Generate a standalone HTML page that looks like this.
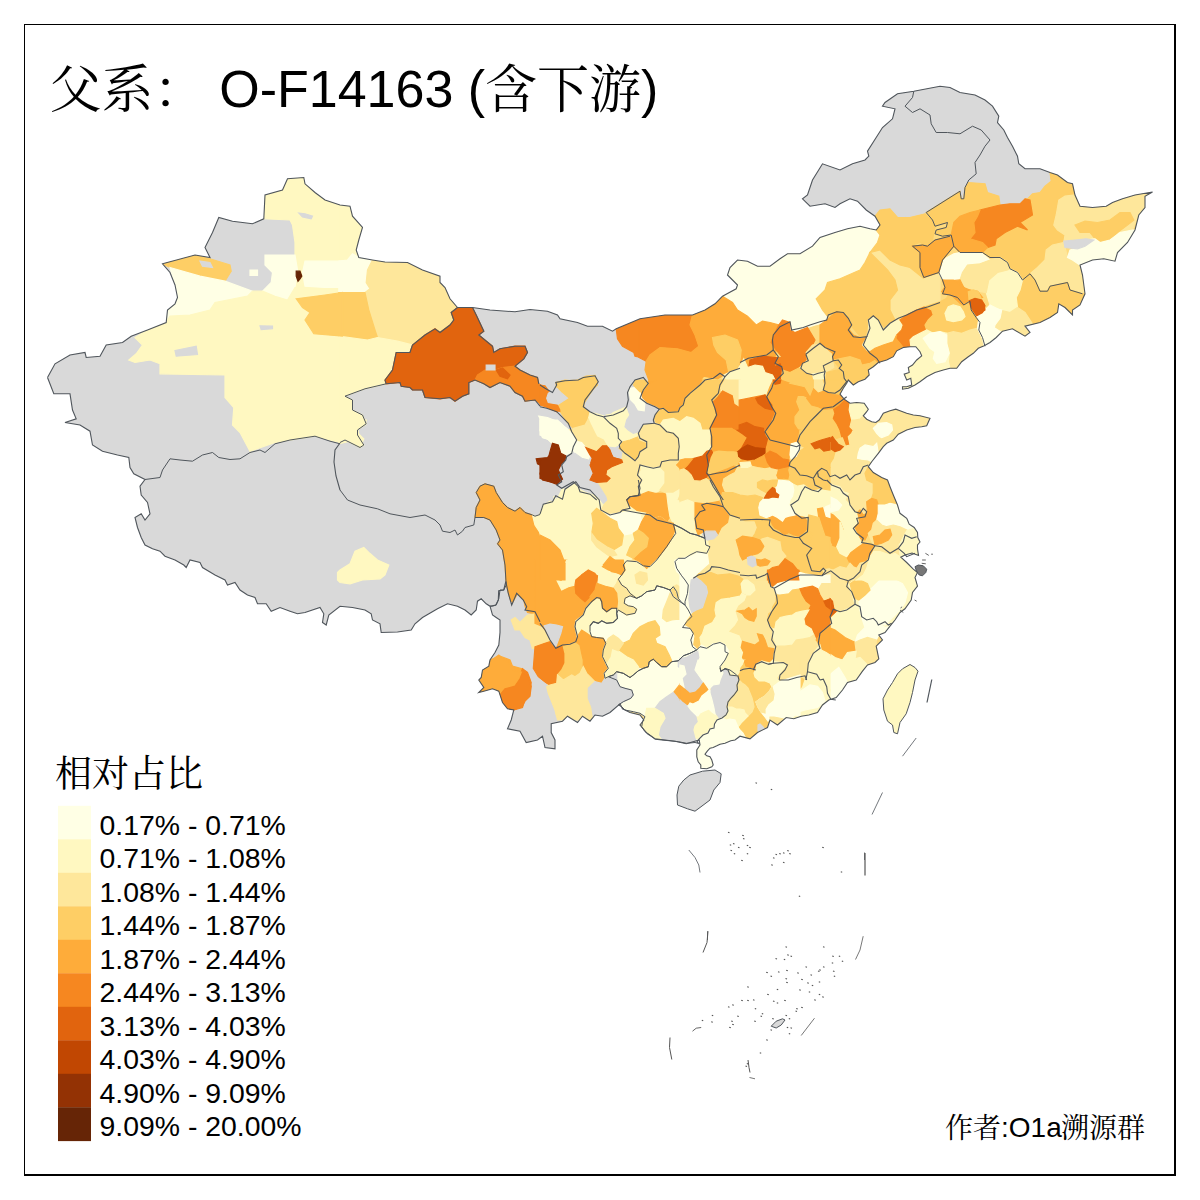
<!DOCTYPE html>
<html><head><meta charset="utf-8"><title>O-F14163</title>
<style>
html,body{margin:0;padding:0;background:#fff;}
body{width:1200px;height:1200px;position:relative;overflow:hidden;font-family:"Liberation Sans","Noto Serif CJK SC",sans-serif;color:#000;}
.ln{position:absolute;background:#000;}
#map{position:absolute;left:0;top:0;}
</style></head><body>
<svg id="map" width="1200" height="1200" viewBox="0 0 1200 1200">
<defs><clipPath id="cn"><polygon points="47.5,377.5 55.0,363.8 70.0,355.0 85.0,352.5 86.2,357.5 100.0,356.2 106.2,345.0 122.5,342.5 131.2,336.2 147.5,330.0 166.2,322.5 167.5,310.0 175.0,303.8 177.5,297.5 175.0,285.0 170.0,272.5 162.5,263.8 195.0,255.0 210.0,257.5 205.0,247.5 212.5,232.5 218.8,217.5 232.5,221.2 252.5,223.8 263.8,218.8 265.0,195.0 282.5,190.0 287.5,178.8 303.8,177.5 305.0,183.8 315.0,192.5 325.0,200.0 340.0,205.0 350.0,206.2 352.5,216.2 362.5,227.5 358.8,240.0 356.2,250.0 358.8,257.5 372.5,260.0 385.0,262.0 407.5,262.5 422.5,270.0 440.0,276.2 440.0,282.5 445.0,287.5 450.0,298.8 457.5,307.5 472.5,307.5 490.0,310.0 515.0,311.8 530.0,309.5 547.5,311.2 557.5,315.0 560.0,318.8 577.5,322.5 587.5,326.2 602.5,326.2 612.5,331.2 616.2,328.8 640.0,318.8 665.0,315.0 692.5,315.0 705.0,310.0 715.0,303.8 722.5,296.2 736.2,288.8 737.5,285.0 727.5,275.0 730.0,267.5 737.5,260.0 747.5,261.2 757.5,266.2 770.0,266.2 780.0,258.8 787.5,253.8 800.0,253.8 812.5,246.2 820.0,237.5 835.0,232.5 847.5,228.8 860.0,226.2 870.0,228.8 876.2,230.0 880.0,225.0 875.0,216.2 866.2,210.0 857.5,201.2 850.0,198.8 840.0,203.8 835.0,207.5 825.0,203.8 810.0,206.2 802.5,198.8 807.5,195.0 812.5,180.0 822.5,163.8 840.0,170.0 852.5,163.8 865.0,160.0 865.0,160.0 868.8,156.2 867.5,151.2 873.8,141.2 882.5,127.5 892.5,118.8 895.0,108.8 882.5,106.2 885.0,102.5 897.5,93.8 913.8,91.2 940.0,86.2 950.0,87.5 960.0,92.5 975.0,95.0 985.0,100.0 992.5,106.2 998.8,116.2 997.5,122.5 1003.8,130.0 1007.5,137.5 1012.5,146.2 1017.5,156.2 1018.8,163.8 1025.0,168.8 1040.0,168.8 1050.0,172.5 1057.5,175.0 1067.5,182.5 1072.5,183.8 1075.0,195.0 1080.0,206.2 1092.5,207.5 1106.2,206.2 1112.5,202.5 1122.5,198.8 1135.0,195.0 1152.5,192.0 1145.0,196.2 1145.0,207.5 1138.8,215.0 1135.0,230.0 1127.5,242.5 1117.5,252.5 1115.0,261.2 1103.8,258.8 1092.5,260.0 1080.0,265.0 1082.5,275.0 1085.0,293.8 1080.0,305.0 1072.5,310.0 1072.5,315.0 1065.0,307.5 1058.8,303.8 1057.5,312.5 1050.0,317.5 1040.0,322.5 1025.0,326.2 1030.0,332.5 1025.0,336.2 1012.5,328.8 1002.5,331.2 996.2,337.5 990.0,342.5 984.2,345.8 978.3,348.3 973.3,353.3 968.3,356.7 961.7,361.7 956.7,368.3 950.0,368.3 943.3,370.0 935.0,372.5 926.7,376.7 920.0,381.7 915.0,385.0 908.3,388.3 902.5,389.2 902.5,386.7 906.7,386.7 911.7,385.0 910.8,378.3 906.7,380.0 904.2,374.2 909.2,372.5 908.3,367.5 912.5,365.0 916.7,360.0 921.7,355.8 920.0,351.7 915.8,346.7 910.0,346.7 903.3,347.5 896.7,350.8 893.3,356.7 886.7,360.0 878.3,362.5 873.3,366.7 868.3,370.0 869.2,375.0 865.0,379.2 858.3,381.7 853.3,385.0 848.3,380.0 846.7,383.3 843.3,388.3 840.0,394.2 844.2,399.2 850.0,403.3 856.7,402.5 864.2,403.3 868.3,409.2 866.7,411.7 863.3,415.8 866.7,419.2 871.7,421.7 875.8,422.5 879.2,420.0 883.3,413.3 890.0,410.8 895.8,409.2 900.0,410.8 906.7,413.3 913.3,415.0 920.0,415.8 930.0,418.3 926.7,425.8 921.7,426.7 915.0,427.5 906.7,430.0 898.3,434.2 893.3,440.0 886.7,443.3 883.3,446.7 878.3,453.3 871.7,461.7 868.3,466.7 873.3,472.5 881.7,477.5 887.5,480.0 890.0,486.7 893.3,495.0 897.5,505.0 900.0,513.3 906.7,518.3 907.5,520.0 909.2,524.2 914.2,527.5 917.5,532.5 917.8,537.5 920.0,542.0 917.5,545.0 917.5,549.0 918.5,555.5 912.0,553.0 905.0,555.0 900.8,557.2 906.7,562.5 913.3,569.2 917.5,572.5 915.0,577.5 917.5,586.2 912.5,592.5 911.2,600.0 905.0,608.8 900.0,612.5 895.0,620.0 890.0,626.2 885.0,632.5 878.8,635.0 882.5,640.0 876.2,646.2 878.8,658.8 875.0,662.5 867.5,665.0 862.5,671.2 856.2,680.0 847.5,682.5 842.5,690.0 836.2,697.5 828.8,700.0 822.5,705.0 817.5,712.5 808.8,715.0 801.2,716.2 793.8,718.8 786.2,717.5 777.5,725.0 770.0,720.0 767.5,727.5 757.5,732.5 750.0,738.8 740.0,736.2 740.0,736.2 735.0,740.0 730.8,740.8 725.0,743.2 720.0,744.2 716.8,745.8 713.2,747.5 710.0,748.2 707.5,750.8 705.0,754.2 706.8,755.8 710.0,756.8 711.8,760.0 713.2,765.0 711.8,766.8 706.8,768.8 700.8,768.2 700.8,765.0 698.2,761.8 696.8,756.8 696.8,750.0 700.0,745.0 699.2,740.0 686.2,743.8 675.0,741.2 665.0,740.0 655.0,738.8 647.5,733.8 640.0,725.0 643.8,720.0 640.0,715.0 630.0,712.5 622.5,708.8 620.0,703.8 610.0,712.5 602.5,716.2 595.0,715.0 590.0,721.2 582.5,716.2 577.5,722.5 567.5,716.2 562.5,721.2 551.2,723.8 551.2,732.5 555.0,740.0 555.0,748.8 545.0,747.5 542.5,736.2 537.5,740.0 526.2,742.5 520.0,731.2 507.5,728.8 511.2,720.0 511.2,720.0 513.8,710.0 507.5,708.8 502.5,702.5 498.8,691.2 492.5,688.8 483.8,691.2 478.8,692.5 483.8,687.5 478.8,680.0 481.2,677.5 482.5,670.0 488.8,666.2 490.0,660.0 495.0,652.5 498.8,645.0 500.0,632.5 500.0,620.0 496.2,617.5 492.5,615.0 490.0,606.2 486.2,603.8 481.2,598.8 477.5,601.2 476.2,610.0 471.2,615.0 465.0,610.0 457.5,606.2 447.5,603.8 437.5,608.8 422.5,617.5 415.0,623.8 411.2,630.0 397.5,632.0 381.2,632.5 380.0,623.8 372.5,620.0 371.2,613.8 365.0,610.0 352.5,607.5 340.0,606.2 328.8,615.0 326.2,625.0 322.5,622.5 323.8,613.8 320.0,607.5 305.0,612.5 297.5,613.8 290.0,611.2 280.0,607.5 271.2,611.2 266.2,603.8 257.5,603.8 255.0,597.5 247.5,595.0 240.0,590.0 235.0,582.5 227.5,585.0 225.0,580.0 215.0,575.0 202.5,567.5 200.0,562.5 190.0,560.0 186.2,567.5 183.8,565.0 175.0,560.0 165.0,556.2 160.0,551.2 152.5,548.8 145.0,545.0 141.2,537.5 137.5,527.5 135.0,517.5 141.2,513.8 145.0,520.0 150.0,513.8 147.5,502.5 141.2,495.0 140.0,486.2 145.0,479.5 133.8,473.8 130.0,467.5 128.8,457.5 117.5,455.0 102.5,451.2 92.5,445.0 90.0,431.2 80.0,425.0 65.0,422.5 76.2,418.8 72.5,410.0 70.0,393.8 53.8,393.8"/></clipPath></defs>
<g clip-path="url(#cn)">
<polygon points="47.5,377.5 55.0,363.8 70.0,355.0 85.0,352.5 86.2,357.5 100.0,356.2 106.2,345.0 122.5,342.5 131.2,336.2 147.5,330.0 166.2,322.5 167.5,310.0 175.0,303.8 177.5,297.5 175.0,285.0 170.0,272.5 162.5,263.8 195.0,255.0 210.0,257.5 205.0,247.5 212.5,232.5 218.8,217.5 232.5,221.2 252.5,223.8 263.8,218.8 265.0,195.0 282.5,190.0 287.5,178.8 303.8,177.5 305.0,183.8 315.0,192.5 325.0,200.0 340.0,205.0 350.0,206.2 352.5,216.2 362.5,227.5 358.8,240.0 356.2,250.0 358.8,257.5 372.5,260.0 385.0,262.0 407.5,262.5 422.5,270.0 440.0,276.2 440.0,282.5 445.0,287.5 450.0,298.8 457.5,307.5 472.5,307.5 490.0,310.0 515.0,311.8 530.0,309.5 547.5,311.2 557.5,315.0 560.0,318.8 577.5,322.5 587.5,326.2 602.5,326.2 612.5,331.2 616.2,328.8 640.0,318.8 665.0,315.0 692.5,315.0 705.0,310.0 715.0,303.8 722.5,296.2 736.2,288.8 737.5,285.0 727.5,275.0 730.0,267.5 737.5,260.0 747.5,261.2 757.5,266.2 770.0,266.2 780.0,258.8 787.5,253.8 800.0,253.8 812.5,246.2 820.0,237.5 835.0,232.5 847.5,228.8 860.0,226.2 870.0,228.8 876.2,230.0 880.0,225.0 875.0,216.2 866.2,210.0 857.5,201.2 850.0,198.8 840.0,203.8 835.0,207.5 825.0,203.8 810.0,206.2 802.5,198.8 807.5,195.0 812.5,180.0 822.5,163.8 840.0,170.0 852.5,163.8 865.0,160.0 865.0,160.0 868.8,156.2 867.5,151.2 873.8,141.2 882.5,127.5 892.5,118.8 895.0,108.8 882.5,106.2 885.0,102.5 897.5,93.8 913.8,91.2 940.0,86.2 950.0,87.5 960.0,92.5 975.0,95.0 985.0,100.0 992.5,106.2 998.8,116.2 997.5,122.5 1003.8,130.0 1007.5,137.5 1012.5,146.2 1017.5,156.2 1018.8,163.8 1025.0,168.8 1040.0,168.8 1050.0,172.5 1057.5,175.0 1067.5,182.5 1072.5,183.8 1075.0,195.0 1080.0,206.2 1092.5,207.5 1106.2,206.2 1112.5,202.5 1122.5,198.8 1135.0,195.0 1152.5,192.0 1145.0,196.2 1145.0,207.5 1138.8,215.0 1135.0,230.0 1127.5,242.5 1117.5,252.5 1115.0,261.2 1103.8,258.8 1092.5,260.0 1080.0,265.0 1082.5,275.0 1085.0,293.8 1080.0,305.0 1072.5,310.0 1072.5,315.0 1065.0,307.5 1058.8,303.8 1057.5,312.5 1050.0,317.5 1040.0,322.5 1025.0,326.2 1030.0,332.5 1025.0,336.2 1012.5,328.8 1002.5,331.2 996.2,337.5 990.0,342.5 984.2,345.8 978.3,348.3 973.3,353.3 968.3,356.7 961.7,361.7 956.7,368.3 950.0,368.3 943.3,370.0 935.0,372.5 926.7,376.7 920.0,381.7 915.0,385.0 908.3,388.3 902.5,389.2 902.5,386.7 906.7,386.7 911.7,385.0 910.8,378.3 906.7,380.0 904.2,374.2 909.2,372.5 908.3,367.5 912.5,365.0 916.7,360.0 921.7,355.8 920.0,351.7 915.8,346.7 910.0,346.7 903.3,347.5 896.7,350.8 893.3,356.7 886.7,360.0 878.3,362.5 873.3,366.7 868.3,370.0 869.2,375.0 865.0,379.2 858.3,381.7 853.3,385.0 848.3,380.0 846.7,383.3 843.3,388.3 840.0,394.2 844.2,399.2 850.0,403.3 856.7,402.5 864.2,403.3 868.3,409.2 866.7,411.7 863.3,415.8 866.7,419.2 871.7,421.7 875.8,422.5 879.2,420.0 883.3,413.3 890.0,410.8 895.8,409.2 900.0,410.8 906.7,413.3 913.3,415.0 920.0,415.8 930.0,418.3 926.7,425.8 921.7,426.7 915.0,427.5 906.7,430.0 898.3,434.2 893.3,440.0 886.7,443.3 883.3,446.7 878.3,453.3 871.7,461.7 868.3,466.7 873.3,472.5 881.7,477.5 887.5,480.0 890.0,486.7 893.3,495.0 897.5,505.0 900.0,513.3 906.7,518.3 907.5,520.0 909.2,524.2 914.2,527.5 917.5,532.5 917.8,537.5 920.0,542.0 917.5,545.0 917.5,549.0 918.5,555.5 912.0,553.0 905.0,555.0 900.8,557.2 906.7,562.5 913.3,569.2 917.5,572.5 915.0,577.5 917.5,586.2 912.5,592.5 911.2,600.0 905.0,608.8 900.0,612.5 895.0,620.0 890.0,626.2 885.0,632.5 878.8,635.0 882.5,640.0 876.2,646.2 878.8,658.8 875.0,662.5 867.5,665.0 862.5,671.2 856.2,680.0 847.5,682.5 842.5,690.0 836.2,697.5 828.8,700.0 822.5,705.0 817.5,712.5 808.8,715.0 801.2,716.2 793.8,718.8 786.2,717.5 777.5,725.0 770.0,720.0 767.5,727.5 757.5,732.5 750.0,738.8 740.0,736.2 740.0,736.2 735.0,740.0 730.8,740.8 725.0,743.2 720.0,744.2 716.8,745.8 713.2,747.5 710.0,748.2 707.5,750.8 705.0,754.2 706.8,755.8 710.0,756.8 711.8,760.0 713.2,765.0 711.8,766.8 706.8,768.8 700.8,768.2 700.8,765.0 698.2,761.8 696.8,756.8 696.8,750.0 700.0,745.0 699.2,740.0 686.2,743.8 675.0,741.2 665.0,740.0 655.0,738.8 647.5,733.8 640.0,725.0 643.8,720.0 640.0,715.0 630.0,712.5 622.5,708.8 620.0,703.8 610.0,712.5 602.5,716.2 595.0,715.0 590.0,721.2 582.5,716.2 577.5,722.5 567.5,716.2 562.5,721.2 551.2,723.8 551.2,732.5 555.0,740.0 555.0,748.8 545.0,747.5 542.5,736.2 537.5,740.0 526.2,742.5 520.0,731.2 507.5,728.8 511.2,720.0 511.2,720.0 513.8,710.0 507.5,708.8 502.5,702.5 498.8,691.2 492.5,688.8 483.8,691.2 478.8,692.5 483.8,687.5 478.8,680.0 481.2,677.5 482.5,670.0 488.8,666.2 490.0,660.0 495.0,652.5 498.8,645.0 500.0,632.5 500.0,620.0 496.2,617.5 492.5,615.0 490.0,606.2 486.2,603.8 481.2,598.8 477.5,601.2 476.2,610.0 471.2,615.0 465.0,610.0 457.5,606.2 447.5,603.8 437.5,608.8 422.5,617.5 415.0,623.8 411.2,630.0 397.5,632.0 381.2,632.5 380.0,623.8 372.5,620.0 371.2,613.8 365.0,610.0 352.5,607.5 340.0,606.2 328.8,615.0 326.2,625.0 322.5,622.5 323.8,613.8 320.0,607.5 305.0,612.5 297.5,613.8 290.0,611.2 280.0,607.5 271.2,611.2 266.2,603.8 257.5,603.8 255.0,597.5 247.5,595.0 240.0,590.0 235.0,582.5 227.5,585.0 225.0,580.0 215.0,575.0 202.5,567.5 200.0,562.5 190.0,560.0 186.2,567.5 183.8,565.0 175.0,560.0 165.0,556.2 160.0,551.2 152.5,548.8 145.0,545.0 141.2,537.5 137.5,527.5 135.0,517.5 141.2,513.8 145.0,520.0 150.0,513.8 147.5,502.5 141.2,495.0 140.0,486.2 145.0,479.5 133.8,473.8 130.0,467.5 128.8,457.5 117.5,455.0 102.5,451.2 92.5,445.0 90.0,431.2 80.0,425.0 65.0,422.5 76.2,418.8 72.5,410.0 70.0,393.8 53.8,393.8" fill="#d9d9d9" stroke="#d9d9d9" stroke-width="1.2"/>
<polygon points="668.0,322.0 700.0,312.0 735.0,288.0 760.0,262.0 800.0,250.0 850.0,228.0 876.0,230.0 878.0,214.0 900.0,212.0 930.0,214.0 960.0,195.0 1000.0,185.0 1060.0,168.0 1100.0,150.0 1180.0,160.0 1180.0,340.0 1020.0,340.0 1000.0,440.0 960.0,600.0 900.0,720.0 780.0,770.0 700.0,770.0 690.0,740.0 640.0,740.0 620.0,700.0 600.0,640.0 610.0,590.0 600.0,560.0 640.0,540.0 660.0,500.0 640.0,470.0 650.0,440.0 670.0,420.0 660.0,380.0 668.0,350.0" fill="#fedb80" stroke="#fedb80" stroke-width="1.2"/>
<polygon points="875.0,216.2 877.5,211.2 885.0,208.8 892.5,211.2 895.0,217.5 905.0,217.5 917.5,215.0 926.2,212.5 960.0,191.2 961.2,198.8 963.8,198.8 965.0,187.5 968.8,182.5 985.0,183.8 987.5,192.5 998.8,196.2 1000.0,205.0 1010.0,203.8 1020.0,203.8 1027.5,198.8 1032.5,193.8 1040.0,192.5 1045.0,186.2 1051.2,181.2 1050.0,172.5 1060.0,135.0 1010.0,35.0 860.0,35.0 810.0,160.0 810.0,216.2" fill="#d9d9d9" stroke="#d9d9d9" stroke-width="1.2"/>
<polygon points="263.8,218.8 265.0,195.0 282.5,190.0 287.5,178.8 303.8,177.5 305.0,183.8 315.0,192.5 325.0,200.0 340.0,205.0 342.5,205.0 342.5,261.2 305.0,261.2 302.5,272.5 305.0,286.2 295.0,287.5 297.5,270.0 295.0,255.0 295.0,242.5 292.5,225.0 290.0,220.0" fill="#fff8c1" stroke="#fff8c1" stroke-width="1.2"/>
<polygon points="162.5,263.8 195.0,255.0 210.0,258.8 230.0,265.0 231.2,271.2 225.0,281.2 200.0,276.2 170.0,267.5" fill="#fece65" stroke="#fece65" stroke-width="1.2"/>
<polygon points="170.0,267.5 200.0,276.2 225.0,281.2 252.5,291.2 247.5,296.2 215.0,302.5 210.0,310.0 190.0,315.0 170.0,316.2 166.2,322.5 167.5,310.0 175.0,303.8 177.5,297.5 175.0,285.0" fill="#ffffe5" stroke="#ffffe5" stroke-width="1.2"/>
<polygon points="265.0,255.0 295.0,255.0 297.5,270.0 295.0,287.5 287.5,300.0 275.0,296.2 262.5,291.2 271.2,282.5 272.5,272.5 265.0,265.0" fill="#ffffe5" stroke="#ffffe5" stroke-width="1.2"/>
<polygon points="250.0,270.0 257.5,270.0 257.5,275.5 250.0,275.5" fill="#ffffe5" stroke="#ffffe5" stroke-width="1.2"/>
<polygon points="135.0,337.5 147.5,330.0 166.2,322.5 170.0,316.2 190.0,315.0 210.0,310.0 215.0,302.5 247.5,296.2 252.5,291.2 262.5,291.2 275.0,296.2 287.5,300.0 295.0,287.5 305.0,286.2 325.0,287.5 342.5,287.5 342.5,442.5 340.0,442.5 315.0,436.2 275.0,442.5 250.0,451.2 240.0,432.5 232.5,425.0 233.8,407.5 225.0,397.5 225.0,375.0 160.0,373.8 160.0,363.8 150.0,360.0 135.0,362.5 128.8,360.0 136.2,353.8 142.5,345.0" fill="#fff8c1" stroke="#fff8c1" stroke-width="1.2"/>
<polygon points="338.8,205.0 350.0,206.2 352.5,216.2 362.5,227.5 358.8,240.0 356.2,250.0 358.8,257.5 352.5,253.8 347.5,260.0 338.8,261.2" fill="#fff8c1" stroke="#fff8c1" stroke-width="1.2"/>
<polygon points="338.8,261.2 347.5,260.0 352.5,253.8 358.8,257.5 372.5,260.0 367.5,270.0 366.2,282.5 370.0,288.8 365.0,292.5 338.8,292.5" fill="#ffffe5" stroke="#ffffe5" stroke-width="1.2"/>
<polygon points="372.5,260.0 385.0,262.0 407.5,262.5 422.5,270.0 440.0,276.2 440.0,282.5 445.0,287.5 450.0,298.8 457.5,307.5 451.2,312.5 453.8,320.0 450.0,325.0 440.0,332.5 435.0,328.8 425.0,335.0 412.5,345.0 397.5,341.2 377.5,337.5 375.0,330.0 368.8,310.0 365.0,292.5 370.0,288.8 366.2,282.5 367.5,270.0" fill="#fee79b" stroke="#fee79b" stroke-width="1.2"/>
<polygon points="338.8,292.5 365.0,292.5 368.8,310.0 375.0,330.0 377.5,337.5 367.5,340.0 338.8,336.2" fill="#fece65" stroke="#fece65" stroke-width="1.2"/>
<polygon points="338.8,336.2 367.5,340.0 377.5,337.5 397.5,341.2 412.5,345.0 410.0,352.5 396.2,352.5 392.5,370.0 385.0,380.0 386.2,383.8 365.0,388.8 345.0,396.2 352.5,400.0 352.5,410.0 362.5,415.0 366.2,423.8 357.5,430.0 357.5,435.0 363.8,445.0 360.0,447.5 345.0,440.0 338.8,442.5" fill="#fff8c1" stroke="#fff8c1" stroke-width="1.2"/>
<polygon points="457.5,307.5 472.5,307.5 476.2,315.0 483.8,331.2 478.8,335.0 492.5,346.2 493.8,352.5 500.0,348.8 515.0,346.2 525.0,346.2 527.5,352.5 523.8,358.8 515.0,366.2 502.5,367.5 495.0,370.0 485.0,370.0 477.5,375.0 475.0,380.0 468.8,382.5 468.8,393.8 462.5,396.2 455.0,401.2 450.0,397.5 440.0,398.8 425.0,397.5 422.5,390.0 412.5,390.0 410.0,387.5 401.2,386.2 400.0,382.5 386.2,383.8 385.0,380.0 392.5,370.0 396.2,352.5 410.0,352.5 412.5,345.0 425.0,335.0 435.0,328.8 440.0,332.5 450.0,325.0 453.8,320.0 451.2,312.5" fill="#e1640e" stroke="#e1640e" stroke-width="1.2"/>
<polygon points="556.2,382.5 565.0,380.0 575.0,381.2 586.2,376.2 595.0,375.5 597.5,382.5 590.0,393.8 583.8,403.8 583.8,410.0 590.0,415.0 587.5,425.0 573.8,428.8 567.5,422.5 560.0,411.2 560.0,406.2 571.2,401.2 570.0,393.8 560.0,387.5" fill="#fece65" stroke="#fece65" stroke-width="1.2"/>
<polygon points="616.2,328.8 641.2,318.8 641.2,357.5 635.0,356.2 633.8,352.5 622.5,346.2 617.5,338.8" fill="#f68720" stroke="#f68720" stroke-width="1.2"/>
<polygon points="538.8,416.2 547.5,417.5 560.0,422.5 567.5,430.0 575.0,440.0 573.8,450.0 570.0,456.2 565.0,450.0 557.5,442.5 542.5,437.5 540.0,430.0 543.8,425.0" fill="#ffffe5" stroke="#ffffe5" stroke-width="1.2"/>
<polygon points="573.8,428.8 587.5,425.0 592.5,435.0 595.0,442.5 585.0,447.5 575.0,440.0 567.5,430.0" fill="#fee79b" stroke="#fee79b" stroke-width="1.2"/>
<polygon points="587.5,425.0 590.0,415.0 601.2,417.5 607.5,420.0 615.0,428.8 617.5,442.5 602.5,445.0 595.0,442.5 592.5,435.0" fill="#fff8c1" stroke="#fff8c1" stroke-width="1.2"/>
<polygon points="607.5,420.0 606.2,415.0 626.2,412.5 630.0,417.5 625.0,425.0 640.0,435.0 640.0,440.0 633.8,437.5 622.5,447.5 617.5,442.5 615.0,428.8" fill="#fff8c1" stroke="#fff8c1" stroke-width="1.2"/>
<polygon points="722.5,296.2 736.2,288.8 737.5,285.0 727.5,275.0 730.0,267.5 737.5,260.0 747.5,261.2 757.5,266.2 770.0,266.2 780.0,258.8 787.5,253.8 800.0,253.8 812.5,246.2 820.0,237.5 835.0,232.5 847.5,228.8 860.0,226.2 870.0,228.8 876.2,230.0 880.0,235.0 877.5,242.5 870.0,252.5 865.0,262.5 860.0,270.0 840.0,278.8 827.5,282.5 825.0,290.0 816.2,298.8 822.5,310.0 827.5,316.2 825.0,322.5 815.0,325.0 807.5,327.5 795.0,332.5 790.0,330.0 790.0,322.5 782.5,320.0 778.8,325.0 770.0,322.5 762.5,321.2 756.2,325.0 747.5,316.2 737.5,310.0 732.5,302.5" fill="#ffffe5" stroke="#ffffe5" stroke-width="1.2"/>
<polygon points="870.0,252.5 880.0,250.0 890.0,260.0 900.0,265.0 910.0,267.5 922.5,277.5 940.0,273.8 940.0,303.8 933.8,307.5 922.5,307.5 915.0,310.0 905.0,316.2 895.0,320.0 890.0,310.0 890.0,300.0 897.5,290.0 895.0,280.0 887.5,270.0 880.0,262.5" fill="#fee79b" stroke="#fee79b" stroke-width="1.2"/>
<polygon points="870.0,252.5 880.0,262.5 887.5,270.0 895.0,280.0 897.5,290.0 890.0,300.0 890.0,310.0 895.0,320.0 885.0,327.5 880.0,322.5 873.8,316.2 868.8,320.0 865.0,337.5 860.0,336.2 852.5,327.5 847.5,320.0 840.0,311.2 827.5,316.2 822.5,310.0 816.2,298.8 825.0,290.0 827.5,282.5 840.0,278.8 860.0,270.0 865.0,262.5" fill="#fece65" stroke="#fece65" stroke-width="1.2"/>
<polygon points="876.2,230.0 880.0,225.0 875.0,216.2 880.0,210.0 890.0,208.8 897.5,217.5 910.0,217.5 925.0,213.8 931.2,220.0 935.0,227.5 932.5,240.0 927.5,246.2 920.0,242.5 912.5,245.0 917.5,250.0 921.2,260.0 920.0,270.0 922.5,277.5 910.0,267.5 900.0,265.0 890.0,260.0 880.0,250.0 870.0,252.5 877.5,242.5 880.0,235.0" fill="#fece65" stroke="#fece65" stroke-width="1.2"/>
<polygon points="638.8,319.2 665.0,315.0 692.5,315.0 690.0,325.0 695.0,335.0 698.8,346.2 691.2,352.5 677.5,348.8 660.0,347.5 650.0,355.0 646.2,361.2 638.8,357.5" fill="#f68720" stroke="#f68720" stroke-width="1.2"/>
<polygon points="692.5,315.0 705.0,310.0 715.0,303.8 722.5,296.2 732.5,302.5 737.5,310.0 747.5,316.2 756.2,325.0 762.5,321.2 770.0,322.5 778.8,325.0 773.8,335.0 771.2,342.5 776.2,350.0 775.0,357.5 762.5,356.2 750.0,360.0 747.5,367.5 743.8,358.8 737.5,370.0 728.8,372.5 723.8,375.0 717.5,378.8 703.8,376.2 697.5,383.8 690.0,392.5 682.5,400.0 676.2,411.2 665.0,410.0 655.0,401.2 647.5,392.5 648.8,380.0 645.0,370.0 646.2,361.2 650.0,355.0 660.0,347.5 677.5,348.8 691.2,352.5 698.8,346.2 695.0,335.0 690.0,325.0" fill="#feac3a" stroke="#feac3a" stroke-width="1.2"/>
<polygon points="926.2,212.5 960.0,191.2 961.2,198.8 963.8,198.8 965.0,187.5 968.8,182.5 985.0,183.8 987.5,192.5 998.8,196.2 1000.0,205.0 980.0,210.0 970.0,212.5 960.0,216.2 953.8,222.5 951.2,235.0 942.5,236.2 935.0,233.8 936.2,230.0 946.2,227.5 947.5,222.5 935.0,226.2 932.5,220.0" fill="#fece65" stroke="#fece65" stroke-width="1.2"/>
<polygon points="1050.0,172.5 1057.5,175.0 1067.5,182.5 1072.5,183.8 1075.0,195.0 1065.0,196.2 1058.8,200.0 1056.2,215.0 1053.8,225.0 1057.5,230.0 1065.0,235.0 1063.8,242.5 1052.5,245.0 1046.2,250.0 1045.0,260.0 1037.5,267.5 1030.0,273.8 1022.5,280.0 1017.5,272.5 1010.0,268.8 1007.5,262.5 1000.0,257.5 990.0,257.5 982.5,252.5 987.5,247.5 995.0,245.0 996.2,238.8 1005.0,232.5 1017.5,226.2 1027.5,230.0 1020.0,222.5 1032.5,215.0 1030.0,200.0 1025.0,198.8 1027.5,198.8 1032.5,193.8 1040.0,192.5 1045.0,186.2 1051.2,181.2" fill="#fece65" stroke="#fece65" stroke-width="1.2"/>
<polygon points="1000.0,205.0 1010.0,203.8 1020.0,203.8 1025.0,198.8 1030.0,200.0 1032.5,215.0 1020.0,222.5 1027.5,230.0 1017.5,226.2 1005.0,232.5 996.2,238.8 995.0,245.0 987.5,247.5 982.5,242.5 970.0,238.8 975.0,232.5 973.8,222.5 977.5,216.2 980.0,210.0" fill="#f68720" stroke="#f68720" stroke-width="1.2"/>
<polygon points="953.8,222.5 960.0,216.2 970.0,212.5 980.0,210.0 977.5,216.2 973.8,222.5 975.0,232.5 970.0,238.8 982.5,242.5 987.5,247.5 982.5,252.5 970.0,252.5 960.0,252.5 953.8,246.2 951.2,235.0" fill="#feac3a" stroke="#feac3a" stroke-width="1.2"/>
<polygon points="1075.0,195.0 1080.0,206.2 1092.5,207.5 1106.2,206.2 1112.5,202.5 1122.5,198.8 1135.0,195.0 1152.5,192.0 1145.0,196.2 1145.0,207.5 1138.8,215.0 1135.0,222.5 1132.5,230.0 1120.0,232.5 1110.0,240.0 1100.0,242.5 1095.0,238.8 1085.0,240.0 1072.5,240.0 1063.8,242.5 1065.0,235.0 1057.5,230.0 1053.8,225.0 1056.2,215.0 1058.8,200.0 1065.0,196.2" fill="#fee79b" stroke="#fee79b" stroke-width="1.2"/>
<polygon points="1046.2,250.0 1052.5,245.0 1063.8,242.5 1067.5,257.5 1072.5,260.0 1080.0,265.0 1082.5,275.0 1085.0,293.8 1082.5,293.8 1070.0,290.0 1067.5,282.5 1050.0,286.2 1047.5,291.2 1040.0,291.2 1035.0,280.0 1030.0,273.8 1037.5,267.5 1045.0,260.0" fill="#fee79b" stroke="#fee79b" stroke-width="1.2"/>
<polygon points="1022.5,280.0 1030.0,273.8 1035.0,280.0 1040.0,291.2 1047.5,291.2 1050.0,286.2 1067.5,282.5 1070.0,290.0 1082.5,293.8 1085.0,293.8 1080.0,305.0 1072.5,310.0 1072.5,315.0 1065.0,307.5 1058.8,303.8 1057.5,312.5 1050.0,317.5 1040.0,322.5 1032.5,323.8 1025.0,312.5 1017.5,307.5 1016.2,297.5 1020.0,290.0" fill="#fece65" stroke="#fece65" stroke-width="1.2"/>
<polygon points="988.8,280.0 997.5,272.5 1007.5,270.0 1010.0,268.8 1017.5,272.5 1022.5,280.0 1020.0,290.0 1016.2,297.5 1017.5,307.5 1010.0,312.5 1000.0,310.0 990.0,305.0 986.2,292.5" fill="#fff8c1" stroke="#fff8c1" stroke-width="1.2"/>
<polygon points="942.5,260.0 953.8,253.8 960.0,252.5 970.0,252.5 982.5,253.8 990.0,260.0 980.0,263.8 967.5,265.0 962.5,272.5 960.0,280.0 947.5,281.2 942.5,280.0 938.8,272.5" fill="#ffffe5" stroke="#ffffe5" stroke-width="1.2"/>
<polygon points="967.5,265.0 980.0,263.8 990.0,260.0 1000.0,257.5 1007.5,262.5 1010.0,268.8 1007.5,270.0 997.5,272.5 988.8,280.0 986.2,292.5 977.5,291.2 970.0,290.0 963.8,287.5 960.0,280.0 962.5,272.5" fill="#fee79b" stroke="#fee79b" stroke-width="1.2"/>
<polygon points="942.5,280.0 947.5,281.2 960.0,280.0 963.8,287.5 970.0,290.0 967.5,300.0 963.8,305.0 957.5,297.5 950.0,295.0 942.5,293.8 945.0,287.5" fill="#feac3a" stroke="#feac3a" stroke-width="1.2"/>
<polygon points="970.0,290.0 977.5,291.2 982.5,297.5 977.5,298.8 970.0,297.5" fill="#feac3a" stroke="#feac3a" stroke-width="1.2"/>
<polygon points="980.0,322.5 976.2,317.5 977.5,315.0 985.0,310.0 990.0,305.0 1000.0,310.0 996.2,317.5 992.5,325.0 1000.0,330.0 1002.5,331.2 996.2,337.5 990.0,342.5 985.0,346.2 982.5,337.5 978.8,330.0" fill="#ffffe5" stroke="#ffffe5" stroke-width="1.2"/>
<polygon points="1000.0,310.0 1010.0,312.5 1017.5,307.5 1025.0,312.5 1032.5,323.8 1025.0,326.2 1030.0,332.5 1025.0,336.2 1012.5,328.8 1002.5,331.2 1000.0,330.0 992.5,325.0 996.2,317.5" fill="#fee79b" stroke="#fee79b" stroke-width="1.2"/>
<polygon points="338.8,420.0 366.2,420.0 365.0,425.0 357.5,428.8 358.8,433.8 363.8,438.8 361.2,445.0 350.0,441.2 338.8,443.8" fill="#fff8c1" stroke="#fff8c1" stroke-width="1.2"/>
<polygon points="337.5,572.5 340.0,570.0 350.0,563.8 355.0,551.2 363.8,547.5 368.8,552.5 377.5,560.0 388.8,565.0 385.0,575.0 380.0,578.8 362.5,580.0 350.0,583.8 340.0,582.5 337.5,580.0" fill="#fff8c1" stroke="#fff8c1" stroke-width="1.2"/>
<polygon points="476.2,492.5 480.0,486.2 485.0,483.8 493.8,486.2 496.2,492.5 502.5,502.5 507.5,507.5 515.0,511.2 520.0,507.5 525.0,512.5 532.5,515.0 535.0,525.0 540.0,532.5 547.5,540.0 557.5,545.0 561.2,555.0 566.2,557.5 563.8,570.0 563.8,580.0 570.0,585.0 575.0,582.5 580.0,575.0 585.0,571.2 595.0,572.5 597.5,582.5 610.0,587.5 615.0,592.5 617.5,605.0 612.5,608.8 605.0,612.5 600.0,606.2 602.5,600.0 597.5,595.0 590.0,600.0 586.2,607.5 582.5,615.0 577.5,620.0 575.0,627.5 573.8,635.0 577.5,640.0 571.2,645.0 563.8,646.2 557.5,648.8 552.5,642.5 547.5,635.0 542.5,625.0 535.0,613.8 527.5,612.5 525.0,606.2 523.8,600.0 517.5,593.8 512.5,602.5 510.0,598.8 506.2,585.0 505.0,565.0 502.5,550.0 497.5,543.8 500.0,540.0 496.2,530.0 490.0,520.0 483.8,517.5 475.0,517.5 476.2,507.5 480.0,500.0" fill="#feac3a" stroke="#feac3a" stroke-width="1.2"/>
<polygon points="535.0,516.2 542.5,513.8 543.8,505.0 550.0,501.2 555.0,502.5 553.8,496.2 558.8,502.5 563.8,495.0 562.5,487.5 568.8,486.2 575.0,481.2 580.0,487.5 586.2,492.5 592.5,493.8 600.0,500.0 601.2,508.8 597.5,512.5 592.5,517.5 595.0,525.0 590.0,530.0 592.5,540.0 597.5,547.5 605.0,556.2 602.5,565.0 595.0,572.5 585.0,571.2 580.0,575.0 575.0,582.5 570.0,585.0 563.8,580.0 563.8,570.0 566.2,557.5 561.2,555.0 557.5,545.0 547.5,540.0 540.0,532.5 535.0,525.0 532.5,515.0" fill="#fff8c1" stroke="#fff8c1" stroke-width="1.2"/>
<polygon points="540.0,420.0 557.5,420.0 565.0,427.5 577.5,440.0 575.0,446.2 571.2,452.5 566.2,455.0 560.0,452.5 557.5,443.8 552.5,443.8 547.5,438.8 542.5,437.5 540.0,430.0" fill="#ffffe5" stroke="#ffffe5" stroke-width="1.2"/>
<polygon points="490.0,660.0 500.0,656.2 510.0,660.0 512.5,666.2 522.5,668.8 520.0,675.0 515.0,682.5 505.0,685.0 500.0,691.2 492.5,688.8 483.8,691.2 478.8,692.5 483.8,687.5 478.8,680.0 481.2,677.5 482.5,670.0 488.8,666.2" fill="#feac3a" stroke="#feac3a" stroke-width="1.2"/>
<polygon points="522.5,668.8 527.5,672.5 531.2,682.5 530.0,692.5 525.0,697.5 522.5,707.5 513.8,710.0 507.5,708.8 502.5,702.5 498.8,691.2 500.0,691.2 505.0,685.0 515.0,682.5 520.0,675.0" fill="#f68720" stroke="#f68720" stroke-width="1.2"/>
<polygon points="511.2,620.0 515.0,617.5 520.0,622.5 527.5,615.0 535.0,613.8 542.5,625.0 547.5,635.0 552.5,642.5 545.0,643.8 538.8,646.2 532.5,648.8 530.0,640.0 525.0,637.5 520.0,630.0 515.0,630.0" fill="#fee79b" stroke="#fee79b" stroke-width="1.2"/>
<polygon points="538.8,646.2 545.0,643.8 552.5,642.5 557.5,648.8 563.8,646.2 566.2,655.0 565.0,665.0 560.0,670.0 557.5,680.0 552.5,686.2 547.5,683.8 540.0,677.5 536.2,670.0 538.8,660.0" fill="#f68720" stroke="#f68720" stroke-width="1.2"/>
<polygon points="563.8,646.2 571.2,645.0 577.5,640.0 581.2,645.0 583.8,655.0 587.5,660.0 582.5,670.0 578.8,680.0 572.5,680.0 565.0,682.5 557.5,680.0 560.0,670.0 565.0,665.0 566.2,655.0" fill="#fece65" stroke="#fece65" stroke-width="1.2"/>
<polygon points="577.5,640.0 573.8,635.0 580.0,635.0 586.2,632.5 590.0,637.5 600.0,640.0 605.0,645.0 602.5,655.0 607.5,666.2 605.0,675.0 602.5,682.5 592.5,680.0 586.2,675.0 582.5,670.0 587.5,660.0 583.8,655.0 581.2,645.0" fill="#feac3a" stroke="#feac3a" stroke-width="1.2"/>
<polygon points="547.5,683.8 552.5,686.2 557.5,680.0 565.0,682.5 572.5,680.0 578.8,680.0 582.5,670.0 586.2,675.0 592.5,680.0 587.5,690.0 587.5,700.0 590.0,710.0 592.5,720.0 557.5,720.0 555.0,707.5 552.5,695.0" fill="#fee79b" stroke="#fee79b" stroke-width="1.2"/>
<polygon points="862.5,560.0 912.5,560.0 915.0,567.5 917.5,572.5 915.0,577.5 917.5,586.2 912.5,592.5 911.2,600.0 905.0,608.8 900.0,612.5 895.0,620.0 890.0,626.2 885.0,627.5 877.5,622.5 875.0,617.5 867.5,621.2 862.5,620.0 858.8,607.5 853.8,605.0 851.2,595.0 847.5,585.0 857.5,577.5 862.5,567.5" fill="#fff8c1" stroke="#fff8c1" stroke-width="1.2"/>
<polygon points="830.0,617.5 838.8,611.2 853.8,605.0 858.8,607.5 862.5,620.0 867.5,621.2 865.0,627.5 857.5,635.0 855.0,642.5 845.0,637.5 835.0,630.0 828.8,627.5" fill="#fff8c1" stroke="#fff8c1" stroke-width="1.2"/>
<polygon points="862.5,620.0 867.5,621.2 875.0,617.5 877.5,622.5 885.0,627.5 890.0,626.2 885.0,632.5 878.8,635.0 876.2,640.0 867.5,637.5 860.0,640.0 855.0,642.5 857.5,635.0 865.0,627.5" fill="#ffffe5" stroke="#ffffe5" stroke-width="1.2"/>
<polygon points="820.0,635.0 828.8,627.5 835.0,630.0 845.0,637.5 855.0,642.5 856.2,651.2 847.5,652.5 842.5,660.0 835.0,657.5 827.5,652.5 822.5,647.5 817.5,647.5" fill="#feac3a" stroke="#feac3a" stroke-width="1.2"/>
<polygon points="855.0,642.5 860.0,640.0 867.5,637.5 876.2,640.0 876.2,646.2 878.8,658.8 875.0,662.5 867.5,665.0 860.0,657.5 855.0,658.8 856.2,651.2" fill="#fee79b" stroke="#fee79b" stroke-width="1.2"/>
<polygon points="812.5,652.5 817.5,647.5 822.5,647.5 827.5,652.5 835.0,657.5 842.5,660.0 838.8,667.5 832.5,672.5 827.5,677.5 822.5,678.8 817.5,675.0 806.2,672.5 808.8,662.5" fill="#fff8c1" stroke="#fff8c1" stroke-width="1.2"/>
<polygon points="842.5,660.0 847.5,652.5 856.2,651.2 855.0,658.8 860.0,657.5 867.5,665.0 862.5,671.2 856.2,680.0 847.5,682.5 845.0,677.5 838.8,667.5" fill="#fff8c1" stroke="#fff8c1" stroke-width="1.2"/>
<polygon points="822.5,678.8 827.5,677.5 832.5,672.5 838.8,667.5 845.0,677.5 847.5,682.5 842.5,690.0 836.2,697.5 828.8,700.0 826.2,690.0" fill="#ffffe5" stroke="#ffffe5" stroke-width="1.2"/>
<polygon points="801.2,590.0 810.0,586.2 815.0,592.5 822.5,601.2 830.0,598.8 833.8,605.0 836.2,611.2 830.0,617.5 828.8,627.5 820.0,635.0 815.0,637.5 812.5,630.0 805.0,625.0 803.8,617.5 810.0,610.0 806.2,601.2" fill="#f68720" stroke="#f68720" stroke-width="1.2"/>
<polygon points="773.8,586.2 780.0,582.5 790.0,580.0 800.0,575.0 812.5,573.8 822.5,568.8 825.0,572.5 820.0,577.5 810.0,586.2 801.2,590.0 792.5,588.8 782.5,593.8 777.5,593.8" fill="#ffffe5" stroke="#ffffe5" stroke-width="1.2"/>
<polygon points="822.5,568.8 832.5,571.2 840.0,575.0 847.5,585.0 851.2,595.0 853.8,605.0 838.8,611.2 836.2,611.2 833.8,605.0 832.5,601.2 828.8,597.5 822.5,601.2 815.0,592.5 810.0,586.2 820.0,577.5 825.0,572.5" fill="#fee79b" stroke="#fee79b" stroke-width="1.2"/>
<polygon points="777.5,593.8 782.5,593.8 792.5,588.8 801.2,590.0 806.2,601.2 810.0,610.0 803.8,617.5 795.0,612.5 785.0,615.0 777.5,622.5 771.2,625.0 767.5,617.5 770.0,610.0 777.5,602.5" fill="#fece65" stroke="#fece65" stroke-width="1.2"/>
<polygon points="771.2,625.0 777.5,622.5 785.0,615.0 795.0,612.5 803.8,617.5 805.0,625.0 812.5,630.0 815.0,637.5 805.0,640.0 797.5,642.5 790.0,647.5 780.0,647.5 773.8,642.5 775.0,632.5" fill="#fff8c1" stroke="#fff8c1" stroke-width="1.2"/>
<polygon points="773.8,655.0 780.0,647.5 790.0,647.5 797.5,642.5 805.0,640.0 815.0,637.5 820.0,635.0 817.5,647.5 812.5,652.5 808.8,662.5 806.2,672.5 805.0,677.5 797.5,675.0 790.0,677.5 782.5,678.8 778.8,675.0 785.0,667.5 783.8,662.5 777.5,662.5" fill="#fee79b" stroke="#fee79b" stroke-width="1.2"/>
<polygon points="766.2,571.2 772.5,567.5 782.5,565.0 790.0,560.0 795.0,567.5 798.8,572.5 790.0,577.5 780.0,582.5 773.8,586.2 770.0,585.0" fill="#f68720" stroke="#f68720" stroke-width="1.2"/>
<polygon points="755.0,670.0 765.0,665.0 772.5,662.5 777.5,662.5 783.8,662.5 785.0,667.5 778.8,675.0 782.5,678.8 790.0,677.5 797.5,675.0 805.0,677.5 806.2,672.5 817.5,675.0 822.5,678.8 826.2,690.0 828.8,700.0 822.5,705.0 817.5,712.5 808.8,715.0 801.2,716.2 793.8,718.8 786.2,717.5 777.5,712.5 770.0,710.0 765.0,710.0 772.5,700.0 773.8,690.0 767.5,682.5 760.0,680.0" fill="#ffffe5" stroke="#ffffe5" stroke-width="1.2"/>
<polygon points="740.0,667.5 755.0,670.0 760.0,680.0 767.5,682.5 773.8,690.0 772.5,700.0 765.0,710.0 770.0,720.0 767.5,727.5 757.5,732.5 750.0,738.8 740.0,736.2" fill="#fece65" stroke="#fece65" stroke-width="1.2"/>
<polygon points="305.0,261.2 342.5,261.2 342.5,287.5 325.0,287.5 305.0,286.2 302.5,272.5" fill="#ffffe5" stroke="#ffffe5" stroke-width="1.2"/>
<polygon points="296.2,298.8 325.0,295.0 342.5,292.5 342.5,336.2 313.8,333.8 305.0,320.0 310.0,312.5 302.5,307.5" fill="#fece65" stroke="#fece65" stroke-width="1.2"/>
<polygon points="477.5,375.0 485.0,370.0 495.0,370.0 502.5,367.5 515.0,366.2 520.0,370.0 530.0,375.0 537.5,377.5 538.8,383.8 547.5,390.0 550.0,396.2 545.0,402.5 552.5,403.8 560.0,406.2 560.0,411.2 552.5,410.0 542.5,405.0 535.0,400.0 525.0,401.2 522.5,396.2 515.0,392.5 510.0,386.2 500.0,382.5 490.0,387.5 483.8,383.8 475.0,380.0" fill="#f68720" stroke="#f68720" stroke-width="1.2"/>
<polygon points="712.5,337.5 725.0,335.0 737.5,340.0 741.2,350.0 740.0,360.0 737.5,370.0 728.8,372.5 726.2,360.0 717.5,352.5 713.8,345.0" fill="#fece65" stroke="#fece65" stroke-width="1.2"/>
<polygon points="782.5,320.0 790.0,322.5 790.0,330.0 795.0,332.5 807.5,327.5 815.0,340.0 812.5,345.0 806.2,352.5 807.5,360.0 800.0,367.5 790.0,372.5 782.5,370.0 780.0,363.8 773.8,367.5 776.2,357.5 782.5,357.5 776.2,350.0 771.2,342.5 773.8,335.0 778.8,325.0" fill="#f68720" stroke="#f68720" stroke-width="1.2"/>
<polygon points="750.0,360.0 762.5,356.2 775.0,357.5 776.2,357.5 773.8,367.5 780.0,363.8 782.5,370.0 781.2,382.5 776.2,382.5 772.5,375.0 765.0,372.5 762.5,366.2 755.0,365.0 748.8,367.5" fill="#e1640e" stroke="#e1640e" stroke-width="1.2"/>
<polygon points="723.8,375.0 728.8,372.5 737.5,370.0 743.8,358.8 747.5,367.5 755.0,365.0 762.5,366.2 765.0,372.5 772.5,375.0 776.2,382.5 772.5,386.2 767.5,392.5 757.5,396.2 747.5,400.0 736.2,401.2 730.0,392.5 721.2,390.0" fill="#fff8c1" stroke="#fff8c1" stroke-width="1.2"/>
<polygon points="776.2,382.5 781.2,382.5 782.5,370.0 790.0,372.5 800.0,367.5 806.2,372.5 815.0,373.8 812.5,373.8 815.0,385.0 820.0,393.8 823.8,387.5 830.0,392.5 840.0,390.0 842.5,400.0 837.5,407.5 820.0,412.5 812.5,415.0 805.0,425.0 797.5,435.0 800.0,440.0 790.0,442.5 770.0,440.0 766.2,431.2 772.5,420.0 776.2,411.2 771.2,400.0 766.2,395.0 767.5,392.5 772.5,386.2" fill="#fece65" stroke="#fece65" stroke-width="1.2"/>
<polygon points="1075.0,225.0 1085.0,221.2 1097.5,222.5 1110.0,220.0 1120.0,212.5 1130.0,212.5 1133.8,220.0 1127.5,225.0 1117.5,232.5 1110.0,240.0 1100.0,242.5 1095.0,238.8 1090.0,232.5 1080.0,232.5" fill="#fece65" stroke="#fece65" stroke-width="1.2"/>
<polygon points="1070.0,250.0 1077.5,247.5 1085.0,240.0 1095.0,238.8 1100.0,242.5 1110.0,240.0 1120.0,232.5 1132.5,230.0 1135.0,230.0 1127.5,242.5 1117.5,252.5 1115.0,261.2 1103.8,258.8 1092.5,260.0 1080.0,265.0 1072.5,260.0 1067.5,257.5" fill="#ffffe5" stroke="#ffffe5" stroke-width="1.2"/>
<polygon points="970.0,297.5 977.5,298.8 983.8,303.8 985.0,310.0 977.5,315.0 971.2,310.0 970.0,301.2" fill="#e1640e" stroke="#e1640e" stroke-width="1.2"/>
<polygon points="912.5,246.2 922.5,245.0 927.5,246.2 935.0,240.0 950.0,236.2 953.8,246.2 942.5,260.0 938.8,272.5 923.8,277.5 920.0,267.5 920.0,252.5" fill="#feac3a" stroke="#feac3a" stroke-width="1.2"/>
<polygon points="575.0,582.5 580.0,575.0 585.0,571.2 595.0,572.5 597.5,582.5 595.0,590.0 590.0,595.0 582.5,600.0 576.2,593.8" fill="#f68720" stroke="#f68720" stroke-width="1.2"/>
<polygon points="545.0,625.0 552.5,622.5 561.2,627.5 560.0,637.5 555.0,645.0 552.5,642.5 547.5,635.0" fill="#d9d9d9" stroke="#d9d9d9" stroke-width="1.2"/>
<polygon points="552.5,443.8 557.5,443.8 560.0,452.5 566.2,455.0 563.8,461.2 560.0,465.0 563.8,478.8 552.5,482.5 542.5,480.0 540.0,473.8 542.5,466.2 537.5,463.8 536.2,458.8 547.5,457.5 552.5,452.5" fill="#933204" stroke="#933204" stroke-width="1.2"/>
<polygon points="586.2,447.5 592.5,451.2 602.5,452.5 606.2,445.0 610.0,450.0 612.5,457.5 622.5,460.0 620.0,465.0 610.0,468.8 608.8,480.0 600.0,481.2 592.5,482.5 590.0,476.2 595.0,470.0 590.0,465.0 592.5,457.5" fill="#e1640e" stroke="#e1640e" stroke-width="1.2"/>
<polygon points="478.8,692.5 483.8,683.8 480.0,677.5 483.8,671.2 481.2,667.5 490.0,661.2 498.8,655.0 502.5,658.8 510.0,663.8 512.5,670.0 522.5,672.5 520.0,678.8 515.0,686.2 505.0,688.8 500.0,695.0 492.5,692.5 483.8,695.0" fill="#feac3a" stroke="#feac3a" stroke-width="1.2"/>
<polygon points="522.5,672.5 527.5,676.2 531.2,686.2 530.0,696.2 525.0,701.2 522.5,706.2 513.8,710.0 507.5,708.8 502.5,706.2 498.8,695.0 500.0,695.0 505.0,688.8 515.0,686.2 520.0,678.8" fill="#f68720" stroke="#f68720" stroke-width="1.2"/>
<polygon points="870.0,590.0 880.0,580.0 890.0,577.5 902.5,583.8 907.5,592.5 905.0,602.5 900.0,610.0 890.0,620.0 885.0,625.0 877.5,622.5 875.0,617.5 867.5,621.2 862.5,620.0 860.0,610.0 858.8,600.0 865.0,595.0" fill="#ffffe5" stroke="#ffffe5" stroke-width="1.2"/>
<polygon points="850.0,583.8 857.5,578.8 867.5,583.8 870.0,590.0 865.0,595.0 858.8,600.0 853.8,597.5" fill="#fece65" stroke="#fece65" stroke-width="1.2"/>
<polygon points="822.5,601.2 828.8,597.5 832.5,601.2 833.8,608.8 836.2,611.2 830.0,616.2 826.2,608.8" fill="#e1640e" stroke="#e1640e" stroke-width="1.2"/>
<polygon points="802.5,685.0 812.5,680.0 822.5,678.8 826.2,690.0 828.8,700.0 822.5,705.0 817.5,712.5 808.8,715.0 805.0,707.5 802.5,697.5" fill="#fff8c1" stroke="#fff8c1" stroke-width="1.2"/>
<polygon points="296.2,271.2 300.0,271.2 301.8,276.2 300.0,278.8 298.0,281.2 296.2,276.2" fill="#662506" stroke="#662506" stroke-width="1.2"/>
<polygon points="298.8,213.0 305.0,213.8 312.5,216.2 311.2,218.8 302.5,217.0" fill="#d9d9d9" stroke="#d9d9d9" stroke-width="1.2"/>
<polygon points="175.0,350.5 196.2,346.2 197.5,354.5 176.2,356.2" fill="#d9d9d9" stroke="#d9d9d9" stroke-width="1.2"/>
<polygon points="260.0,325.8 272.5,326.2 272.5,328.8 261.2,329.5" fill="#d9d9d9" stroke="#d9d9d9" stroke-width="1.2"/>
<polygon points="200.0,261.2 210.0,262.5 212.5,267.5 202.5,266.2" fill="#d9d9d9" stroke="#d9d9d9" stroke-width="1.2"/>
<polygon points="496.2,370.0 502.5,368.0 510.0,375.0 507.5,378.8 500.0,376.2" fill="#e1640e" stroke="#e1640e" stroke-width="1.2"/>
<polygon points="486.2,365.0 495.0,365.0 495.0,370.0 486.2,370.0" fill="#d9d9d9" stroke="#d9d9d9" stroke-width="1.2"/>
<polygon points="806.2,352.5 812.5,345.0 821.2,343.8 827.5,346.2 830.0,351.2 837.5,352.5 832.5,360.0 833.8,367.5 825.0,372.5 815.0,373.8 806.2,372.5 800.0,367.5 807.5,360.0" fill="#fee79b" stroke="#fee79b" stroke-width="1.2"/>
<polygon points="826.2,372.5 837.5,370.0 842.5,372.5 845.0,380.0 840.0,390.0 830.0,392.5 823.8,387.5 825.0,377.5" fill="#fece65" stroke="#fece65" stroke-width="1.2"/>
<polygon points="812.5,373.8 825.0,372.5 823.8,387.5 820.0,393.8 815.0,385.0" fill="#fff8c1" stroke="#fff8c1" stroke-width="1.2"/>
<polygon points="1063.8,241.2 1075.0,240.0 1086.2,238.8 1093.8,240.0 1085.0,246.2 1077.5,248.8 1065.0,247.5" fill="#d9d9d9" stroke="#d9d9d9" stroke-width="1.2"/>
<polygon points="608.3,676.7 613.3,675.0 616.7,671.7 623.3,673.3 630.0,677.5 633.3,675.0 638.3,670.8 643.3,668.3 648.3,666.7 649.2,661.7 653.3,659.2 656.7,662.5 661.7,666.7 666.7,666.7 671.7,661.7 678.3,660.8 683.3,655.8 690.0,653.3 696.7,650.0 700.0,646.7 706.7,648.3 713.3,644.2 720.0,642.5 725.0,645.0 725.0,651.7 728.3,653.3 725.0,660.0 720.0,666.7 720.8,671.7 725.0,668.3 730.0,670.0 736.7,675.0 739.2,680.0 736.7,688.3 731.7,695.0 728.3,701.7 725.0,710.0 720.0,716.7 715.0,721.7 713.3,726.7 706.7,733.3 701.7,739.2 698.3,743.3 695.0,742.5 686.7,743.3 678.3,741.7 670.0,740.8 661.7,740.0 655.0,739.2 650.0,735.0 645.0,731.7 641.7,726.7 642.5,721.7 645.0,716.7 640.0,713.3 633.3,711.7 625.0,710.0 621.7,706.7 618.3,705.0 623.3,701.7 630.8,698.3 633.3,695.0 631.7,690.0 625.0,688.3 620.0,686.7 616.7,680.0" fill="#ffffe5" stroke="#ffffe5" stroke-width="1.2"/>
<polygon points="739.2,576.7 750.0,576.7 755.0,573.3 765.0,575.0 767.5,581.7 770.0,588.3 775.8,595.0 777.5,601.7 773.3,608.3 768.3,615.0 768.3,623.3 771.7,628.3 773.3,638.3 775.0,646.7 773.3,656.7 773.3,663.3 761.7,660.0 755.0,665.0 753.3,670.0 746.7,668.3 739.2,666.7" fill="#fee79b" stroke="#fee79b" stroke-width="1.2"/>
<polygon points="540.0,385.0 545.0,385.8 549.2,391.7 546.7,398.3 548.3,402.5 558.3,404.2 560.8,409.2 556.7,411.7 548.3,407.5 540.0,405.0" fill="#f68720" stroke="#f68720" stroke-width="1.2"/>
<polygon points="555.8,382.5 563.3,380.8 580.0,380.0 596.7,380.0 597.5,385.0 588.3,393.3 584.2,396.7 583.3,403.3 584.2,408.3 590.0,412.5 588.3,419.2 585.0,425.0 573.3,428.3 569.2,423.3 566.7,418.3 561.7,413.3 560.8,409.2 558.3,404.2 567.5,398.3 561.7,393.3 556.7,388.3" fill="#fece65" stroke="#fece65" stroke-width="1.2"/>
<polygon points="590.0,412.5 595.0,413.3 603.3,415.8 605.8,419.2 610.0,423.3 616.7,428.3 618.3,433.3 618.3,438.3 621.7,443.3 615.0,446.7 606.7,445.8 603.3,440.0 596.7,436.7 593.3,430.0 590.0,423.3 588.3,419.2" fill="#fff8c1" stroke="#fff8c1" stroke-width="1.2"/>
<polygon points="573.3,428.3 585.0,425.0 588.3,419.2 590.0,423.3 593.3,430.0 596.7,436.7 603.3,440.0 606.7,445.8 602.5,445.8 596.7,451.7 585.8,447.5 581.7,442.5 577.5,441.7 573.3,435.0" fill="#fee79b" stroke="#fee79b" stroke-width="1.2"/>
<polygon points="540.0,417.5 546.7,418.3 556.7,421.7 566.7,428.3 573.3,435.0 577.5,441.7 573.3,446.7 571.7,454.2 565.8,455.8 560.8,453.3 558.3,445.0 552.5,443.3 545.0,436.7 540.0,435.0" fill="#ffffe5" stroke="#ffffe5" stroke-width="1.2"/>
<polygon points="577.5,441.7 581.7,442.5 585.8,447.5 590.0,455.0 588.3,460.0 581.7,458.3 575.0,453.3 573.3,446.7" fill="#ffffe5" stroke="#ffffe5" stroke-width="1.2"/>
<polygon points="605.8,419.2 613.3,412.5 626.7,406.7 630.0,415.0 626.7,420.0 625.0,426.7 628.3,430.0 633.3,433.3 638.3,431.7 638.3,436.7 630.0,440.0 623.3,441.7 621.7,443.3 618.3,438.3 618.3,433.3 616.7,428.3 610.0,423.3" fill="#fff8c1" stroke="#fff8c1" stroke-width="1.2"/>
<polygon points="621.7,443.3 623.3,441.7 630.0,440.0 638.3,436.7 640.0,440.0 646.7,442.5 646.7,448.3 640.0,451.7 638.3,456.7 635.0,461.7 630.0,456.7 625.0,453.3 619.2,448.3" fill="#fece65" stroke="#fece65" stroke-width="1.2"/>
<polygon points="648.3,383.3 656.7,380.0 703.3,380.0 700.0,385.0 690.0,393.3 685.0,398.3 683.3,405.0 680.0,407.5 678.3,411.7 668.3,412.5 663.3,408.3 659.2,410.0 656.7,407.5 646.7,403.3 641.7,398.3 640.0,391.7 643.3,390.0" fill="#feac3a" stroke="#feac3a" stroke-width="1.2"/>
<polygon points="659.2,410.0 663.3,408.3 668.3,412.5 678.3,411.7 680.0,407.5 683.3,405.0 685.0,398.3 690.0,393.3 700.0,385.0 703.3,380.0 725.0,380.0 720.0,388.3 718.3,396.7 711.7,401.7 715.0,408.3 716.7,415.0 713.3,421.7 710.0,428.3 711.7,436.7 711.7,446.7 706.7,453.3 700.0,446.7 703.3,435.0 700.0,423.3 693.3,418.3 686.7,416.7 680.0,421.7 673.3,418.3 663.3,420.0 660.0,425.0 654.2,422.5 653.3,418.3 655.0,413.3" fill="#fece65" stroke="#fece65" stroke-width="1.2"/>
<polygon points="660.0,425.0 663.3,420.0 673.3,418.3 680.0,421.7 686.7,416.7 693.3,418.3 700.0,423.3 703.3,435.0 700.0,446.7 706.7,453.3 700.0,456.7 690.0,455.0 685.0,458.3 678.3,460.0 678.3,453.3 679.2,446.7 678.3,438.3 673.3,433.3 666.7,431.7" fill="#fff8c1" stroke="#fff8c1" stroke-width="1.2"/>
<polygon points="640.0,428.3 643.3,424.2 654.2,422.5 660.0,425.0 666.7,431.7 673.3,433.3 678.3,438.3 679.2,446.7 678.3,453.3 678.3,460.0 670.0,460.0 661.7,461.7 660.0,466.7 653.3,468.3 646.7,466.7 640.0,465.0 638.3,456.7 640.0,451.7 646.7,448.3 646.7,442.5 640.0,440.0 638.3,436.7 638.3,431.7" fill="#fee79b" stroke="#fee79b" stroke-width="1.2"/>
<polygon points="640.0,465.0 646.7,466.7 653.3,468.3 660.0,466.7 665.0,471.7 665.0,483.3 660.0,490.0 655.0,493.3 648.3,491.7 640.0,495.0 638.3,486.7 641.7,480.0 637.5,475.0 640.0,470.0" fill="#fff8c1" stroke="#fff8c1" stroke-width="1.2"/>
<polygon points="606.7,481.7 610.0,478.3 605.8,475.0 606.7,470.0 611.7,466.7 622.5,462.5 621.7,460.0 623.3,451.7 625.0,453.3 630.0,456.7 635.0,461.7 638.3,456.7 640.0,465.0 640.0,470.0 637.5,475.0 641.7,480.0 638.3,486.7 640.0,495.0 630.0,496.7 626.7,500.0 630.0,506.7 623.3,511.7 618.3,513.3 608.3,515.0 600.0,510.0 603.3,503.3 606.7,500.0 605.8,496.7 601.7,490.0 596.7,482.5" fill="#fee79b" stroke="#fee79b" stroke-width="1.2"/>
<polygon points="626.7,500.0 630.0,496.7 640.0,495.0 648.3,491.7 655.0,493.3 666.7,493.3 668.3,506.7 670.0,516.7 666.7,521.7 660.0,516.7 655.0,518.3 646.7,513.3 636.7,511.7 630.0,506.7" fill="#feac3a" stroke="#feac3a" stroke-width="1.2"/>
<polygon points="660.0,466.7 661.7,461.7 670.0,460.0 678.3,460.0 676.7,465.0 680.0,468.3 685.0,466.7 686.7,470.0 690.8,473.3 693.3,480.0 690.0,483.3 681.7,488.3 673.3,493.3 666.7,493.3 660.0,490.0 665.0,483.3 665.0,471.7" fill="#fee79b" stroke="#fee79b" stroke-width="1.2"/>
<polygon points="676.7,500.0 681.7,488.3 690.0,483.3 693.3,480.0 700.0,480.0 708.3,478.3 715.0,488.3 720.0,496.7 720.0,503.3 710.0,503.3 700.0,505.0 693.3,503.3 686.7,504.2" fill="#fee79b" stroke="#fee79b" stroke-width="1.2"/>
<polygon points="666.7,493.3 673.3,493.3 681.7,488.3 676.7,500.0 686.7,504.2 693.3,503.3 700.0,505.0 703.3,513.3 701.7,518.3 696.7,530.0 693.3,533.3 686.7,528.3 678.3,525.0 673.3,523.3 670.0,516.7 668.3,506.7" fill="#fff8c1" stroke="#fff8c1" stroke-width="1.2"/>
<polygon points="693.3,503.3 700.0,505.0 710.0,503.3 720.0,503.3 725.0,510.0 728.3,518.3 723.3,525.0 718.3,530.0 715.0,531.7 706.7,530.0 698.3,533.3 696.7,530.0 701.7,518.3 703.3,513.3" fill="#feac3a" stroke="#feac3a" stroke-width="1.2"/>
<polygon points="540.0,513.3 543.3,505.0 550.0,503.3 556.7,500.0 562.5,488.3 568.3,486.7 575.8,481.7 580.0,488.3 586.7,491.7 595.0,494.2 598.3,496.7 603.3,503.3 600.0,510.0 608.3,515.0 618.3,513.3 623.3,511.7 630.0,506.7 636.7,511.7 646.7,513.3 655.0,518.3 660.0,516.7 666.7,521.7 673.3,523.3 675.0,530.0 671.7,538.3 666.7,546.7 660.0,555.0 655.0,560.0 646.7,568.3 640.0,561.7 633.3,558.3 626.7,561.7 623.3,568.3 620.0,580.0 565.0,580.0 565.0,563.3 560.0,550.0 550.0,540.0 540.0,535.0" fill="#fff8c1" stroke="#fff8c1" stroke-width="1.2"/>
<polygon points="673.3,523.3 678.3,525.0 686.7,528.3 693.3,533.3 698.3,533.3 706.7,530.0 706.7,540.0 705.0,548.3 700.0,553.3 690.0,555.0 681.7,556.7 675.0,560.0 673.3,566.7 675.0,575.0 670.0,580.0 646.7,580.0 646.7,568.3 655.0,560.0 660.0,555.0 666.7,546.7 671.7,538.3 675.0,530.0" fill="#fff8c1" stroke="#fff8c1" stroke-width="1.2"/>
<polygon points="675.0,560.0 681.7,556.7 690.0,555.0 700.0,553.3 705.0,548.3 708.3,555.0 710.0,563.3 706.7,571.7 700.0,575.0 696.7,580.0 678.3,580.0 675.0,575.0 673.3,566.7" fill="#ffffe5" stroke="#ffffe5" stroke-width="1.2"/>
<polygon points="706.7,530.0 715.0,531.7 718.3,535.0 723.3,525.0 728.3,518.3 740.0,518.3 740.0,580.0 696.7,580.0 700.0,575.0 706.7,571.7 710.0,563.3 708.3,555.0 705.0,548.3 706.7,540.0" fill="#fee79b" stroke="#fee79b" stroke-width="1.2"/>
<polygon points="713.3,401.7 718.3,396.7 723.3,390.0 733.3,395.0 735.0,403.3 740.0,406.7 740.0,435.0 731.7,428.3 723.3,428.3 710.0,428.3 713.3,421.7 716.7,415.0 715.0,408.3" fill="#f68720" stroke="#f68720" stroke-width="1.2"/>
<polygon points="710.0,428.3 723.3,428.3 731.7,428.3 740.0,435.0 740.0,450.0 733.3,451.7 723.3,450.0 711.7,446.7 711.7,436.7" fill="#feac3a" stroke="#feac3a" stroke-width="1.2"/>
<polygon points="706.7,453.3 711.7,446.7 723.3,450.0 733.3,451.7 740.0,450.0 740.0,463.3 731.7,468.3 720.0,473.3 708.3,475.0 706.7,470.0 708.3,463.3 710.8,456.7" fill="#fece65" stroke="#fece65" stroke-width="1.2"/>
<polygon points="708.3,478.3 708.3,475.0 720.0,473.3 731.7,468.3 740.0,463.3 740.0,476.7 725.0,480.0 723.3,486.7 725.0,493.3 720.0,496.7 715.0,488.3" fill="#feac3a" stroke="#feac3a" stroke-width="1.2"/>
<polygon points="725.0,480.0 740.0,476.7 740.0,518.3 728.3,518.3 725.0,510.0 720.0,503.3 720.0,496.7 725.0,493.3 723.3,486.7" fill="#fece65" stroke="#fece65" stroke-width="1.2"/>
<polygon points="725.0,380.0 740.0,380.0 740.0,406.7 735.0,403.3 733.3,395.0 723.3,390.0 720.0,388.3" fill="#fee79b" stroke="#fee79b" stroke-width="1.2"/>
<polygon points="739.2,380.0 773.3,380.0 770.0,386.7 767.5,393.3 765.0,395.0 756.7,396.7 739.2,400.0" fill="#fff8c1" stroke="#fff8c1" stroke-width="1.2"/>
<polygon points="739.2,400.0 756.7,396.7 765.0,395.0 766.7,398.3 771.7,405.0 775.8,411.7 771.7,421.7 767.5,430.0 765.0,431.7 766.7,436.7 763.3,428.3 755.0,426.7 746.7,422.5 739.2,425.0" fill="#f68720" stroke="#f68720" stroke-width="1.2"/>
<polygon points="739.2,425.0 746.7,422.5 755.0,426.7 763.3,428.3 766.7,436.7 769.2,441.7 767.5,450.0 763.3,455.0 756.7,459.2 748.3,461.7 739.2,461.7" fill="#e1640e" stroke="#e1640e" stroke-width="1.2"/>
<polygon points="767.5,441.7 769.2,439.2 776.7,440.8 790.0,443.3 790.0,450.0 791.7,458.3 788.3,466.7 776.7,468.3 773.3,473.3 765.0,463.3 763.3,455.0 767.5,450.0" fill="#feac3a" stroke="#feac3a" stroke-width="1.2"/>
<polygon points="770.0,386.7 773.3,380.0 780.8,380.0 790.0,383.3 805.0,386.7 810.0,395.0 806.7,398.3 811.7,405.0 818.3,406.7 815.0,415.0 810.0,420.0 805.0,425.0 800.0,431.7 798.3,437.5 800.8,442.5 796.7,443.3 790.0,443.3 776.7,440.8 769.2,439.2 765.0,431.7 767.5,430.0 771.7,421.7 775.8,411.7 771.7,405.0 766.7,398.3 767.5,393.3" fill="#feac3a" stroke="#feac3a" stroke-width="1.2"/>
<polygon points="798.3,437.5 800.0,431.7 805.0,425.0 810.0,420.0 815.0,415.0 818.3,406.7 823.3,409.2 833.3,408.3 835.0,413.3 833.3,418.3 836.7,423.3 840.0,430.0 841.7,436.7 836.7,438.3 832.5,436.7 828.3,440.0 820.0,440.8 815.0,443.3 811.7,445.0 800.0,446.7 800.8,442.5" fill="#fece65" stroke="#fece65" stroke-width="1.2"/>
<polygon points="833.3,408.3 838.3,405.0 844.2,399.2 850.0,403.3 849.2,410.0 851.7,420.0 850.0,426.7 853.3,430.0 851.7,433.3 848.3,436.7 850.0,445.0 846.7,445.8 843.3,436.7 841.7,436.7 840.0,430.0 836.7,423.3 833.3,418.3 835.0,413.3" fill="#f68720" stroke="#f68720" stroke-width="1.2"/>
<polygon points="850.0,403.3 856.7,402.5 864.2,403.3 868.3,409.2 866.7,411.7 863.3,415.8 860.0,419.2 855.0,420.0 851.7,420.0 849.2,410.0" fill="#fff8c1" stroke="#fff8c1" stroke-width="1.2"/>
<polygon points="851.7,420.0 855.0,420.0 860.0,419.2 863.3,415.8 866.7,419.2 871.7,421.7 875.8,422.5 873.3,428.3 876.7,433.3 880.0,436.7 876.7,443.3 873.3,446.7 865.0,445.0 860.0,448.3 858.3,453.3 855.0,450.0 853.3,445.0 850.0,445.0 848.3,436.7 851.7,433.3 853.3,430.0 850.0,426.7" fill="#fee79b" stroke="#fee79b" stroke-width="1.2"/>
<polygon points="875.8,422.5 879.2,420.0 883.3,413.3 890.0,410.8 895.8,409.2 900.0,410.8 906.7,413.3 913.3,415.0 920.0,415.8 930.0,418.3 926.7,425.8 921.7,426.7 915.0,427.5 906.7,430.0 898.3,434.2 893.3,440.0 886.7,443.3 883.3,446.7 878.3,453.3 876.7,443.3 880.0,436.7 881.7,437.5 888.3,435.0 892.5,430.0 891.7,425.0 886.7,422.5 878.3,423.3" fill="#fee79b" stroke="#fee79b" stroke-width="1.2"/>
<polygon points="835.0,451.7 840.0,450.0 843.3,446.7 846.7,445.8 850.0,445.0 853.3,445.0 855.0,450.0 858.3,453.3 857.5,458.3 861.7,459.2 868.3,460.0 871.7,461.7 868.3,466.7 863.3,465.0 860.0,471.7 855.0,473.3 850.0,478.3 846.7,475.0 841.7,473.3 838.3,475.8 833.3,476.7 830.0,473.3 826.7,468.3 830.0,463.3 833.3,458.3" fill="#fee79b" stroke="#fee79b" stroke-width="1.2"/>
<polygon points="788.3,466.7 791.7,458.3 790.0,450.0 790.0,443.3 796.7,443.3 800.8,442.5 800.0,446.7 811.7,445.0 813.3,449.2 818.3,448.3 823.3,451.7 830.0,448.3 835.0,451.7 833.3,458.3 830.0,463.3 826.7,468.3 823.3,468.3 818.3,470.0 816.7,475.0 813.3,475.8 806.7,473.3 800.0,475.0 795.0,470.0" fill="#fece65" stroke="#fece65" stroke-width="1.2"/>
<polygon points="840.0,486.7 843.3,480.0 850.0,478.3 855.0,473.3 860.0,471.7 863.3,465.0 868.3,466.7 865.0,473.3 866.7,480.0 873.3,483.3 873.3,493.3 871.7,498.3 866.7,501.7 867.5,513.3 863.3,515.0 860.0,510.0 856.7,513.3 851.7,510.0 848.3,503.3 845.0,500.0 848.3,493.3 843.3,491.7" fill="#fee79b" stroke="#fee79b" stroke-width="1.2"/>
<polygon points="868.3,466.7 873.3,472.5 881.7,477.5 887.5,480.0 890.0,486.7 893.3,495.0 897.5,505.0 890.0,503.3 885.0,505.0 878.3,505.0 876.7,500.0 871.7,498.3 873.3,493.3 873.3,483.3 866.7,480.0 865.0,473.3" fill="#fece65" stroke="#fece65" stroke-width="1.2"/>
<polygon points="816.7,475.0 818.3,470.0 823.3,468.3 826.7,468.3 830.0,473.3 833.3,476.7 838.3,475.8 841.7,473.3 846.7,475.0 850.0,478.3 843.3,480.0 840.0,486.7 833.3,485.0 828.3,483.3 826.7,478.3 821.7,480.0" fill="#fee79b" stroke="#fee79b" stroke-width="1.2"/>
<polygon points="866.7,501.7 871.7,498.3 876.7,500.0 878.3,505.0 878.3,513.3 876.7,520.0 873.3,523.3 871.7,530.0 868.3,533.3 865.0,540.0 860.0,540.0 855.0,530.0 853.3,526.7 858.3,521.7 856.7,513.3 860.0,510.0 863.3,515.0 867.5,513.3" fill="#feac3a" stroke="#feac3a" stroke-width="1.2"/>
<polygon points="878.3,505.0 885.0,505.0 890.0,503.3 897.5,505.0 900.0,513.3 906.7,518.3 908.3,523.3 915.0,528.3 906.7,530.8 900.0,526.7 893.3,525.0 886.7,526.7 881.7,525.0 878.3,521.7 876.7,520.0 878.3,513.3" fill="#ffffe5" stroke="#ffffe5" stroke-width="1.2"/>
<polygon points="871.7,530.0 873.3,523.3 876.7,520.0 878.3,521.7 881.7,525.0 886.7,526.7 893.3,525.0 900.0,526.7 906.7,530.0 901.7,536.7 898.3,543.3 893.3,550.0 886.7,546.7 881.7,543.3 875.0,545.0 871.7,541.7 868.3,533.3" fill="#fee79b" stroke="#fee79b" stroke-width="1.2"/>
<polygon points="790.0,505.0 798.3,496.7 803.3,486.7 808.3,486.7 813.3,491.7 820.0,486.7 821.7,480.0 826.7,478.3 828.3,483.3 833.3,485.0 840.0,486.7 843.3,491.7 848.3,493.3 845.0,500.0 848.3,503.3 851.7,510.0 856.7,513.3 858.3,521.7 853.3,526.7 855.0,530.0 860.0,540.0 856.7,543.3 848.3,540.0 843.3,530.0 840.0,521.7 833.3,515.0 826.7,511.7 816.7,508.3 811.7,516.7 806.7,518.3 803.3,515.0 796.7,513.3 793.3,510.0" fill="#fff8c1" stroke="#fff8c1" stroke-width="1.2"/>
<polygon points="811.7,548.3 820.0,546.7 826.7,548.3 831.7,545.0 836.7,546.7 840.0,553.3 846.7,556.7 850.0,563.3 846.7,568.3 840.0,566.7 833.3,570.0 826.7,568.3 823.3,575.0 820.0,580.0 813.3,580.0 811.7,568.3 808.3,556.7 806.7,550.0" fill="#fece65" stroke="#fece65" stroke-width="1.2"/>
<polygon points="846.7,556.7 850.0,551.7 856.7,546.7 861.7,543.3 866.7,544.2 875.0,545.0 873.3,551.7 870.0,556.7 866.7,561.7 860.0,563.3 856.7,568.3 853.3,566.7 850.0,563.3" fill="#feac3a" stroke="#feac3a" stroke-width="1.2"/>
<polygon points="826.7,568.3 833.3,570.0 840.0,566.7 846.7,568.3 850.0,563.3 853.3,566.7 856.7,568.3 860.0,563.3 866.7,561.7 870.0,556.7 866.7,568.3 863.3,575.0 856.7,580.0 820.0,580.0 823.3,575.0" fill="#fee79b" stroke="#fee79b" stroke-width="1.2"/>
<polygon points="875.0,545.0 881.7,543.3 886.7,546.7 893.3,550.0 898.3,543.3 900.0,545.0 901.7,550.0 905.0,553.3 910.0,556.7 912.5,560.0 906.7,563.3 900.0,556.7 895.0,553.3 890.0,555.0 885.0,553.3 880.0,551.7 873.3,551.7" fill="#fee79b" stroke="#fee79b" stroke-width="1.2"/>
<polygon points="873.3,551.7 880.0,551.7 885.0,553.3 890.0,555.0 895.0,553.3 900.0,556.7 906.7,563.3 912.5,560.0 916.7,566.7 915.0,573.3 911.7,580.0 856.7,580.0 863.3,575.0 866.7,568.3 870.0,556.7" fill="#fff8c1" stroke="#fff8c1" stroke-width="1.2"/>
<polygon points="750.0,465.0 756.7,459.2 763.3,455.0 765.0,463.3 773.3,473.3 776.7,468.3 788.3,466.7 795.0,470.0 800.0,475.0 806.7,473.3 813.3,475.8 816.7,475.0 821.7,480.0 820.0,486.7 813.3,491.7 808.3,486.7 803.3,486.7 796.7,483.3 790.0,478.3 783.3,480.0 778.3,483.3 773.3,480.0 766.7,483.3 758.3,480.0 760.0,473.3 753.3,470.0" fill="#feac3a" stroke="#feac3a" stroke-width="1.2"/>
<polygon points="739.2,461.7 748.3,461.7 756.7,459.2 750.0,465.0 753.3,470.0 760.0,473.3 758.3,480.0 766.7,483.3 773.3,480.0 778.3,483.3 776.7,490.0 770.0,488.3 765.0,496.7 758.3,506.7 760.0,513.3 756.7,519.2 739.2,520.0" fill="#fee79b" stroke="#fee79b" stroke-width="1.2"/>
<polygon points="778.3,483.3 783.3,480.0 790.0,478.3 796.7,483.3 803.3,486.7 798.3,496.7 790.0,505.0 785.0,503.3 778.3,496.7 775.8,493.3 775.0,487.5 776.7,490.0" fill="#fff8c1" stroke="#fff8c1" stroke-width="1.2"/>
<polygon points="758.3,506.7 765.0,496.7 768.3,498.3 773.3,497.5 778.3,496.7 785.0,503.3 790.0,505.0 793.3,510.0 790.0,515.0 785.0,518.3 781.7,521.7 776.7,516.7 769.2,520.0 760.0,513.3" fill="#ffffe5" stroke="#ffffe5" stroke-width="1.2"/>
<polygon points="769.2,520.0 776.7,516.7 781.7,521.7 785.0,518.3 790.0,515.0 793.3,510.0 796.7,513.3 803.3,515.0 806.7,518.3 808.3,523.3 806.7,530.0 800.0,535.0 796.7,540.0 790.0,538.3 783.3,533.3 775.0,530.0 770.0,523.3" fill="#feac3a" stroke="#feac3a" stroke-width="1.2"/>
<polygon points="739.2,520.0 756.7,519.2 769.2,520.0 770.0,523.3 775.0,530.0 783.3,533.3 790.0,538.3 796.7,540.0 800.0,535.0 803.3,538.3 806.7,543.3 811.7,548.3 806.7,550.0 808.3,556.7 811.7,568.3 813.3,580.0 800.0,580.0 796.7,568.3 790.0,560.0 783.3,563.3 773.3,563.3 768.3,568.3 766.7,580.0 739.2,580.0" fill="#fece65" stroke="#fece65" stroke-width="1.2"/>
<polygon points="901.7,386.7 906.7,383.3 913.3,380.0 920.0,380.0 916.7,383.3 911.7,386.7 905.0,390.0" fill="#fee79b" stroke="#fee79b" stroke-width="1.2"/>
<polygon points="590.0,625.8 593.3,621.7 598.3,623.3 601.7,620.8 606.7,623.3 613.3,622.5 617.5,618.3 616.7,613.3 618.3,610.0 626.7,615.0 635.0,613.3 636.7,609.2 633.3,606.7 628.3,605.8 624.2,603.3 625.0,598.3 630.0,595.8 636.7,598.3 641.7,595.8 646.7,591.7 655.0,590.0 656.7,585.8 663.3,587.5 670.0,590.0 673.3,596.7 680.0,601.7 685.0,605.0 688.3,610.0 691.7,616.7 686.7,621.7 682.5,627.5 690.0,628.3 693.3,633.3 690.8,640.0 692.5,646.7 696.7,650.0 690.0,653.3 683.3,655.8 678.3,660.8 671.7,661.7 666.7,666.7 661.7,666.7 656.7,662.5 653.3,659.2 649.2,661.7 648.3,666.7 643.3,668.3 638.3,670.8 633.3,675.0 630.0,677.5 623.3,673.3 616.7,671.7 613.3,675.0 608.3,676.7 605.0,678.3 604.2,673.3 608.3,668.3 605.8,663.3 602.5,656.7 603.3,650.0 605.8,643.3 603.3,638.3 596.7,637.5 591.7,636.7 590.0,631.7" fill="#ffffe5" stroke="#ffffe5" stroke-width="1.2"/>
<polygon points="618.3,579.2 621.7,575.0 625.0,570.0 623.3,565.0 626.7,560.8 636.7,561.7 643.3,565.8 650.0,566.7 656.7,560.0 661.7,553.3 666.7,546.7 671.7,539.2 675.8,533.3 673.3,524.2 681.7,528.3 690.0,533.3 696.7,535.0 705.0,538.3 705.8,545.0 710.0,546.7 706.7,553.3 696.7,551.7 690.0,555.0 685.0,558.3 678.3,558.3 675.0,561.7 676.7,568.3 681.7,575.8 685.0,580.0 688.3,585.0 687.5,593.3 685.0,601.7 685.0,605.0 681.7,602.5 678.3,598.3 676.7,591.7 673.3,586.7 670.0,590.0 663.3,587.5 656.7,585.8 655.0,590.0 646.7,591.7 641.7,595.8 636.7,598.3 633.3,595.8 630.0,593.3 626.7,588.3 621.7,585.0" fill="#fff8c1" stroke="#fff8c1" stroke-width="1.2"/>
<polygon points="675.0,560.0 711.7,560.0 710.0,566.7 711.7,571.7 705.0,573.3 698.3,575.0 693.3,578.3 688.3,585.0 685.0,580.0 681.7,575.8 676.7,571.7 675.0,566.7" fill="#ffffe5" stroke="#ffffe5" stroke-width="1.2"/>
<polygon points="535.0,560.0 566.7,560.0 563.3,568.3 565.0,576.7 561.7,581.7 556.7,580.0 561.7,590.0 568.3,586.7 575.0,585.0 575.8,593.3 580.8,598.3 585.0,601.7 590.0,596.7 591.7,601.7 585.8,608.3 583.3,615.0 575.8,620.8 575.0,626.7 577.5,638.3 575.8,641.7 570.0,644.2 563.3,646.7 556.7,648.3 550.0,638.3 543.3,626.7 535.0,623.3" fill="#feac3a" stroke="#feac3a" stroke-width="1.2"/>
<polygon points="563.3,568.3 566.7,560.0 610.0,560.0 602.5,566.7 608.3,570.0 615.0,571.7 621.7,575.0 618.3,579.2 616.7,583.3 613.3,588.3 606.7,586.7 596.7,583.3 597.5,575.8 593.3,573.3 588.3,570.8 581.7,575.0 575.8,580.0 575.0,585.0 568.3,586.7 561.7,590.0 556.7,580.0 561.7,581.7 565.0,576.7" fill="#fff8c1" stroke="#fff8c1" stroke-width="1.2"/>
<polygon points="613.3,588.3 616.7,583.3 618.3,579.2 621.7,585.0 626.7,588.3 630.0,593.3 633.3,595.8 636.7,598.3 630.0,595.8 625.0,598.3 624.2,603.3 628.3,605.8 633.3,606.7 636.7,609.2 635.0,613.3 626.7,615.0 618.3,610.0 616.7,608.3 617.5,601.7 616.7,593.3" fill="#fee79b" stroke="#fee79b" stroke-width="1.2"/>
<polygon points="575.0,626.7 575.8,620.8 583.3,615.0 585.8,608.3 591.7,601.7 596.7,597.5 600.0,598.3 601.7,601.7 602.5,608.3 606.7,611.7 611.7,608.3 616.7,608.3 616.7,613.3 617.5,618.3 613.3,622.5 606.7,623.3 601.7,620.8 598.3,623.3 593.3,621.7 590.0,625.8 590.0,631.7 591.7,636.7 586.7,633.3 581.7,630.0 578.3,635.0 577.5,638.3" fill="#fff8c1" stroke="#fff8c1" stroke-width="1.2"/>
<polygon points="535.0,646.7 545.0,643.3 550.0,641.7 555.8,646.7 563.3,646.7 565.0,653.3 565.0,663.3 561.7,670.0 557.5,675.0 556.7,683.3 550.0,685.0 545.0,681.7 538.3,676.7 533.3,668.3" fill="#f68720" stroke="#f68720" stroke-width="1.2"/>
<polygon points="563.3,646.7 570.0,644.2 575.8,641.7 580.0,645.0 581.7,653.3 583.3,660.0 583.3,666.7 580.0,673.3 575.0,676.7 571.7,675.0 563.3,680.0 557.5,675.0 561.7,670.0 565.0,663.3 565.0,653.3" fill="#fece65" stroke="#fece65" stroke-width="1.2"/>
<polygon points="575.8,641.7 577.5,638.3 578.3,635.0 581.7,630.0 586.7,633.3 591.7,636.7 596.7,637.5 603.3,638.3 605.8,643.3 603.3,650.0 602.5,656.7 605.8,663.3 608.3,668.3 604.2,673.3 605.0,678.3 601.7,683.3 595.0,681.7 590.0,676.7 586.7,673.3 583.3,666.7 583.3,660.0 581.7,653.3 580.0,645.0" fill="#feac3a" stroke="#feac3a" stroke-width="1.2"/>
<polygon points="546.7,686.7 550.0,685.0 556.7,683.3 557.5,675.0 563.3,680.0 571.7,675.0 575.0,676.7 580.0,673.3 583.3,666.7 586.7,673.3 590.0,676.7 595.0,681.7 588.3,688.3 588.3,698.3 591.7,706.7 593.3,716.7 590.0,718.3 586.7,715.0 581.7,718.3 578.3,720.0 573.3,716.7 566.7,715.8 565.0,720.0 556.7,716.7 555.0,710.0 551.7,701.7 548.3,693.3" fill="#fee79b" stroke="#fee79b" stroke-width="1.2"/>
<polygon points="608.3,676.7 613.3,675.0 616.7,671.7 616.7,680.0 620.0,686.7 625.0,688.3 631.7,690.0 633.3,695.0 630.8,698.3 623.3,701.7 618.3,705.0 613.3,708.3 608.3,713.3 603.3,715.0 598.3,717.5 593.3,716.7 591.7,706.7 588.3,698.3 588.3,688.3 595.0,681.7 601.7,683.3 605.0,678.3" fill="#d9d9d9" stroke="#d9d9d9" stroke-width="1.2"/>
<polygon points="678.3,660.8 683.3,655.8 690.0,653.3 696.7,650.0 698.3,656.7 696.7,663.3 700.0,673.3 705.0,678.3 708.3,683.3 703.3,686.7 693.3,691.7 686.7,688.3 681.7,683.3 685.0,676.7 683.3,670.0 678.3,666.7" fill="#d9d9d9" stroke="#d9d9d9" stroke-width="1.2"/>
<polygon points="655.0,708.3 660.0,701.7 666.7,696.7 674.2,691.7 678.3,696.7 681.7,701.7 686.7,705.0 691.7,710.0 696.7,720.0 695.0,726.7 697.5,736.7 698.3,743.3 695.0,742.5 686.7,743.3 678.3,741.7 670.0,740.8 661.7,740.0 658.3,735.0 660.0,726.7 665.0,718.3 663.3,713.3" fill="#d9d9d9" stroke="#d9d9d9" stroke-width="1.2"/>
<polygon points="645.0,716.7 646.7,708.3 655.0,708.3 663.3,713.3 665.0,718.3 660.0,726.7 658.3,735.0 661.7,740.0 655.0,739.2 650.0,735.0 645.0,731.7 641.7,726.7 642.5,721.7" fill="#fff8c1" stroke="#fff8c1" stroke-width="1.2"/>
<polygon points="720.0,676.7 725.0,668.3 730.0,670.0 736.7,675.0 739.2,680.0 736.7,688.3 731.7,695.0 728.3,701.7 725.0,710.0 720.0,716.7 716.7,713.3 713.3,706.7 711.7,698.3 710.0,688.3 715.0,685.0 720.0,683.3" fill="#d9d9d9" stroke="#d9d9d9" stroke-width="1.2"/>
<polygon points="696.7,720.0 701.7,710.0 708.3,706.7 713.3,706.7 716.7,713.3 720.0,716.7 715.0,721.7 713.3,726.7 706.7,733.3 701.7,739.2 698.3,743.3 697.5,736.7 695.0,726.7" fill="#fff8c1" stroke="#fff8c1" stroke-width="1.2"/>
<polygon points="690.0,628.3 682.5,627.5 686.7,621.7 691.7,616.7 690.8,610.0 690.0,603.3 687.5,593.3 690.0,583.3 693.3,578.3 698.3,575.0 705.0,573.3 711.7,571.7 716.7,568.3 723.3,566.7 740.0,570.0 740.0,596.7 725.0,598.3 716.7,603.3 715.0,613.3 713.3,618.3 706.7,623.3 703.3,630.0 701.7,638.3 700.0,646.7 696.7,650.0 692.5,646.7 690.8,640.0 693.3,633.3" fill="#fece65" stroke="#fece65" stroke-width="1.2"/>
<polygon points="715.0,613.3 716.7,603.3 725.0,598.3 740.0,596.7 740.0,676.7 736.7,675.0 730.0,670.0 725.0,668.3 720.8,671.7 720.0,666.7 725.0,660.0 728.3,653.3 725.0,651.7 725.0,645.0 720.0,642.5 713.3,644.2 706.7,648.3 700.0,646.7 701.7,638.3 703.3,630.0 706.7,623.3 713.3,618.3" fill="#fff8c1" stroke="#fff8c1" stroke-width="1.2"/>
<polygon points="698.3,743.3 701.7,739.2 706.7,733.3 713.3,726.7 715.0,721.7 720.0,716.7 725.0,710.0 728.3,701.7 731.7,695.0 740.0,693.3 740.0,776.7 696.7,776.7 697.5,751.7" fill="#fff8c1" stroke="#fff8c1" stroke-width="1.2"/>
<polygon points="739.2,611.7 746.7,610.0 753.3,608.3 756.7,615.0 753.3,620.0 746.7,620.0 739.2,616.7" fill="#feac3a" stroke="#feac3a" stroke-width="1.2"/>
<polygon points="745.0,653.3 750.0,650.0 758.3,643.3 758.3,633.3 763.3,635.0 765.0,641.7 773.3,648.3 773.3,656.7 773.3,663.3 761.7,660.0 755.0,665.0 753.3,670.0 746.7,668.3 743.3,660.0" fill="#feac3a" stroke="#feac3a" stroke-width="1.2"/>
<polygon points="741.7,583.3 750.0,581.7 753.3,588.3 750.0,596.7 743.3,600.0 739.2,598.3" fill="#fff8c1" stroke="#fff8c1" stroke-width="1.2"/>
<polygon points="739.2,668.3 746.7,668.3 753.3,670.0 755.0,676.7 758.3,681.7 766.7,683.3 771.7,686.7 770.0,693.3 766.7,701.7 760.0,705.0 765.0,710.0 768.3,718.3 766.7,725.0 758.3,733.3 750.0,740.0 739.2,736.7" fill="#fece65" stroke="#fece65" stroke-width="1.2"/>
<polygon points="820.0,325.0 826.7,320.0 836.7,311.7 843.3,313.3 847.5,319.2 850.8,325.0 849.2,330.0 853.3,335.0 861.7,338.3 866.7,337.5 862.5,345.0 867.5,350.8 875.0,354.2 875.8,360.0 870.0,363.3 861.7,365.0 860.0,360.0 850.0,356.7 841.7,358.3 833.3,360.0 832.5,353.3 825.0,346.7 820.0,343.3" fill="#feac3a" stroke="#feac3a" stroke-width="1.2"/>
<polygon points="833.3,360.0 841.7,358.3 850.0,356.7 860.0,360.0 861.7,365.0 870.0,363.3 875.8,360.0 878.3,363.3 873.3,366.7 868.3,370.0 869.2,375.0 865.0,379.2 858.3,381.7 853.3,385.0 848.3,380.0 845.0,376.7 840.0,373.3 838.3,366.7" fill="#fece65" stroke="#fece65" stroke-width="1.2"/>
<polygon points="862.5,345.0 866.7,337.5 869.2,330.0 868.3,320.0 873.3,316.7 878.3,321.7 883.3,330.0 890.0,323.3 898.3,320.0 903.3,325.0 901.7,330.0 896.7,335.0 893.3,341.7 883.3,345.0 875.0,348.3 870.0,351.7 867.5,350.8" fill="#fff8c1" stroke="#fff8c1" stroke-width="1.2"/>
<polygon points="900.0,320.0 906.7,315.0 916.7,310.0 925.0,306.7 931.7,310.0 933.3,315.0 928.3,320.0 925.0,325.0 926.7,330.0 920.0,333.3 913.3,336.7 910.0,340.0 910.8,345.8 903.3,347.5 900.0,343.3 895.8,338.3 896.7,335.0 901.7,330.0 903.3,325.0" fill="#f68720" stroke="#f68720" stroke-width="1.2"/>
<polygon points="867.5,350.8 870.0,351.7 875.0,348.3 883.3,345.0 893.3,341.7 896.7,335.0 895.8,338.3 900.0,343.3 903.3,347.5 896.7,350.8 893.3,356.7 886.7,360.0 878.3,362.5 875.8,360.0 875.0,354.2" fill="#feac3a" stroke="#feac3a" stroke-width="1.2"/>
<polygon points="925.0,306.7 930.0,305.0 940.0,301.7 946.7,298.3 948.3,294.2 953.3,296.7 960.0,303.3 963.3,305.0 968.3,300.8 970.8,306.7 975.0,315.0 978.3,321.7 977.5,328.3 970.0,330.0 961.7,333.3 953.3,331.7 946.7,333.3 940.0,331.7 933.3,333.3 926.7,330.0 925.0,325.0 928.3,320.0 933.3,315.0 931.7,310.0" fill="#fece65" stroke="#fece65" stroke-width="1.2"/>
<polygon points="946.7,333.3 953.3,331.7 961.7,333.3 970.0,330.0 977.5,328.3 982.5,338.3 984.2,345.8 978.3,348.3 973.3,353.3 968.3,356.7 961.7,361.7 956.7,368.3 950.0,368.3 948.3,361.7 949.2,353.3 946.7,343.3" fill="#fee79b" stroke="#fee79b" stroke-width="1.2"/>
<polygon points="910.0,340.0 913.3,336.7 920.0,333.3 926.7,330.0 933.3,333.3 940.0,331.7 946.7,333.3 946.7,343.3 949.2,353.3 948.3,361.7 950.0,368.3 943.3,370.0 935.0,372.5 926.7,376.7 920.0,381.7 915.0,385.0 908.3,388.3 902.5,389.2 902.5,386.7 906.7,386.7 911.7,385.0 910.8,378.3 906.7,380.0 904.2,374.2 909.2,372.5 908.3,367.5 912.5,365.0 916.7,360.0 921.7,355.8 920.0,351.7 915.8,346.7 910.8,345.8" fill="#fff8c1" stroke="#fff8c1" stroke-width="1.2"/>
<polygon points="977.5,328.3 978.3,321.7 985.0,313.3 993.3,308.3 1001.7,310.0 1000.0,318.3 995.0,325.0 993.3,331.7 996.7,336.7 990.0,343.3 984.2,345.8 982.5,338.3" fill="#ffffe5" stroke="#ffffe5" stroke-width="1.2"/>
<polygon points="943.3,280.0 953.3,280.0 963.3,286.7 967.5,291.7 968.3,300.8 963.3,305.0 960.0,303.3 953.3,296.7 948.3,294.2 941.7,291.7 945.0,286.7" fill="#feac3a" stroke="#feac3a" stroke-width="1.2"/>
<polygon points="968.3,291.7 973.3,290.0 978.3,291.7 981.7,300.0 975.0,298.3 969.2,300.8" fill="#fece65" stroke="#fece65" stroke-width="1.2"/>
<polygon points="695.0,738.8 702.5,736.2 712.5,727.5 725.0,725.0 740.0,722.5 740.0,740.0 715.0,772.5 695.0,772.5" fill="#ffffe5" stroke="#ffffe5" stroke-width="1.2"/>
<polygon points="548.3,393.3 556.7,388.3 561.7,393.3 567.5,398.3 558.3,404.2 548.3,402.5 546.7,398.3" fill="#d9d9d9" stroke="#d9d9d9" stroke-width="1.2"/>
<polygon points="565.8,455.8 571.7,454.2 575.0,453.3 581.7,458.3 588.3,460.0 590.0,465.0 593.3,473.3 590.0,480.0 596.7,482.5 601.7,490.0 605.8,496.7 606.7,500.0 603.3,503.3 598.3,496.7 595.0,494.2 586.7,491.7 580.0,488.3 575.8,481.7 568.3,486.7 562.5,488.3 562.5,479.2 558.3,470.0 561.7,463.3 565.0,460.0" fill="#d9d9d9" stroke="#d9d9d9" stroke-width="1.2"/>
<polygon points="626.7,406.7 627.5,401.7 633.3,401.7 640.0,398.3 646.7,403.3 656.7,407.5 659.2,410.0 655.0,413.3 653.3,418.3 654.2,422.5 643.3,424.2 640.0,428.3 638.3,431.7 633.3,433.3 628.3,430.0 625.0,426.7 626.7,420.0 630.0,415.0" fill="#d9d9d9" stroke="#d9d9d9" stroke-width="1.2"/>
<polygon points="676.7,465.0 683.3,458.3 690.0,455.0 700.0,456.7 690.0,460.0 685.0,466.7 680.0,468.3" fill="#feac3a" stroke="#feac3a" stroke-width="1.2"/>
<polygon points="606.7,515.0 618.3,513.3 630.0,511.7 640.0,515.0 641.7,521.7 638.3,530.0 633.3,533.3 623.3,535.0 618.3,528.3 616.7,521.7" fill="#ffffe5" stroke="#ffffe5" stroke-width="1.2"/>
<polygon points="591.7,513.3 596.7,508.3 603.3,513.3 610.0,518.3 616.7,521.7 618.3,528.3 623.3,535.0 621.7,545.0 613.3,550.0 606.7,546.7 596.7,540.0 591.7,533.3 593.3,523.3" fill="#fece65" stroke="#fece65" stroke-width="1.2"/>
<polygon points="591.7,533.3 596.7,540.0 606.7,546.7 613.3,550.0 616.7,555.0 610.0,556.7 603.3,551.7 596.7,546.7 591.7,540.0" fill="#fee79b" stroke="#fee79b" stroke-width="1.2"/>
<polygon points="641.7,521.7 646.7,513.3 655.0,518.3 660.0,516.7 666.7,521.7 673.3,523.3 675.0,530.0 671.7,538.3 666.7,546.7 660.0,555.0 655.0,560.0 646.7,568.3 640.0,561.7 633.3,558.3 640.0,551.7 646.7,546.7 648.3,538.3 643.3,533.3 638.3,530.0" fill="#feac3a" stroke="#feac3a" stroke-width="1.2"/>
<polygon points="638.3,530.0 643.3,533.3 648.3,538.3 646.7,546.7 640.0,551.7 633.3,558.3 626.7,555.0 630.0,546.7 635.0,540.0 633.3,533.3" fill="#fece65" stroke="#fece65" stroke-width="1.2"/>
<polygon points="540.0,535.0 550.0,540.0 560.0,550.0 565.0,563.3 565.0,580.0 540.0,580.0" fill="#feac3a" stroke="#feac3a" stroke-width="1.2"/>
<polygon points="603.3,565.0 610.0,556.7 616.7,561.7 623.3,568.3 620.0,573.3 611.7,571.7" fill="#feac3a" stroke="#feac3a" stroke-width="1.2"/>
<polygon points="581.7,575.0 588.3,570.0 595.0,573.3 596.7,580.0 580.0,580.0" fill="#f68720" stroke="#f68720" stroke-width="1.2"/>
<polygon points="755.8,398.3 765.0,395.0 769.2,401.7 771.7,405.0 772.5,410.0 765.0,408.3 758.3,403.3" fill="#e1640e" stroke="#e1640e" stroke-width="1.2"/>
<polygon points="739.2,446.7 750.0,445.8 760.0,448.3 767.5,450.0 763.3,455.0 756.7,459.2 748.3,461.7 739.2,460.0" fill="#c14702" stroke="#c14702" stroke-width="1.2"/>
<polygon points="773.3,380.0 780.8,380.0 780.0,383.3 775.0,384.2" fill="#e1640e" stroke="#e1640e" stroke-width="1.2"/>
<polygon points="765.0,453.3 770.0,448.3 776.7,450.0 783.3,453.3 786.7,460.0 788.3,466.7 776.7,468.3 770.0,463.3" fill="#f68720" stroke="#f68720" stroke-width="1.2"/>
<polygon points="796.7,401.7 798.3,396.7 803.3,396.7 806.7,398.3 811.7,405.0 818.3,406.7 815.0,415.0 810.0,420.0 805.0,425.0 800.0,431.7 799.2,430.0 795.0,423.3 795.0,416.7 800.0,410.0" fill="#fece65" stroke="#fece65" stroke-width="1.2"/>
<polygon points="810.0,395.0 813.3,386.7 818.3,391.7 823.3,390.0 833.3,393.3 840.0,394.2 844.2,399.2 838.3,405.0 833.3,408.3 823.3,409.2 818.3,406.7 811.7,405.0 806.7,398.3" fill="#feac3a" stroke="#feac3a" stroke-width="1.2"/>
<polygon points="813.3,380.0 823.3,380.0 825.0,385.0 823.3,390.0 818.3,391.7 813.3,386.7" fill="#fee79b" stroke="#fee79b" stroke-width="1.2"/>
<polygon points="823.3,380.0 848.3,380.0 846.7,383.3 843.3,388.3 840.0,394.2 833.3,393.3 823.3,390.0 825.0,385.0" fill="#fece65" stroke="#fece65" stroke-width="1.2"/>
<polygon points="790.0,383.3 796.7,379.2 813.3,380.0 813.3,386.7 810.0,395.0 805.0,386.7" fill="#fece65" stroke="#fece65" stroke-width="1.2"/>
<polygon points="811.7,445.0 815.0,443.3 820.0,440.8 828.3,440.0 832.5,436.7 835.0,440.0 838.3,444.2 843.3,446.7 840.0,450.0 835.0,451.7 830.0,448.3 823.3,451.7 818.3,448.3 813.3,449.2" fill="#e1640e" stroke="#e1640e" stroke-width="1.2"/>
<polygon points="873.3,428.3 878.3,423.3 886.7,422.5 891.7,425.0 892.5,430.0 888.3,435.0 881.7,437.5 880.0,436.7 876.7,433.3" fill="#ffffe5" stroke="#ffffe5" stroke-width="1.2"/>
<polygon points="860.0,448.3 865.0,445.0 873.3,446.7 876.7,443.3 878.3,453.3 871.7,461.7 868.3,460.0 861.7,459.2 857.5,458.3 858.3,453.3" fill="#ffffe5" stroke="#ffffe5" stroke-width="1.2"/>
<polygon points="790.0,450.0 790.8,445.0 795.0,442.5 799.2,444.2 798.3,448.3 795.0,453.3 790.8,458.3" fill="#ffffe5" stroke="#ffffe5" stroke-width="1.2"/>
<polygon points="873.3,536.7 880.0,535.0 885.0,530.0 890.0,529.2 891.7,535.0 888.3,540.0 881.7,543.3 875.0,545.0" fill="#feac3a" stroke="#feac3a" stroke-width="1.2"/>
<polygon points="899.2,545.0 902.5,538.3 906.7,530.8 914.2,528.3 918.3,532.5 920.8,542.0 919.2,555.8 911.7,553.3 905.0,555.3 900.3,557.5" fill="#fff8c1" stroke="#fff8c1" stroke-width="1.2"/>
<polygon points="823.3,501.7 830.0,496.7 836.7,500.0 841.7,505.0 838.3,510.0 831.7,511.7 826.7,508.3" fill="#ffffe5" stroke="#ffffe5" stroke-width="1.2"/>
<polygon points="816.7,508.3 826.7,511.7 833.3,515.0 840.0,521.7 843.3,530.0 840.0,538.3 836.7,546.7 831.7,545.0 828.3,538.3 823.3,533.3 821.7,523.3 818.3,516.7" fill="#feac3a" stroke="#feac3a" stroke-width="1.2"/>
<polygon points="806.7,518.3 811.7,516.7 816.7,508.3 818.3,516.7 821.7,523.3 823.3,533.3 828.3,538.3 831.7,545.0 826.7,548.3 820.0,546.7 811.7,548.3 806.7,543.3 803.3,538.3 800.0,535.0 806.7,530.0 808.3,523.3" fill="#fece65" stroke="#fece65" stroke-width="1.2"/>
<polygon points="840.0,521.7 843.3,530.0 848.3,540.0 856.7,543.3 860.0,540.0 861.7,543.3 856.7,546.7 850.0,551.7 846.7,556.7 840.0,553.3 836.7,546.7 840.0,538.3" fill="#fff8c1" stroke="#fff8c1" stroke-width="1.2"/>
<polygon points="739.2,538.3 750.0,536.7 760.0,540.0 764.2,546.7 761.7,553.3 755.0,556.7 746.7,556.7 739.2,558.3" fill="#feac3a" stroke="#feac3a" stroke-width="1.2"/>
<polygon points="763.3,530.0 781.7,536.7 783.3,546.7 780.0,556.7 773.3,563.3 765.0,560.0 761.7,553.3 764.2,546.7 760.0,540.0" fill="#fee79b" stroke="#fee79b" stroke-width="1.2"/>
<polygon points="766.7,580.0 768.3,571.7 773.3,568.3 783.3,563.3 790.0,560.0 796.7,568.3 800.0,573.3 796.7,580.0" fill="#f68720" stroke="#f68720" stroke-width="1.2"/>
<polygon points="618.3,650.8 623.3,643.3 630.0,640.0 633.3,633.3 640.0,626.7 648.3,622.5 655.0,620.8 659.2,626.7 660.0,635.0 655.0,638.3 656.7,643.3 665.0,646.7 669.2,655.0 671.7,660.8 666.7,666.7 661.7,666.7 656.7,662.5 653.3,659.2 649.2,661.7 648.3,666.7 643.3,668.3 638.3,666.7 633.3,660.0 626.7,656.7" fill="#fece65" stroke="#fece65" stroke-width="1.2"/>
<polygon points="605.8,663.3 610.0,656.7 611.7,648.3 618.3,650.8 626.7,656.7 633.3,660.0 638.3,666.7 638.3,670.8 633.3,675.0 630.0,677.5 623.3,673.3 616.7,671.7 613.3,675.0 608.3,676.7 605.0,678.3 604.2,673.3 608.3,668.3" fill="#fff8c1" stroke="#fff8c1" stroke-width="1.2"/>
<polygon points="603.3,650.0 605.8,643.3 608.3,638.3 613.3,635.0 618.3,638.3 623.3,643.3 618.3,650.8 611.7,648.3 610.0,656.7 605.8,663.3 602.5,656.7" fill="#fee79b" stroke="#fee79b" stroke-width="1.2"/>
<polygon points="663.3,610.0 666.7,601.7 670.0,593.3 673.3,596.7 680.0,601.7 685.0,605.0 688.3,610.0 691.7,616.7 686.7,621.7 682.5,620.0 678.3,619.2 671.7,620.0 666.7,621.7 662.5,618.3" fill="#fee79b" stroke="#fee79b" stroke-width="1.2"/>
<polygon points="635.0,575.0 640.0,571.7 646.7,573.3 647.5,580.0 643.3,585.0 636.7,583.3" fill="#fee79b" stroke="#fee79b" stroke-width="1.2"/>
<polygon points="673.3,586.7 676.7,591.7 678.3,598.3 681.7,602.5 685.0,605.0 688.3,610.0 691.7,616.7 690.8,610.0 690.0,603.3 687.5,593.3 685.0,590.0 681.7,588.3 676.7,585.0" fill="#fee79b" stroke="#fee79b" stroke-width="1.2"/>
<polygon points="575.8,580.0 581.7,575.0 588.3,570.8 593.3,573.3 597.5,575.8 596.7,583.3 595.0,590.0 590.0,596.7 585.0,601.7 580.8,598.3 575.8,593.3 575.0,585.0" fill="#f68720" stroke="#f68720" stroke-width="1.2"/>
<polygon points="595.0,590.0 596.7,583.3 606.7,586.7 613.3,588.3 616.7,593.3 617.5,601.7 616.7,608.3 611.7,608.3 606.7,611.7 602.5,608.3 601.7,601.7 600.0,598.3 596.7,597.5 591.7,601.7 590.0,596.7" fill="#feac3a" stroke="#feac3a" stroke-width="1.2"/>
<polygon points="602.5,566.7 610.0,560.0 623.3,560.0 625.0,570.0 621.7,575.0 615.0,571.7 608.3,570.0" fill="#feac3a" stroke="#feac3a" stroke-width="1.2"/>
<polygon points="674.2,691.7 680.0,684.2 681.7,683.3 686.7,688.3 693.3,691.7 703.3,686.7 708.3,683.3 710.0,688.3 705.0,693.3 701.7,700.0 696.7,703.3 691.7,702.5 686.7,705.0 681.7,701.7 678.3,696.7" fill="#feac3a" stroke="#feac3a" stroke-width="1.2"/>
<polygon points="690.0,583.3 693.3,578.3 698.3,576.7 705.0,581.7 708.3,588.3 706.7,598.3 703.3,608.3 698.3,611.7 693.3,611.7 690.8,610.0 690.0,603.3 687.5,593.3" fill="#d9d9d9" stroke="#d9d9d9" stroke-width="1.2"/>
<polygon points="757.5,726.7 761.7,724.2 765.0,726.7 763.3,731.7 759.2,733.3" fill="#d9d9d9" stroke="#d9d9d9" stroke-width="1.2"/>
<polygon points="945.0,313.3 948.3,306.7 953.3,305.0 960.0,306.7 963.3,311.7 965.0,316.7 961.7,320.0 953.3,321.7 946.7,320.0" fill="#fff8c1" stroke="#fff8c1" stroke-width="1.2"/>
<polygon points="923.3,338.3 930.0,333.3 940.0,331.7 946.7,335.0 946.7,343.3 949.2,353.3 945.0,361.7 936.7,363.3 933.3,358.3 935.0,351.7 930.0,348.3 926.7,343.3" fill="#ffffe5" stroke="#ffffe5" stroke-width="1.2"/>
<polygon points="969.2,300.8 975.0,298.3 981.7,300.0 985.0,305.8 982.5,312.5 976.7,315.8 973.3,310.8 970.8,306.7" fill="#e1640e" stroke="#e1640e" stroke-width="1.2"/>
<polygon points="552.5,443.3 558.3,445.0 560.8,453.3 565.8,455.8 565.0,460.0 561.7,463.3 558.3,470.0 562.5,479.2 556.7,484.2 550.0,481.7 540.0,478.3 540.0,460.0 548.3,458.3 550.0,451.7" fill="#933204" stroke="#933204" stroke-width="1.2"/>
<polygon points="585.8,447.5 596.7,451.7 602.5,445.8 606.7,445.8 610.0,451.7 613.3,457.5 621.7,460.0 622.5,462.5 611.7,466.7 606.7,470.0 605.8,475.0 610.0,478.3 606.7,481.7 596.7,482.5 590.0,480.0 593.3,473.3 590.0,465.0 595.0,461.7 590.0,455.0" fill="#e1640e" stroke="#e1640e" stroke-width="1.2"/>
<polygon points="629.2,388.3 635.8,387.5 640.0,391.7 641.7,398.3 645.0,401.7 644.2,410.8 638.3,410.0 635.0,404.2 630.8,400.0 629.2,393.3" fill="#ffffe5" stroke="#ffffe5" stroke-width="1.2"/>
<polygon points="635.8,380.0 645.8,380.0 648.3,383.3 643.3,390.0 640.0,391.7 635.8,387.5 633.3,385.0" fill="#fece65" stroke="#fece65" stroke-width="1.2"/>
<polygon points="685.0,466.7 690.0,460.0 700.0,456.7 706.7,453.3 711.7,450.0 710.8,456.7 708.3,463.3 706.7,470.0 708.3,478.3 700.0,480.0 693.3,480.0 690.8,473.3 686.7,470.0" fill="#e1640e" stroke="#e1640e" stroke-width="1.2"/>
<polygon points="703.3,533.3 708.3,530.8 716.7,531.7 718.3,535.0 713.3,538.3 706.7,540.0" fill="#d9d9d9" stroke="#d9d9d9" stroke-width="1.2"/>
<polygon points="765.0,496.7 770.0,488.3 775.0,487.5 775.8,493.3 778.3,496.7 773.3,497.5 768.3,498.3" fill="#e1640e" stroke="#e1640e" stroke-width="1.2"/>
<polygon points="747.5,558.3 753.3,556.7 755.8,563.3 751.7,566.7 747.5,563.3" fill="#d9d9d9" stroke="#d9d9d9" stroke-width="1.2"/>
<polygon points="786.7,561.7 793.3,563.3 798.3,570.0 795.0,575.0 790.0,573.3" fill="#e1640e" stroke="#e1640e" stroke-width="1.2"/>
<polygon points="544.2,625.8 550.0,624.2 556.7,625.0 562.5,626.7 560.8,633.3 558.3,640.0 555.8,646.7 552.5,643.3 548.3,635.0" fill="#d9d9d9" stroke="#d9d9d9" stroke-width="1.2"/>
<polygon points="675.0,561.7 678.3,558.3 685.0,558.3 690.0,555.0 696.7,551.7 706.7,553.3 710.0,546.7 711.7,560.0 710.0,570.0 705.0,573.3 698.3,575.0 693.3,578.3 688.3,585.0 685.8,580.0 681.7,575.0 676.7,568.3" fill="#ffffe5" stroke="#ffffe5" stroke-width="1.2"/>
<polygon points="680.8,430.8 829.2,430.8 829.2,579.2 680.8,579.2" fill="#fee79b" stroke="#fee79b" stroke-width="1.2"/>
<polygon points="680.8,580.8 829.2,580.8 829.2,719.2 680.8,719.2" fill="#fee79b" stroke="#fee79b" stroke-width="1.2"/>
<polygon points="680.0,430.0 710.0,430.0 711.2,443.8 711.2,450.0 706.9,451.2 702.5,456.2 692.5,458.8 685.0,458.8 680.0,460.0" fill="#fff8c1" stroke="#fff8c1" stroke-width="1.2"/>
<polygon points="711.2,430.0 736.9,430.0 742.5,433.8 747.5,437.5 741.2,448.8 736.9,452.5 733.8,451.9 727.5,451.9 718.8,451.2 712.5,452.5 711.2,443.8" fill="#feac3a" stroke="#feac3a" stroke-width="1.2"/>
<polygon points="736.9,430.0 765.0,430.0 766.2,435.0 768.8,438.8 767.5,443.8 766.2,448.8 755.0,447.5 747.5,445.0 741.2,448.8 747.5,437.5 742.5,433.8" fill="#e1640e" stroke="#e1640e" stroke-width="1.2"/>
<polygon points="741.2,448.8 747.5,445.0 755.0,447.5 766.2,448.8 766.2,453.8 761.2,456.9 755.0,460.0 747.5,461.2 741.2,460.0 737.5,456.9 736.9,452.5" fill="#c14702" stroke="#c14702" stroke-width="1.2"/>
<polygon points="712.5,452.5 718.8,451.2 727.5,451.9 733.8,451.9 736.9,452.5 737.5,456.9 741.2,460.0 738.8,463.8 733.8,466.2 727.5,468.8 717.5,472.5 708.8,475.0 706.2,472.5 708.1,465.0 710.0,457.5" fill="#fece65" stroke="#fece65" stroke-width="1.2"/>
<polygon points="683.8,468.8 687.5,465.0 692.5,458.8 702.5,456.2 706.9,451.2 711.2,450.0 712.5,452.5 710.0,457.5 708.1,465.0 706.2,472.5 708.8,475.0 707.5,478.1 702.5,480.0 700.0,481.2 693.8,480.6 691.2,475.0 687.5,471.2" fill="#e1640e" stroke="#e1640e" stroke-width="1.2"/>
<polygon points="680.0,460.0 685.0,458.8 692.5,458.8 687.5,465.0 683.8,468.8 680.0,470.0" fill="#feac3a" stroke="#feac3a" stroke-width="1.2"/>
<polygon points="680.0,470.0 683.8,468.8 687.5,471.2 691.2,475.0 693.8,480.6 700.0,481.2 702.5,480.0 707.5,478.1 711.2,480.0 715.0,486.2 718.8,492.5 720.0,501.2 712.5,502.5 705.0,503.8 693.8,502.5 687.5,500.0 680.0,502.5" fill="#fee79b" stroke="#fee79b" stroke-width="1.2"/>
<polygon points="708.8,475.0 717.5,472.5 727.5,468.8 733.8,466.2 737.5,467.5 735.0,472.5 730.0,475.0 723.8,478.8 722.5,485.0 725.0,491.2 721.2,495.0 718.8,492.5 715.0,486.2 711.2,480.0 707.5,478.1" fill="#feac3a" stroke="#feac3a" stroke-width="1.2"/>
<polygon points="738.8,463.8 741.2,460.0 747.5,461.2 755.0,460.0 761.2,456.9 766.2,453.8 770.0,451.2 776.2,453.8 782.5,458.8 788.8,460.0 790.0,466.2 788.8,470.0 790.0,475.0 788.8,480.0 783.8,479.4 778.8,480.0 776.2,473.8 777.5,468.8 771.2,467.5 765.0,468.8 757.5,467.5 751.2,466.2 747.5,467.5 741.2,467.5 738.8,466.2" fill="#feac3a" stroke="#feac3a" stroke-width="1.2"/>
<polygon points="768.8,438.8 775.0,440.0 782.5,442.5 790.0,443.8 790.0,451.2 788.8,460.0 782.5,458.8 776.2,453.8 770.0,451.2 766.2,453.8 766.2,448.8 767.5,443.8" fill="#feac3a" stroke="#feac3a" stroke-width="1.2"/>
<polygon points="722.5,485.0 723.8,478.8 730.0,475.0 735.0,472.5 737.5,467.5 741.2,467.5 747.5,467.5 751.2,466.2 757.5,467.5 765.0,468.8 771.2,467.5 777.5,468.8 776.2,473.8 772.5,480.0 767.5,481.2 762.5,480.0 757.5,482.5 757.5,487.5 761.2,490.0 766.2,492.5 765.0,497.5 760.0,502.5 758.8,507.5 755.0,510.0 747.5,506.2 740.0,495.0 732.5,492.5 725.0,491.2" fill="#fee79b" stroke="#fee79b" stroke-width="1.2"/>
<polygon points="778.8,480.0 783.8,479.4 788.8,480.0 790.0,475.0 788.8,470.0 790.0,466.2 792.5,466.2 798.8,471.2 805.0,475.0 812.5,477.5 815.0,482.5 818.8,485.0 821.2,488.8 817.5,490.0 812.5,491.2 808.8,488.8 803.8,485.0 797.5,486.2 792.5,483.8 788.8,481.2" fill="#fece65" stroke="#fece65" stroke-width="1.2"/>
<polygon points="797.5,486.2 803.8,485.0 808.8,488.8 812.5,491.2 817.5,490.0 821.2,488.8 830.0,490.0 830.0,507.5 817.5,507.5 818.8,517.5 808.8,515.0 805.0,517.5 797.5,516.2 795.0,515.0 792.5,510.0 788.8,505.0 790.0,500.0 792.5,496.2 793.8,490.0 792.5,483.8" fill="#fff8c1" stroke="#fff8c1" stroke-width="1.2"/>
<polygon points="769.4,520.0 767.5,517.5 766.2,517.5 770.0,516.2 772.5,515.0 777.5,517.5 782.5,521.2 785.0,517.5 788.8,516.2 795.0,515.0 797.5,516.2 805.0,517.5 807.5,522.5 807.5,530.0 803.8,533.8 798.8,537.5 793.8,536.2 788.8,533.8 783.8,536.2 778.8,531.2 773.8,528.8 771.2,525.0" fill="#feac3a" stroke="#feac3a" stroke-width="1.2"/>
<polygon points="721.2,527.5 727.5,522.5 728.8,516.2 725.0,508.8 730.0,515.0 737.5,517.5 745.0,520.6 755.0,520.6 757.5,527.5 755.0,533.8 752.5,537.5 742.5,536.2 736.2,540.0 738.8,548.8 740.0,555.0 742.5,560.0 747.5,561.2 747.5,567.5 717.5,566.2 708.8,565.0 707.5,555.0 710.0,542.5 717.5,535.0" fill="#fee79b" stroke="#fee79b" stroke-width="1.2"/>
<polygon points="755.0,520.6 761.2,519.4 769.4,520.0 771.2,525.0 773.8,528.8 778.8,531.2 783.8,536.2 781.2,542.5 775.0,540.0 767.5,537.5 762.5,538.8 760.0,540.0 752.5,537.5 755.0,533.8 757.5,527.5" fill="#fece65" stroke="#fece65" stroke-width="1.2"/>
<polygon points="760.0,540.0 762.5,538.8 767.5,537.5 775.0,540.0 781.2,542.5 782.5,550.0 787.5,556.2 783.8,561.2 778.8,560.0 772.5,562.5 767.5,565.0 770.0,561.2 765.0,558.8 761.2,560.0 756.2,565.0 755.0,557.5 757.5,553.8 761.2,551.2 763.8,546.2" fill="#fee79b" stroke="#fee79b" stroke-width="1.2"/>
<polygon points="693.8,502.5 705.0,503.8 712.5,502.5 720.0,501.2 725.0,508.8 728.8,516.2 727.5,522.5 721.2,527.5 717.5,535.0 710.0,532.5 705.0,536.2 702.5,533.8 697.5,536.2 695.0,530.0 693.8,517.5 693.8,510.0" fill="#feac3a" stroke="#feac3a" stroke-width="1.2"/>
<polygon points="680.0,502.5 687.5,500.0 693.8,502.5 693.8,510.0 693.8,517.5 695.0,530.0 697.5,536.2 702.5,533.8 703.8,537.5 707.5,540.0 708.8,547.5 707.5,555.0 698.8,552.5 691.2,556.2 680.0,558.8" fill="#fff8c1" stroke="#fff8c1" stroke-width="1.2"/>
<polygon points="680.0,558.8 691.2,556.2 698.8,552.5 707.5,555.0 708.8,565.0 697.5,575.0 692.5,580.0 680.0,580.0" fill="#ffffe5" stroke="#ffffe5" stroke-width="1.2"/>
<polygon points="697.5,575.0 708.8,565.0 717.5,566.2 732.5,567.5 750.0,567.5 756.2,565.0 760.0,566.2 767.5,565.0 767.5,580.0 692.5,580.0" fill="#fee79b" stroke="#fee79b" stroke-width="1.2"/>
<polygon points="783.8,536.2 788.8,533.8 793.8,536.2 798.8,537.5 803.8,533.8 807.5,530.0 812.5,533.8 810.0,541.2 811.2,548.8 806.2,555.0 810.0,561.2 811.2,567.5 821.2,568.8 825.0,580.0 798.8,580.0 797.5,570.0 792.5,563.8 785.0,558.8 787.5,556.2 782.5,550.0 781.2,542.5" fill="#fece65" stroke="#fece65" stroke-width="1.2"/>
<polygon points="817.5,508.8 825.0,507.5 830.0,517.5 830.0,537.5 825.0,536.2 821.2,525.0 818.8,517.5" fill="#feac3a" stroke="#feac3a" stroke-width="1.2"/>
<polygon points="807.5,522.5 808.8,515.0 818.8,517.5 821.2,525.0 825.0,536.2 830.0,537.5 830.0,567.5 821.2,568.8 811.2,567.5 810.0,561.2 806.2,555.0 811.2,548.8 810.0,541.2 812.5,533.8 807.5,530.0" fill="#fece65" stroke="#fece65" stroke-width="1.2"/>
<polygon points="790.0,466.2 791.2,458.8 796.2,456.2 800.0,451.2 805.0,447.5 811.2,443.8 815.0,446.2 821.2,441.2 830.0,442.5 830.0,467.5 823.8,467.5 817.5,470.0 813.8,477.5 812.5,477.5 805.0,475.0 798.8,471.2 792.5,466.2" fill="#fece65" stroke="#fece65" stroke-width="1.2"/>
<polygon points="765.0,430.0 800.0,430.0 798.8,437.5 800.0,442.5 796.2,442.5 791.2,443.8 782.5,442.5 775.0,440.0 768.8,438.8 766.2,435.0" fill="#feac3a" stroke="#feac3a" stroke-width="1.2"/>
<polygon points="800.0,430.0 830.0,430.0 830.0,437.5 821.2,440.0 817.5,441.2 811.2,443.8 805.0,447.5 800.0,445.0 796.2,442.5 800.0,442.5 798.8,437.5" fill="#fece65" stroke="#fece65" stroke-width="1.2"/>
<polygon points="813.8,477.5 817.5,470.0 823.8,467.5 830.0,467.5 830.0,490.0 821.2,488.8 818.8,485.0 815.0,482.5" fill="#fece65" stroke="#fece65" stroke-width="1.2"/>
<polygon points="696.2,577.5 698.8,573.8 711.2,572.5 717.5,575.0 730.0,573.8 738.8,576.2 743.8,580.0 741.2,583.8 742.5,592.5 740.0,596.2 730.0,598.1 721.2,599.4 716.2,602.5 715.0,610.0 716.2,616.2 712.5,622.5 705.0,626.2 702.5,633.8 700.0,637.5 701.2,645.0 697.5,650.0 692.5,645.0 693.8,636.2 690.0,628.8 683.8,625.0 686.2,620.0 691.9,612.5 696.2,610.0 702.5,607.5 705.0,600.0 707.5,592.5 706.2,586.2 701.2,581.2" fill="#fece65" stroke="#fece65" stroke-width="1.2"/>
<polygon points="715.0,610.0 716.2,602.5 721.2,599.4 730.0,598.1 740.0,596.2 742.5,592.5 747.5,595.0 745.0,601.2 738.8,606.2 736.2,611.2 738.8,620.0 735.0,626.2 730.0,631.2 740.0,635.0 742.5,641.2 741.2,647.5 743.8,652.5 742.5,657.5 746.2,665.0 743.8,668.8 738.8,673.8 735.0,676.2 728.8,673.8 726.2,668.8 721.2,670.0 720.0,665.0 725.0,660.0 726.2,653.8 728.8,651.2 725.0,645.0 720.0,642.5 716.2,643.8 712.5,643.8 708.8,650.0 703.8,646.2 701.2,645.0 700.0,637.5 702.5,633.8 705.0,626.2 712.5,622.5 716.2,616.2" fill="#fff8c1" stroke="#fff8c1" stroke-width="1.2"/>
<polygon points="741.2,583.8 743.8,580.0 747.5,580.0 755.0,585.0 757.5,587.5 765.0,583.8 768.8,586.2 772.5,591.2 776.2,595.0 776.2,601.2 772.5,607.5 768.8,613.8 767.5,620.0 771.2,626.2 772.5,635.0 775.0,641.2 776.2,646.2 773.8,648.8 767.5,647.5 765.0,640.0 762.5,635.0 757.5,633.8 760.0,641.2 755.0,645.0 742.5,641.2 740.0,635.0 730.0,631.2 735.0,626.2 738.8,620.0 736.2,611.2 738.8,606.2 745.0,601.2 747.5,595.0 742.5,592.5" fill="#fee79b" stroke="#fee79b" stroke-width="1.2"/>
<polygon points="767.5,570.0 798.8,570.0 800.0,572.5 792.5,577.5 786.2,581.2 777.5,582.5 772.5,586.2 768.8,582.5 767.5,576.2" fill="#f68720" stroke="#f68720" stroke-width="1.2"/>
<polygon points="773.8,587.5 777.5,583.8 786.2,581.2 792.5,577.5 800.0,572.5 805.0,573.8 817.5,576.2 830.0,575.0 830.0,582.5 821.2,582.5 817.5,588.8 812.5,586.2 805.0,587.5 800.0,588.8 792.5,590.0 788.8,593.8 780.0,595.0 776.2,592.5" fill="#ffffe5" stroke="#ffffe5" stroke-width="1.2"/>
<polygon points="776.2,595.0 780.0,595.0 788.8,593.8 792.5,590.0 800.0,588.8 802.5,595.0 806.2,601.2 811.2,605.0 808.8,610.0 802.5,611.2 796.2,612.5 792.5,615.0 786.2,616.2 780.0,617.5 777.5,612.5 772.5,611.2 772.5,607.5 776.2,601.2" fill="#fece65" stroke="#fece65" stroke-width="1.2"/>
<polygon points="800.0,588.8 805.0,587.5 812.5,586.2 817.5,588.8 820.0,595.0 823.8,601.2 830.0,600.0 830.0,626.2 823.8,630.0 820.0,635.0 816.2,640.0 813.8,635.0 811.2,628.8 805.0,625.0 803.8,618.8 808.8,610.0 811.2,605.0 806.2,601.2 802.5,595.0" fill="#f68720" stroke="#f68720" stroke-width="1.2"/>
<polygon points="773.8,627.5 775.0,621.2 778.8,617.5 780.0,617.5 786.2,616.2 792.5,615.0 796.2,612.5 802.5,611.2 808.8,610.0 803.8,618.8 805.0,625.0 811.2,628.8 813.8,635.0 810.0,637.5 803.8,638.8 796.2,640.0 792.5,645.0 785.0,646.2 778.8,646.2 776.2,646.2 775.0,641.2 772.5,635.0" fill="#fff8c1" stroke="#fff8c1" stroke-width="1.2"/>
<polygon points="773.8,648.8 776.2,646.2 785.0,646.2 792.5,645.0 796.2,640.0 803.8,638.8 810.0,637.5 813.8,635.0 816.2,640.0 820.0,645.0 815.0,651.2 811.2,657.5 808.8,665.0 807.5,672.5 805.0,680.0 800.0,677.5 792.5,680.0 786.2,678.8 780.0,680.0 778.8,677.5 783.8,672.5 787.5,667.5 785.0,663.8 780.0,665.0 775.0,663.8 772.5,662.5 772.5,656.2" fill="#fee79b" stroke="#fee79b" stroke-width="1.2"/>
<polygon points="820.0,635.0 823.8,630.0 830.0,626.2 830.0,655.0 826.2,652.5 821.2,650.0 820.0,645.0 816.2,640.0" fill="#feac3a" stroke="#feac3a" stroke-width="1.2"/>
<polygon points="808.8,665.0 811.2,657.5 815.0,651.2 820.0,645.0 821.2,650.0 826.2,652.5 830.0,655.0 830.0,690.0 823.8,682.5 817.5,675.0 808.8,673.8 807.5,672.5" fill="#fff8c1" stroke="#fff8c1" stroke-width="1.2"/>
<polygon points="755.0,671.2 753.8,666.2 757.5,663.8 762.5,661.2 767.5,663.8 772.5,662.5 775.0,663.8 780.0,665.0 785.0,663.8 787.5,667.5 783.8,672.5 778.8,677.5 777.5,681.2 772.5,682.5 770.0,687.5 767.5,691.2 761.2,693.8 757.5,690.0 755.0,682.5 756.2,676.2" fill="#fff8c1" stroke="#fff8c1" stroke-width="1.2"/>
<polygon points="738.8,673.8 743.8,668.8 746.2,665.0 747.5,666.2 751.2,670.0 755.0,671.2 756.2,676.2 755.0,682.5 757.5,690.0 761.2,693.8 767.5,691.2 770.0,695.0 772.5,700.0 767.5,705.0 760.0,707.5 755.0,713.8 751.2,707.5 750.0,701.2 752.5,695.0 747.5,688.8 745.0,682.5 741.2,680.0" fill="#fece65" stroke="#fece65" stroke-width="1.2"/>
<polygon points="730.0,707.5 733.8,695.0 737.5,686.2 741.2,680.0 745.0,682.5 747.5,688.8 752.5,695.0 750.0,701.2 751.2,707.5 755.0,713.8 757.5,720.0 727.5,720.0" fill="#fee79b" stroke="#fee79b" stroke-width="1.2"/>
<polygon points="767.5,691.2 770.0,687.5 772.5,682.5 777.5,681.2 778.8,677.5 780.0,680.0 786.2,678.8 792.5,680.0 800.0,677.5 805.0,680.0 802.5,687.5 797.5,692.5 792.5,695.0 787.5,700.0 780.0,702.5 775.0,707.5 771.2,713.8 767.5,720.0 757.5,720.0 755.0,713.8 760.0,707.5 767.5,705.0 772.5,700.0 770.0,695.0" fill="#fece65" stroke="#fece65" stroke-width="1.2"/>
<polygon points="805.0,680.0 807.5,672.5 808.8,673.8 817.5,675.0 823.8,682.5 830.0,690.0 830.0,720.0 767.5,720.0 771.2,713.8 775.0,707.5 780.0,702.5 787.5,700.0 792.5,695.0 797.5,692.5 802.5,687.5" fill="#fff8c1" stroke="#fff8c1" stroke-width="1.2"/>
<polygon points="697.5,650.0 701.2,645.0 703.8,646.2 708.8,650.0 712.5,643.8 716.2,643.8 720.0,642.5 725.0,645.0 728.8,651.2 726.2,653.8 725.0,660.0 720.0,665.0 721.2,670.0 718.8,673.8 712.5,680.0 710.0,685.0 705.0,682.5 698.8,680.0 695.0,673.8 696.2,665.0 698.8,657.5" fill="#ffffe5" stroke="#ffffe5" stroke-width="1.2"/>
<polygon points="680.0,657.5 686.2,656.2 692.5,652.5 697.5,650.0 698.8,657.5 696.2,665.0 695.0,673.8 698.8,680.0 705.0,682.5 702.5,687.5 693.8,691.2 688.8,690.0 683.8,685.0 682.5,677.5 686.2,673.8 687.5,667.5 683.8,662.5 680.0,662.5" fill="#d9d9d9" stroke="#d9d9d9" stroke-width="1.2"/>
<polygon points="721.2,670.0 726.2,668.8 728.8,673.8 735.0,676.2 738.8,673.8 738.8,678.8 737.5,686.2 733.8,695.0 730.0,707.5 727.5,720.0 715.0,720.0 712.5,707.5 713.8,697.5 710.0,690.0 710.0,685.0 712.5,680.0 718.8,673.8" fill="#d9d9d9" stroke="#d9d9d9" stroke-width="1.2"/>
<polygon points="680.0,685.0 683.8,685.0 688.8,690.0 693.8,691.2 702.5,687.5 705.0,682.5 710.0,685.0 710.0,690.0 705.0,695.0 700.0,701.2 693.8,703.8 686.2,705.0 680.0,700.0" fill="#feac3a" stroke="#feac3a" stroke-width="1.2"/>
<polygon points="688.8,706.2 693.8,703.8 700.0,701.2 705.0,695.0 710.0,690.0 713.8,697.5 712.5,707.5 715.0,720.0 696.2,720.0 691.2,712.5" fill="#ffffe5" stroke="#ffffe5" stroke-width="1.2"/>
<polygon points="680.0,700.0 686.2,705.0 688.8,706.2 691.2,712.5 696.2,720.0 680.0,720.0" fill="#d9d9d9" stroke="#d9d9d9" stroke-width="1.2"/>
<polygon points="680.0,625.0 683.8,625.0 690.0,628.8 693.8,636.2 692.5,645.0 697.5,650.0 692.5,652.5 686.2,656.2 680.0,657.5" fill="#ffffe5" stroke="#ffffe5" stroke-width="1.2"/>
<polygon points="680.0,580.0 691.2,580.0 690.0,590.0 688.8,598.8 690.0,607.5 691.9,612.5 686.2,620.0 683.8,625.0 680.0,625.0" fill="#ffffe5" stroke="#ffffe5" stroke-width="1.2"/>
<polygon points="680.0,662.5 683.8,662.5 687.5,667.5 686.2,673.8 682.5,677.5 683.8,685.0 680.0,685.0" fill="#ffffe5" stroke="#ffffe5" stroke-width="1.2"/>
<polygon points="765.0,455.0 770.0,451.2 776.2,453.8 782.5,458.8 788.8,460.0 788.8,466.2 783.8,467.5 777.5,468.8 771.2,467.5 767.5,462.5" fill="#f68720" stroke="#f68720" stroke-width="1.2"/>
<polygon points="791.2,443.8 796.2,442.5 800.0,445.0 798.8,451.2 796.2,456.2 791.2,458.8 790.0,455.0 790.6,448.8" fill="#ffffe5" stroke="#ffffe5" stroke-width="1.2"/>
<polygon points="740.0,462.5 750.0,461.9 751.2,465.6 747.5,467.5 741.2,467.5" fill="#fff8c1" stroke="#fff8c1" stroke-width="1.2"/>
<polygon points="722.5,492.5 732.5,492.5 740.0,495.0 747.5,496.2 755.0,495.0 762.5,497.5 760.0,502.5 758.8,507.5 760.0,515.0 767.5,517.5 769.4,520.0 761.2,519.4 755.0,520.6 745.0,520.6 737.5,517.5 730.0,515.0 725.0,508.8 720.0,501.2" fill="#fece65" stroke="#fece65" stroke-width="1.2"/>
<polygon points="757.5,482.5 762.5,480.0 767.5,481.2 772.5,480.0 778.8,480.0 777.5,486.2 775.0,488.8 772.5,487.5 768.8,491.2 766.2,492.5 761.2,490.0 757.5,487.5" fill="#fece65" stroke="#fece65" stroke-width="1.2"/>
<polygon points="778.8,480.0 788.8,481.2 792.5,483.8 793.8,490.0 792.5,496.2 790.0,500.0 788.8,505.0 792.5,510.0 795.0,515.0 788.8,516.2 785.0,517.5 782.5,521.2 777.5,517.5 772.5,515.0 770.0,516.2 766.2,517.5 760.0,515.0 758.8,507.5 760.0,502.5 765.0,497.5 768.8,498.1 772.5,496.9 778.1,497.5 778.8,495.0 775.6,492.5 775.0,488.8 777.5,486.2" fill="#ffffe5" stroke="#ffffe5" stroke-width="1.2"/>
<polygon points="736.2,540.0 742.5,536.2 752.5,537.5 760.0,540.0 763.8,546.2 761.2,551.2 757.5,553.8 752.5,555.0 750.0,556.2 742.5,560.0 740.0,555.0 738.8,548.8" fill="#feac3a" stroke="#feac3a" stroke-width="1.2"/>
<polygon points="753.8,558.8 761.2,560.0 765.0,558.8 770.0,561.2 767.5,565.0 760.0,566.2 755.0,563.8" fill="#feac3a" stroke="#feac3a" stroke-width="1.2"/>
<polygon points="767.5,571.2 772.5,567.5 778.8,566.2 785.0,558.8 792.5,563.8 797.5,570.0 798.8,580.0 767.5,580.0" fill="#f68720" stroke="#f68720" stroke-width="1.2"/>
<polygon points="823.8,507.5 830.0,505.0 830.0,517.5 826.2,516.2" fill="#ffffe5" stroke="#ffffe5" stroke-width="1.2"/>
<polygon points="811.2,443.8 817.5,441.2 821.2,440.0 830.0,437.5 830.0,450.0 823.8,451.2 820.0,447.5 815.0,448.8" fill="#e1640e" stroke="#e1640e" stroke-width="1.2"/>
<polygon points="691.2,580.0 696.2,577.5 701.2,581.2 706.2,586.2 707.5,592.5 705.0,600.0 702.5,607.5 696.2,610.0 691.9,612.5 690.0,607.5 688.8,598.8 690.0,590.0" fill="#d9d9d9" stroke="#d9d9d9" stroke-width="1.2"/>
<polygon points="741.2,583.8 743.8,580.0 747.5,580.0 753.8,585.0 755.0,590.0 750.0,595.0 747.5,595.0 742.5,592.5" fill="#fff8c1" stroke="#fff8c1" stroke-width="1.2"/>
<polygon points="737.5,611.2 745.0,610.0 748.8,607.5 752.5,611.2 756.2,608.8 756.2,616.2 753.8,621.2 748.8,620.0 745.0,617.5 742.5,613.8" fill="#feac3a" stroke="#feac3a" stroke-width="1.2"/>
<polygon points="742.5,641.2 755.0,645.0 760.0,641.2 757.5,633.8 762.5,635.0 765.0,640.0 767.5,647.5 773.8,648.8 772.5,656.2 772.5,662.5 767.5,663.8 762.5,661.2 757.5,663.8 753.8,666.2 755.0,671.2 751.2,670.0 747.5,666.2 746.2,665.0 742.5,657.5 743.8,652.5 741.2,647.5" fill="#feac3a" stroke="#feac3a" stroke-width="1.2"/>
<polygon points="768.8,613.8 772.5,611.2 777.5,612.5 778.8,617.5 775.0,621.2 773.8,627.5 771.2,626.2 767.5,620.0" fill="#fece65" stroke="#fece65" stroke-width="1.2"/>
<polygon points="823.8,601.2 830.0,598.8 830.0,608.8 826.2,606.2" fill="#e1640e" stroke="#e1640e" stroke-width="1.2"/>
<polygon points="780.0,705.0 787.5,700.0 795.0,695.0 802.5,690.0 810.0,685.0 817.5,686.2 822.5,692.5 825.0,701.2 817.5,707.5 805.0,710.0 792.5,713.8 782.5,715.0 775.0,720.0 767.5,720.0 772.5,712.5" fill="#ffffe5" stroke="#ffffe5" stroke-width="1.2"/>
<polygon points="764.4,498.1 767.5,492.5 770.0,490.0 772.5,487.5 775.0,488.8 775.6,492.5 778.8,495.0 778.1,497.5 772.5,496.9 768.8,498.1" fill="#e1640e" stroke="#e1640e" stroke-width="1.2"/>
<polygon points="747.5,557.5 751.2,556.2 755.0,557.5 756.2,565.0 752.5,566.9 748.1,564.4" fill="#d9d9d9" stroke="#d9d9d9" stroke-width="1.2"/>
<polygon points="702.5,533.8 706.2,531.2 715.0,531.2 717.5,535.0 713.8,538.8 707.5,540.0 703.8,537.5" fill="#d9d9d9" stroke="#d9d9d9" stroke-width="1.2"/>
<polygon points="720.0,680.0 723.0,673.0 725.0,669.0 728.0,670.0 730.0,675.0 734.0,675.5 738.0,676.0 739.0,680.0 737.0,685.0 737.5,690.0 734.0,695.0 731.0,698.0 728.0,702.0 727.0,707.0 728.0,711.0 726.0,715.0 722.0,718.0 718.0,718.0 715.0,714.0 714.0,708.0 712.0,700.0 710.0,693.0 709.0,689.0 713.0,685.0 719.0,684.0" fill="#d9d9d9" stroke="#d9d9d9" stroke-width="1.2"/>
<polygon points="680.0,684.0 684.0,687.0 690.0,692.0 695.0,691.0 699.0,687.0 704.0,682.0 709.0,686.0 710.0,689.0 707.0,692.0 702.0,696.0 699.0,701.0 693.0,704.0 690.0,703.0 686.0,705.0 682.0,702.0 680.0,700.0" fill="#feac3a" stroke="#feac3a" stroke-width="1.2"/>
<polygon points="680.0,660.0 698.0,660.0 695.0,670.0 703.0,681.0 699.0,687.0 695.0,691.0 690.0,692.0 684.0,687.0 682.0,678.0 686.0,674.0 684.0,666.0 680.0,665.0" fill="#d9d9d9" stroke="#d9d9d9" stroke-width="1.2"/>
<polygon points="680.0,665.0 684.0,666.0 686.0,674.0 682.0,678.0 684.0,687.0 680.0,684.0" fill="#ffffe5" stroke="#ffffe5" stroke-width="1.2"/>
<polygon points="698.0,660.0 726.0,660.0 720.0,668.0 721.0,671.0 723.0,673.0 720.0,680.0 719.0,684.0 713.0,685.0 709.0,689.0 704.0,682.0 703.0,681.0 695.0,670.0" fill="#ffffe5" stroke="#ffffe5" stroke-width="1.2"/>
<polygon points="680.0,700.0 682.0,702.0 686.0,705.0 688.0,706.0 691.0,710.0 697.0,716.0 698.5,722.0 695.0,726.0 694.0,730.0 696.0,738.0 695.0,741.0 686.0,743.0 680.0,740.0" fill="#d9d9d9" stroke="#d9d9d9" stroke-width="1.2"/>
<polygon points="698.0,716.0 700.0,713.0 704.0,711.0 709.0,709.0 712.0,712.0 715.0,714.0 718.0,718.0 717.0,720.0 714.5,724.0 714.0,728.0 710.0,729.0 708.0,733.0 703.0,735.0 699.0,739.0 696.0,738.0 694.0,730.0 695.0,726.0 698.5,722.0 697.0,716.0" fill="#fff8c1" stroke="#fff8c1" stroke-width="1.2"/>
<polygon points="688.0,706.0 690.0,703.0 693.0,704.0 699.0,701.0 702.0,696.0 707.0,692.0 710.0,689.0 710.0,693.0 712.0,700.0 714.0,708.0 715.0,714.0 712.0,712.0 709.0,709.0 704.0,711.0 700.0,713.0 698.0,716.0 697.0,716.0 691.0,710.0" fill="#ffffe5" stroke="#ffffe5" stroke-width="1.2"/>
<polygon points="726.0,660.0 745.0,660.0 744.0,664.0 741.0,668.0 740.0,673.0 738.0,676.0 734.0,675.5 730.0,675.0 728.0,670.0 725.0,669.0 721.0,671.0 720.0,668.0" fill="#fff8c1" stroke="#fff8c1" stroke-width="1.2"/>
<polygon points="745.0,660.0 773.0,660.0 770.0,663.0 766.0,662.0 762.0,661.0 757.0,664.0 756.0,669.0 754.0,673.0 752.0,669.0 749.0,668.0 745.0,667.0 744.0,664.0" fill="#feac3a" stroke="#feac3a" stroke-width="1.2"/>
<polygon points="740.0,673.0 741.0,668.0 744.0,664.0 745.0,667.0 749.0,668.0 752.0,669.0 754.0,673.0 755.0,677.0 759.0,681.0 765.0,681.0 770.0,683.0 772.0,687.0 769.0,692.0 765.0,696.0 760.0,699.0 756.0,702.0 758.0,707.0 761.0,712.0 765.0,717.0 768.0,721.0 767.0,725.0 764.0,728.0 762.0,726.0 759.0,724.0 757.0,729.0 757.0,732.0 753.0,734.0 749.0,737.0 745.0,737.0 743.0,733.0 740.0,730.0 738.0,727.0 742.0,722.0 745.0,719.0 748.0,716.0 752.0,712.0 754.0,707.0 753.0,702.0 752.0,698.0 750.0,693.0 748.0,688.0 745.0,685.0 742.0,683.0 739.0,680.0 738.0,676.0" fill="#fece65" stroke="#fece65" stroke-width="1.2"/>
<polygon points="739.0,680.0 742.0,683.0 745.0,685.0 748.0,688.0 750.0,693.0 752.0,698.0 753.0,702.0 754.0,707.0 752.0,712.0 748.0,716.0 745.0,713.0 744.0,710.0 740.0,709.0 736.0,709.0 732.0,707.0 728.0,707.0 727.0,707.0 728.0,702.0 731.0,698.0 734.0,695.0 737.5,690.0 737.0,685.0" fill="#fee79b" stroke="#fee79b" stroke-width="1.2"/>
<polygon points="727.0,707.0 732.0,707.0 736.0,709.0 740.0,709.0 744.0,710.0 745.0,713.0 748.0,716.0 745.0,719.0 742.0,722.0 738.0,727.0 735.0,720.0 730.0,719.0 726.0,720.0 722.0,718.0 726.0,715.0 728.0,711.0" fill="#fff8c1" stroke="#fff8c1" stroke-width="1.2"/>
<polygon points="699.5,744.0 697.0,742.0 699.0,739.0 703.0,735.0 708.0,733.0 710.0,729.0 714.0,728.0 714.5,724.0 717.0,720.0 722.0,718.0 726.0,720.0 730.0,719.0 735.0,720.0 738.0,727.0 740.0,730.0 743.0,733.0 745.0,737.0 740.0,740.0 710.0,752.0 700.0,770.0 695.0,750.0" fill="#ffffe5" stroke="#ffffe5" stroke-width="1.2"/>
<polygon points="754.0,673.0 756.0,669.0 757.0,664.0 762.0,661.0 766.0,662.0 770.0,663.0 773.0,660.0 784.0,662.0 787.0,666.0 783.0,671.0 780.0,675.0 778.0,678.0 781.0,681.0 778.0,683.0 774.0,686.0 772.0,687.0 770.0,683.0 765.0,681.0 759.0,681.0 755.0,677.0" fill="#fff8c1" stroke="#fff8c1" stroke-width="1.2"/>
<polygon points="773.0,660.0 800.0,660.0 800.0,675.0 790.0,678.0 781.0,681.0 778.0,678.0 780.0,675.0 783.0,671.0 787.0,666.0 784.0,662.0" fill="#fee79b" stroke="#fee79b" stroke-width="1.2"/>
<polygon points="772.0,687.0 774.0,686.0 778.0,683.0 781.0,681.0 790.0,678.0 800.0,675.0 800.0,716.0 795.0,715.0 790.0,719.0 786.0,717.0 783.0,719.0 779.0,718.0 774.0,717.0 770.0,717.0 768.0,721.0 765.0,717.0 761.0,712.0 758.0,707.0 756.0,702.0 760.0,699.0 765.0,696.0 769.0,692.0" fill="#ffffe5" stroke="#ffffe5" stroke-width="1.2"/>
<polygon points="756.0,702.0 760.0,699.0 765.0,696.0 769.0,692.0 772.0,687.0 774.0,694.0 773.0,700.0 768.0,704.0 765.0,709.0 765.0,713.0 761.0,712.0 758.0,707.0" fill="#fee79b" stroke="#fee79b" stroke-width="1.2"/>
<polygon points="770.0,717.0 774.0,717.0 779.0,718.0 783.0,719.0 781.0,724.0 776.0,728.0 773.0,726.0 770.0,722.0" fill="#fee79b" stroke="#fee79b" stroke-width="1.2"/>
<polygon points="758.0,725.0 760.0,724.0 763.0,727.0 765.0,730.0 761.0,733.0 758.0,731.0" fill="#d9d9d9" stroke="#d9d9d9" stroke-width="1.2"/>
</g>
<polygon points="690.0,775.0 702.5,771.2 715.0,770.0 721.2,773.8 720.0,782.5 713.8,790.0 710.0,800.0 700.0,807.5 695.0,811.2 687.5,808.8 677.5,805.0 677.0,795.0 678.8,786.2 683.8,780.0" fill="#d9d9d9" stroke="#50565c" stroke-width="1.0"/>
<polygon points="910.0,664.5 915.0,667.5 918.0,671.2 915.0,680.0 912.5,692.5 910.0,702.5 906.2,713.8 900.0,722.5 897.5,733.8 893.8,732.5 892.5,725.0 887.5,721.2 883.8,710.0 883.0,698.8 887.5,690.0 892.5,682.5 897.5,673.8 902.5,668.8" fill="#fff8c1" stroke="#50565c" stroke-width="1.0"/>
<polygon points="771.2,1026.2 776.2,1021.2 782.5,1018.8 785.0,1020.0 781.2,1025.0 776.2,1028.0" fill="#d9d9d9" stroke="#50565c" stroke-width="1.0"/>
<polygon points="915.0,566.7 918.3,565.0 923.3,565.8 926.7,569.2 925.8,572.5 922.5,575.8 919.2,575.0 916.7,571.7" fill="#777" stroke="#50565c" stroke-width="1.0"/>
<polyline points="386.2,383.8 365.0,388.8 345.0,396.2 352.5,400.0 352.5,410.0 362.5,415.0 366.2,423.8 357.5,430.0 357.5,435.0 363.8,445.0 360.0,447.5 345.0,440.0 340.0,442.5" fill="none" stroke="#50565c" stroke-width="1.0"/>
<polyline points="913.8,91.2 912.5,97.5 905.0,106.2 912.5,112.5 920.0,108.8 930.0,115.0 931.2,123.8 936.2,132.5 947.5,132.5 960.0,133.8 972.5,126.2 981.2,130.0 990.0,140.0 985.0,146.2 980.0,155.0 975.0,162.5 976.2,173.8 968.8,180.0 965.0,187.5 963.8,198.8 961.2,198.8 960.0,191.2 926.2,212.5 932.5,220.0 935.0,226.2 947.5,222.5 946.2,227.5 936.2,230.0 935.0,233.8 942.5,236.2 951.2,235.0 953.8,246.2 960.0,252.5" fill="none" stroke="#50565c" stroke-width="1.0"/>
<polyline points="960.0,252.5 970.0,252.5 982.5,252.5 990.0,257.5 1000.0,257.5 1007.5,262.5 1010.0,268.8 1017.5,272.5 1022.5,280.0 1030.0,273.8 1035.0,280.0 1040.0,291.2 1047.5,291.2 1050.0,286.2 1067.5,282.5 1070.0,290.0 1082.5,293.8" fill="none" stroke="#50565c" stroke-width="1.0"/>
<polyline points="953.8,246.2 942.5,260.0 938.8,272.5 942.5,280.0 945.0,287.5 942.5,293.8 950.0,295.0 957.5,297.5 963.8,305.0 970.0,301.2 971.2,310.0 976.2,317.5 980.0,322.5 978.8,330.0 982.5,337.5 985.0,346.2" fill="none" stroke="#50565c" stroke-width="1.0"/>
<polyline points="950.0,236.2 935.0,240.0 927.5,246.2 922.5,245.0 912.5,246.2 920.0,252.5 920.0,267.5 923.8,277.5 938.8,272.5" fill="none" stroke="#50565c" stroke-width="1.0"/>
<polyline points="145.0,479.5 160.0,477.5 162.5,470.0 170.0,458.8 180.0,460.0 192.5,461.2 202.5,455.0 212.5,452.5 218.8,457.5 230.0,459.5 240.0,458.8 250.0,452.5 260.0,450.0 265.0,452.5 275.0,443.8 290.0,440.0 315.0,436.2 330.0,441.2 340.0,443.8" fill="none" stroke="#50565c" stroke-width="1.0"/>
<polyline points="340.0,490.0 347.5,500.0 360.0,505.0 377.5,508.8 390.0,513.8 410.0,517.5 425.0,515.0 435.0,520.0 440.0,525.0 442.5,531.2 450.0,532.5 455.0,530.0 457.5,535.0 462.5,531.2 465.0,527.5 473.8,525.0 475.0,517.5 483.8,517.5 490.0,520.0 496.2,530.0 500.0,540.0 497.5,543.8 502.5,550.0 505.0,565.0 506.2,585.0 503.8,590.0 500.0,590.0 498.8,598.8 496.2,605.0 492.5,606.2 490.0,606.2" fill="none" stroke="#50565c" stroke-width="1.0"/>
<polyline points="475.0,517.5 476.2,507.5 480.0,500.0 476.2,492.5 480.0,486.2 485.0,483.8 493.8,486.2 496.2,492.5 502.5,502.5 507.5,507.5 515.0,511.2 520.0,507.5 525.0,512.5 532.5,515.0 535.0,516.2 540.0,514.5" fill="none" stroke="#50565c" stroke-width="1.0"/>
<polyline points="688.8,850.0 695.0,857.5 698.8,865.0 700.0,872.5" fill="none" stroke="#50565c" stroke-width="0.8"/>
<polyline points="707.5,931.2 707.5,940.0" fill="none" stroke="#50565c" stroke-width="0.8"/>
<polyline points="931.8,679.5 927.0,702.5" fill="none" stroke="#50565c" stroke-width="1.2"/>
<polyline points="916.2,738.0 902.5,756.2" fill="none" stroke="#50565c" stroke-width="0.8"/>
<polyline points="882.5,792.5 872.0,814.5" fill="none" stroke="#50565c" stroke-width="0.8"/>
<polyline points="864.5,852.5 864.5,860.0" fill="none" stroke="#50565c" stroke-width="0.8"/>
<polyline points="590.0,625.8 593.3,621.7 598.3,623.3 601.7,620.8 606.7,623.3 613.3,622.5 617.5,618.3 616.7,613.3 618.3,610.0 626.7,615.0 635.0,613.3 636.7,609.2 633.3,606.7 628.3,605.8 624.2,603.3 625.0,598.3 630.0,595.8 636.7,598.3 641.7,595.8 646.7,591.7 655.0,590.0 656.7,585.8 663.3,587.5 670.0,590.0 673.3,596.7 680.0,601.7 685.0,605.0 688.3,610.0 691.7,616.7 686.7,621.7 682.5,627.5 690.0,628.3 693.3,633.3 690.8,640.0 692.5,646.7 696.7,650.0 690.0,653.3 683.3,655.8 678.3,660.8 671.7,661.7 666.7,666.7 661.7,666.7 656.7,662.5 653.3,659.2 649.2,661.7 648.3,666.7 643.3,668.3 638.3,670.8 633.3,675.0 630.0,677.5 623.3,673.3 616.7,671.7 613.3,675.0 608.3,676.7 605.0,678.3 604.2,673.3 608.3,668.3 605.8,663.3 602.5,656.7 603.3,650.0 605.8,643.3 603.3,638.3 596.7,637.5 591.7,636.7 590.0,631.7 590.0,625.8" fill="none" stroke="#50565c" stroke-width="1.0"/>
<polyline points="618.3,579.2 621.7,575.0 625.0,570.0 623.3,565.0 626.7,560.8 636.7,561.7 643.3,565.8 650.0,566.7 656.7,560.0 661.7,553.3 666.7,546.7 671.7,539.2 675.8,533.3 673.3,524.2 681.7,528.3 690.0,533.3 696.7,535.0 705.0,538.3 705.8,545.0 710.0,546.7 706.7,553.3 696.7,551.7 690.0,555.0 685.0,558.3 678.3,558.3 675.0,561.7 676.7,568.3 681.7,575.8 685.0,580.0 688.3,585.0 687.5,593.3 685.0,601.7 685.0,605.0 681.7,602.5 678.3,598.3 676.7,591.7 673.3,586.7 670.0,590.0 663.3,587.5 656.7,585.8 655.0,590.0 646.7,591.7 641.7,595.8 636.7,598.3 633.3,595.8 630.0,593.3 626.7,588.3 621.7,585.0 618.3,579.2" fill="none" stroke="#50565c" stroke-width="1.0"/>
<polyline points="608.3,676.7 613.3,675.0 616.7,671.7 623.3,673.3 630.0,677.5 633.3,675.0 638.3,670.8 643.3,668.3 648.3,666.7 649.2,661.7 653.3,659.2 656.7,662.5 661.7,666.7 666.7,666.7 671.7,661.7 678.3,660.8 683.3,655.8 690.0,653.3 696.7,650.0 700.0,646.7 706.7,648.3 713.3,644.2 720.0,642.5 725.0,645.0 725.0,651.7 728.3,653.3 725.0,660.0 720.0,666.7 720.8,671.7 725.0,668.3 730.0,670.0 736.7,675.0" fill="none" stroke="#50565c" stroke-width="1.0"/>
<polyline points="698.3,743.3 695.0,742.5 686.7,743.3 678.3,741.7 670.0,740.8 661.7,740.0 655.0,739.2 650.0,735.0 645.0,731.7 641.7,726.7 642.5,721.7 645.0,716.7 640.0,713.3 633.3,711.7 625.0,710.0 621.7,706.7 618.3,705.0 623.3,701.7 630.8,698.3 633.3,695.0 631.7,690.0 625.0,688.3 620.0,686.7 616.7,680.0 608.3,676.7" fill="none" stroke="#50565c" stroke-width="1.0"/>
<polyline points="540.0,385.0 545.0,388.3 552.5,392.5 556.7,385.0 555.8,382.5 565.0,380.8 578.3,380.0 583.3,377.5 595.0,375.8 598.3,381.7 595.0,386.7 590.0,393.3 585.0,400.0 583.3,406.7 590.0,411.7 596.7,415.0 603.3,416.7" fill="none" stroke="#50565c" stroke-width="1.1"/>
<polyline points="603.3,416.7 613.3,415.0 623.3,410.8 626.7,406.7 628.3,400.0 627.5,392.5 630.0,386.7 635.0,380.0 643.3,377.5 646.7,381.7 648.3,383.3 643.3,390.0 640.0,398.3 646.7,403.3 655.0,406.7 659.2,409.2 655.0,415.0 653.3,420.0 654.2,423.3 643.3,424.2 640.0,430.0 638.3,433.3 640.0,438.3 646.7,441.7 646.7,447.5 640.0,451.7 638.3,456.7 635.0,460.8 630.0,456.7 625.0,453.3 620.0,448.3 619.2,445.0 621.7,441.7 618.3,438.3 618.3,433.3 616.7,428.3 610.0,423.3 605.8,419.2 603.3,416.7" fill="none" stroke="#50565c" stroke-width="1.1"/>
<polyline points="659.2,409.2 663.3,408.3 668.3,412.5 678.3,411.7 680.0,407.5 683.3,405.0 685.0,398.3 690.0,393.3 700.0,385.0 705.0,380.0 713.3,378.3 720.0,373.3 725.0,376.7 720.0,385.0 718.3,393.3 711.7,400.0 715.0,408.3 716.7,415.0 713.3,421.7 710.0,428.3 711.7,436.7 711.7,446.7 706.7,455.0 708.3,465.0 706.7,473.3 708.3,475.0" fill="none" stroke="#50565c" stroke-width="1.1"/>
<polyline points="654.2,423.3 660.0,425.0 666.7,431.7 673.3,433.3 678.3,438.3 679.2,446.7 678.3,453.3 678.3,460.0 670.0,460.0 661.7,461.7 660.0,466.7 653.3,468.3 646.7,466.7 640.0,465.0 637.5,475.0 641.7,480.0 638.3,486.7 640.0,495.0 630.0,496.7 626.7,500.0" fill="none" stroke="#50565c" stroke-width="1.1"/>
<polyline points="725.0,376.7 730.0,371.7 740.0,368.3" fill="none" stroke="#50565c" stroke-width="1.1"/>
<polyline points="708.3,475.0 716.7,473.3 726.7,471.7 740.0,465.0" fill="none" stroke="#50565c" stroke-width="1.1"/>
<polyline points="708.3,475.0 713.3,483.3 720.0,495.0 723.3,500.0" fill="none" stroke="#50565c" stroke-width="1.1"/>
<polyline points="540.0,406.7 546.7,408.3 556.7,411.7 561.7,416.7 568.3,423.3 571.7,431.7 576.7,440.0 573.3,446.7 571.7,453.3 566.7,456.7 565.8,460.0 561.7,465.0 563.3,471.7 558.3,475.0 561.7,481.7 556.7,485.0 561.7,488.3 573.3,481.7 578.3,486.7 580.0,491.7 590.0,494.2 596.7,500.0" fill="none" stroke="#50565c" stroke-width="1.1"/>
<polyline points="770.0,440.0 765.0,431.7 773.3,420.0 775.8,413.3 771.7,406.7 766.7,396.7 771.7,388.3 773.3,383.3 783.3,373.3 781.7,366.7 775.0,363.3 778.3,356.7 773.3,350.0 772.5,340.0 773.3,335.0 780.0,326.7 790.0,321.7 791.7,330.0 803.3,327.5 810.0,325.0 820.0,321.7 826.7,320.0 828.3,315.0 836.7,311.7 843.3,312.5 848.3,318.3 851.7,325.0 848.3,330.0 853.3,336.7 860.0,337.5 866.7,336.7 863.3,345.0 870.0,353.3 876.7,358.3 880.0,363.3" fill="none" stroke="#50565c" stroke-width="1.1"/>
<polyline points="866.7,336.7 870.0,328.3 868.3,320.0 873.3,315.8 878.3,320.0 883.3,330.0 890.0,323.3 898.3,318.3 906.7,315.0 916.7,310.0 928.3,306.7 940.0,302.5" fill="none" stroke="#50565c" stroke-width="1.1"/>
<polyline points="740.0,362.5 748.3,358.3 756.7,356.7 766.7,355.0 773.3,350.0" fill="none" stroke="#50565c" stroke-width="1.1"/>
<polyline points="805.8,354.2 813.3,348.3 820.0,343.3 825.0,347.5 830.8,350.0 835.0,351.7 832.5,356.7 833.3,360.8 828.3,363.3 823.3,365.8 825.0,371.7 818.3,373.3 813.3,375.0 806.7,373.3 800.8,368.3 802.5,363.3 808.3,360.8 805.8,354.2" fill="none" stroke="#50565c" stroke-width="1.1"/>
<polyline points="833.3,360.8 838.3,360.0 841.7,365.0 839.2,368.3 843.3,371.7 844.2,378.3 846.7,381.7 840.0,390.0 835.0,393.3 828.3,392.5 823.3,390.0 825.0,383.3 824.2,375.0 825.0,371.7" fill="none" stroke="#50565c" stroke-width="1.1"/>
<polyline points="846.7,396.7 840.0,401.7 833.3,406.7 823.3,408.3 816.7,415.0 810.0,421.7 805.0,428.3 800.0,435.0 797.5,441.7 800.0,445.0 796.7,446.7 790.0,445.0 780.0,442.5 770.0,440.0" fill="none" stroke="#50565c" stroke-width="1.1"/>
<polyline points="800.0,445.0 799.2,450.0 795.0,456.7 790.0,462.5 789.2,465.8 795.0,468.3 800.0,475.0 806.7,475.8 813.3,478.3" fill="none" stroke="#50565c" stroke-width="1.1"/>
<polyline points="813.3,478.3 815.0,485.0 821.7,488.3 818.3,491.7 811.7,490.0 805.0,486.7 801.7,491.7 798.3,500.0" fill="none" stroke="#50565c" stroke-width="1.1"/>
<polyline points="813.3,478.3 817.5,471.7 821.7,468.3 826.7,470.8 830.0,476.7 835.0,475.0 840.0,478.3 846.7,475.0 850.0,480.0 855.0,475.0 860.0,473.3 863.3,466.7 868.3,465.0" fill="none" stroke="#50565c" stroke-width="1.1"/>
<polyline points="817.5,471.7 818.3,476.7 823.3,480.0 826.7,480.8" fill="none" stroke="#50565c" stroke-width="1.1"/>
<polyline points="798.3,500.0 790.8,505.0 795.0,513.3 801.7,518.3 808.3,517.5 807.5,531.7 799.2,537.5 803.3,543.3 811.7,548.3 806.7,555.0 809.2,563.3 811.7,570.8" fill="none" stroke="#50565c" stroke-width="1.1"/>
<polyline points="740.0,520.0 756.7,519.2 770.0,520.0 769.2,525.0 773.3,530.0 783.3,535.0 795.0,537.5 799.2,537.5" fill="none" stroke="#50565c" stroke-width="1.1"/>
<polyline points="811.7,570.8 820.0,571.7 823.3,568.3 825.8,570.8 821.7,575.8" fill="none" stroke="#50565c" stroke-width="1.1"/>
<polyline points="821.7,575.8 830.8,570.8 840.0,578.3 848.3,580.8" fill="none" stroke="#50565c" stroke-width="1.1"/>
<polyline points="826.7,480.0 831.7,485.0 840.0,488.3 843.3,493.3 848.3,496.7 850.0,505.0 855.0,511.7 860.0,513.3 863.3,508.3 866.7,511.7 865.0,516.7 856.7,518.3 858.3,523.3 853.3,528.3 856.7,533.3 863.3,538.3 861.7,542.5 871.7,544.2 875.0,545.8" fill="none" stroke="#50565c" stroke-width="1.1"/>
<polyline points="875.0,545.8 870.0,553.3 868.3,560.0 861.7,565.0 860.0,571.7 853.3,578.3 848.3,580.8" fill="none" stroke="#50565c" stroke-width="1.1"/>
<polyline points="875.0,545.8 881.7,546.7 890.0,553.3 898.3,548.3 903.3,541.7 905.0,535.0 911.7,538.3 916.7,536.7" fill="none" stroke="#50565c" stroke-width="1.1"/>
<polyline points="898.3,548.3 904.2,553.3 906.7,556.7 915.0,553.3" fill="none" stroke="#50565c" stroke-width="1.1"/>
<polyline points="848.3,580.8 846.7,586.7 851.7,591.7 855.0,600.0 855.0,604.2" fill="none" stroke="#50565c" stroke-width="1.1"/>
<polyline points="855.0,604.2 846.7,610.0 840.0,611.7 833.3,609.2 830.0,616.7 831.7,623.3 820.0,633.3 818.3,643.3 820.0,648.3 813.3,653.3 808.3,663.3 807.5,671.7 805.8,680.0" fill="none" stroke="#50565c" stroke-width="1.1"/>
<polyline points="855.0,604.2 860.0,606.7 861.7,616.7 866.7,620.0 873.3,618.3 876.7,621.7 878.3,625.0 885.0,621.7 888.3,625.0 891.7,623.3" fill="none" stroke="#50565c" stroke-width="1.1"/>
<polyline points="821.7,575.8 813.3,575.0 800.0,575.0 790.0,579.2 774.2,588.3" fill="none" stroke="#50565c" stroke-width="1.1"/>
<polyline points="774.2,588.3 776.7,596.7 777.5,603.3 771.7,611.7 767.5,620.0 770.0,626.7 773.3,631.7 771.7,640.0 775.8,646.7 774.2,653.3 773.3,663.3 768.3,664.2" fill="none" stroke="#50565c" stroke-width="1.1"/>
<polyline points="740.0,575.0 748.3,575.8 755.8,575.0 756.7,578.3 765.0,575.0 767.5,573.3 769.2,580.0 770.8,586.7 774.2,588.3" fill="none" stroke="#50565c" stroke-width="1.1"/>
<polyline points="753.3,670.0 755.8,664.2 761.7,661.7 768.3,664.2 773.3,663.3 783.3,662.5 787.5,665.0 785.0,670.0 780.0,675.0 779.2,680.0" fill="none" stroke="#50565c" stroke-width="1.1"/>
<polyline points="807.5,671.7 816.7,674.2 820.0,680.0" fill="none" stroke="#50565c" stroke-width="1.1"/>
<polyline points="540.0,514.2 543.3,504.2 552.5,501.7 555.8,495.8 562.5,499.2 565.0,489.2 575.8,481.7 580.0,487.5 590.0,490.0 599.2,500.0 600.8,510.0 610.0,515.0 620.0,512.5 622.5,510.0" fill="none" stroke="#50565c" stroke-width="1.1"/>
<polyline points="622.5,510.0 630.0,508.3 626.7,500.0 630.0,496.7 638.3,495.8 640.0,488.3 638.3,480.0" fill="none" stroke="#50565c" stroke-width="1.1"/>
<polyline points="622.5,510.0 631.7,511.7 640.0,513.3 650.0,515.0 656.7,520.0 666.7,522.5 673.3,524.2 681.7,528.3 690.0,533.3 696.7,535.0 705.0,538.3" fill="none" stroke="#50565c" stroke-width="1.1"/>
<polyline points="705.0,538.3 703.3,530.0 696.7,528.3 695.0,518.3 700.0,511.7 705.0,510.0 701.7,505.0 706.7,503.3 716.7,505.0 723.3,506.7 730.0,515.0 740.0,518.3" fill="none" stroke="#50565c" stroke-width="1.1"/>
<polyline points="723.3,506.7 720.0,496.7 713.3,486.7 710.0,480.0" fill="none" stroke="#50565c" stroke-width="1.1"/>
<polyline points="540.0,623.3 545.0,630.0 550.0,640.0 555.8,648.3 562.5,645.0 570.0,644.2 575.8,641.7 577.5,636.7 575.0,626.7 575.8,621.7 583.3,615.0 585.8,608.3 591.7,601.7 596.7,597.5 600.0,598.3 601.7,601.7 602.5,608.3 606.7,611.7 611.7,608.3 616.7,608.3 616.7,613.3 617.5,618.3 613.3,622.5 606.7,623.3 601.7,620.8 598.3,623.3 593.3,621.7 590.0,625.8" fill="none" stroke="#50565c" stroke-width="1.1"/>
<polyline points="693.3,578.3 698.3,575.0 705.0,573.3 710.0,570.0 711.7,566.7 720.0,567.5 728.3,570.0 740.0,572.5" fill="none" stroke="#50565c" stroke-width="1.1"/>
<polyline points="779.2,680.0 788.3,680.0 796.7,677.5 805.0,675.8 806.7,680.0" fill="none" stroke="#50565c" stroke-width="1.1"/>
<polyline points="820.0,680.0 823.3,679.2 826.7,686.7 827.5,693.3 830.8,699.2 835.8,700.0" fill="none" stroke="#50565c" stroke-width="1.1"/>
<polyline points="755.8,670.0 750.0,668.3 743.3,669.2 740.0,670.8" fill="none" stroke="#50565c" stroke-width="1.1"/>
<polyline points="490.0,606.3 495.8,605.0 498.3,600.0 498.7,590.8 503.7,590.0 505.8,581.7" fill="none" stroke="#50565c" stroke-width="1.1"/>
<polyline points="505.8,581.7 508.3,593.3 511.7,605.0 516.7,593.3 523.3,600.0 526.7,606.7 525.0,610.0 535.0,611.7 540.0,621.7" fill="none" stroke="#50565c" stroke-width="1.1"/>
<polyline points="386.2,383.8 400.0,382.5 401.2,386.2 410.0,387.5 412.5,390.0 422.5,390.0 425.0,397.5 440.0,398.8 450.0,397.5 455.0,401.2 462.5,396.2 468.8,393.8 468.8,382.5 475.0,380.0 483.8,383.8 490.0,387.5 500.0,382.5 510.0,386.2 515.0,392.5 522.5,396.2 525.0,401.2 535.0,400.0 540.0,406.2" fill="none" stroke="#50565c" stroke-width="1.1"/>
<polyline points="457.5,307.5 451.2,312.5 453.8,320.0 450.0,325.0 440.0,332.5 435.0,328.8 425.0,335.0 412.5,345.0 410.0,352.5 396.2,352.5 392.5,370.0 385.0,380.0 386.2,383.8" fill="none" stroke="#50565c" stroke-width="1.1"/>
<polyline points="472.5,307.5 476.2,315.0 483.8,331.2 478.8,335.0 492.5,346.2 493.8,352.5 500.0,348.8 515.0,346.2 525.0,346.2 527.5,352.5 523.8,358.8 515.0,366.2 520.0,370.0 530.0,375.0 537.5,377.5 538.8,383.8" fill="none" stroke="#50565c" stroke-width="1.1"/>
<polyline points="340.0,443.0 335.0,450.0 334.0,462.0 336.0,476.0 340.0,490.0" fill="none" stroke="#50565c" stroke-width="1.1"/>
<polyline points="720.0,668.0 721.0,671.0 725.0,669.0 728.0,670.0 730.0,675.0 734.0,675.5 738.0,676.0 739.0,680.0 737.0,685.0 737.5,690.0 734.0,695.0 731.0,698.0 728.0,702.0 727.0,707.0 728.0,711.0 726.0,715.0 722.0,718.0 717.0,720.0 714.5,724.0 714.0,728.0 710.0,729.0 708.0,733.0 703.0,735.0 699.0,739.0 697.0,742.0 699.5,744.0" fill="none" stroke="#50565c" stroke-width="1.1"/>
<polyline points="865.0,853.0 865.0,875.5" fill="none" stroke="#555" stroke-width="1.2"/>
<polyline points="863.2,936.2 860.0,950.0 855.5,959.5" fill="none" stroke="#555" stroke-width="0.8"/>
<polyline points="814.5,1018.2 801.2,1035.5" fill="none" stroke="#555" stroke-width="0.8"/>
<polyline points="708.0,931.2 707.0,942.5 703.0,952.5" fill="none" stroke="#555" stroke-width="1.0"/>
<polyline points="670.0,1037.5 669.5,1047.5 671.8,1059.5" fill="none" stroke="#555" stroke-width="1.0"/>
<polyline points="748.0,1060.0 749.0,1067.5 750.0,1072.5" fill="none" stroke="#555" stroke-width="1.0"/>
<polyline points="749.5,1077.5 755.0,1078.8" fill="none" stroke="#555" stroke-width="0.8"/>
<polyline points="728.0,832.2 729.5,832.8" fill="none" stroke="#555" stroke-width="1.1"/>
<polyline points="742.2,835.2 743.8,835.8" fill="none" stroke="#555" stroke-width="1.1"/>
<polyline points="743.0,838.5 744.5,839.0" fill="none" stroke="#555" stroke-width="1.1"/>
<polyline points="729.8,844.8 731.2,845.2" fill="none" stroke="#555" stroke-width="1.1"/>
<polyline points="733.0,843.5 734.5,844.0" fill="none" stroke="#555" stroke-width="1.1"/>
<polyline points="738.0,847.2 739.5,847.8" fill="none" stroke="#555" stroke-width="1.1"/>
<polyline points="746.8,845.2 748.2,845.8" fill="none" stroke="#555" stroke-width="1.1"/>
<polyline points="749.2,847.2 750.8,847.8" fill="none" stroke="#555" stroke-width="1.1"/>
<polyline points="730.5,850.2 732.0,850.8" fill="none" stroke="#555" stroke-width="1.1"/>
<polyline points="733.8,853.5 735.2,854.0" fill="none" stroke="#555" stroke-width="1.1"/>
<polyline points="746.8,853.5 748.2,854.0" fill="none" stroke="#555" stroke-width="1.1"/>
<polyline points="741.2,860.2 742.8,860.8" fill="none" stroke="#555" stroke-width="1.1"/>
<polyline points="775.5,854.2 777.0,854.8" fill="none" stroke="#555" stroke-width="1.1"/>
<polyline points="779.2,853.5 780.8,854.0" fill="none" stroke="#555" stroke-width="1.1"/>
<polyline points="783.0,852.8 784.5,853.2" fill="none" stroke="#555" stroke-width="1.1"/>
<polyline points="787.2,850.5 788.8,851.0" fill="none" stroke="#555" stroke-width="1.1"/>
<polyline points="789.2,853.5 790.8,854.0" fill="none" stroke="#555" stroke-width="1.1"/>
<polyline points="783.0,862.2 784.5,862.8" fill="none" stroke="#555" stroke-width="1.1"/>
<polyline points="771.2,864.8 772.8,865.2" fill="none" stroke="#555" stroke-width="1.1"/>
<polyline points="773.0,857.8 774.5,858.2" fill="none" stroke="#555" stroke-width="1.1"/>
<polyline points="822.2,847.2 823.8,847.8" fill="none" stroke="#555" stroke-width="1.1"/>
<polyline points="840.8,871.8 842.2,872.2" fill="none" stroke="#555" stroke-width="1.1"/>
<polyline points="798.8,896.0 800.2,896.5" fill="none" stroke="#555" stroke-width="1.1"/>
<polyline points="755.5,782.8 757.0,783.2" fill="none" stroke="#555" stroke-width="1.1"/>
<polyline points="770.8,789.2 772.2,789.8" fill="none" stroke="#555" stroke-width="1.1"/>
<polyline points="785.5,946.8 787.0,947.2" fill="none" stroke="#555" stroke-width="1.1"/>
<polyline points="823.0,946.8 824.5,947.2" fill="none" stroke="#555" stroke-width="1.1"/>
<polyline points="787.2,954.8 788.8,955.2" fill="none" stroke="#555" stroke-width="1.1"/>
<polyline points="790.5,956.0 792.0,956.5" fill="none" stroke="#555" stroke-width="1.1"/>
<polyline points="783.8,959.2 785.2,959.8" fill="none" stroke="#555" stroke-width="1.1"/>
<polyline points="775.5,958.5 777.0,959.0" fill="none" stroke="#555" stroke-width="1.1"/>
<polyline points="832.2,956.0 833.8,956.5" fill="none" stroke="#555" stroke-width="1.1"/>
<polyline points="838.8,956.0 840.2,956.5" fill="none" stroke="#555" stroke-width="1.1"/>
<polyline points="841.8,961.0 843.2,961.5" fill="none" stroke="#555" stroke-width="1.1"/>
<polyline points="831.8,962.8 833.2,963.2" fill="none" stroke="#555" stroke-width="1.1"/>
<polyline points="805.5,966.8 807.0,967.2" fill="none" stroke="#555" stroke-width="1.1"/>
<polyline points="819.2,969.8 820.8,970.2" fill="none" stroke="#555" stroke-width="1.1"/>
<polyline points="823.0,966.8 824.5,967.2" fill="none" stroke="#555" stroke-width="1.1"/>
<polyline points="818.0,971.0 819.5,971.5" fill="none" stroke="#555" stroke-width="1.1"/>
<polyline points="766.2,972.2 767.8,972.8" fill="none" stroke="#555" stroke-width="1.1"/>
<polyline points="778.0,971.8 779.5,972.2" fill="none" stroke="#555" stroke-width="1.1"/>
<polyline points="786.2,970.2 787.8,970.8" fill="none" stroke="#555" stroke-width="1.1"/>
<polyline points="797.2,972.8 798.8,973.2" fill="none" stroke="#555" stroke-width="1.1"/>
<polyline points="770.5,976.0 772.0,976.5" fill="none" stroke="#555" stroke-width="1.1"/>
<polyline points="833.0,971.0 834.5,971.5" fill="none" stroke="#555" stroke-width="1.1"/>
<polyline points="833.8,976.0 835.2,976.5" fill="none" stroke="#555" stroke-width="1.1"/>
<polyline points="785.5,978.5 787.0,979.0" fill="none" stroke="#555" stroke-width="1.1"/>
<polyline points="801.2,979.2 802.8,979.8" fill="none" stroke="#555" stroke-width="1.1"/>
<polyline points="810.5,974.8 812.0,975.2" fill="none" stroke="#555" stroke-width="1.1"/>
<polyline points="807.2,982.8 808.8,983.2" fill="none" stroke="#555" stroke-width="1.1"/>
<polyline points="811.8,985.2 813.2,985.8" fill="none" stroke="#555" stroke-width="1.1"/>
<polyline points="818.8,981.8 820.2,982.2" fill="none" stroke="#555" stroke-width="1.1"/>
<polyline points="786.2,982.2 787.8,982.8" fill="none" stroke="#555" stroke-width="1.1"/>
<polyline points="799.2,989.8 800.8,990.2" fill="none" stroke="#555" stroke-width="1.1"/>
<polyline points="808.8,991.8 810.2,992.2" fill="none" stroke="#555" stroke-width="1.1"/>
<polyline points="776.8,989.2 778.2,989.8" fill="none" stroke="#555" stroke-width="1.1"/>
<polyline points="747.2,986.8 748.8,987.2" fill="none" stroke="#555" stroke-width="1.1"/>
<polyline points="767.2,994.2 768.8,994.8" fill="none" stroke="#555" stroke-width="1.1"/>
<polyline points="818.8,994.2 820.2,994.8" fill="none" stroke="#555" stroke-width="1.1"/>
<polyline points="822.2,996.8 823.8,997.2" fill="none" stroke="#555" stroke-width="1.1"/>
<polyline points="814.2,999.8 815.8,1000.2" fill="none" stroke="#555" stroke-width="1.1"/>
<polyline points="773.0,1001.0 774.5,1001.5" fill="none" stroke="#555" stroke-width="1.1"/>
<polyline points="776.8,1002.8 778.2,1003.2" fill="none" stroke="#555" stroke-width="1.1"/>
<polyline points="784.2,1000.2 785.8,1000.8" fill="none" stroke="#555" stroke-width="1.1"/>
<polyline points="741.2,1000.2 742.8,1000.8" fill="none" stroke="#555" stroke-width="1.1"/>
<polyline points="747.2,1000.2 748.8,1000.8" fill="none" stroke="#555" stroke-width="1.1"/>
<polyline points="753.0,999.8 754.5,1000.2" fill="none" stroke="#555" stroke-width="1.1"/>
<polyline points="728.0,1006.8 729.5,1007.2" fill="none" stroke="#555" stroke-width="1.1"/>
<polyline points="732.2,1004.8 733.8,1005.2" fill="none" stroke="#555" stroke-width="1.1"/>
<polyline points="754.8,1008.5 756.2,1009.0" fill="none" stroke="#555" stroke-width="1.1"/>
<polyline points="796.2,1008.5 797.8,1009.0" fill="none" stroke="#555" stroke-width="1.1"/>
<polyline points="801.2,1007.2 802.8,1007.8" fill="none" stroke="#555" stroke-width="1.1"/>
<polyline points="795.5,1011.0 797.0,1011.5" fill="none" stroke="#555" stroke-width="1.1"/>
<polyline points="761.8,1013.5 763.2,1014.0" fill="none" stroke="#555" stroke-width="1.1"/>
<polyline points="760.5,1016.0 762.0,1016.5" fill="none" stroke="#555" stroke-width="1.1"/>
<polyline points="737.2,1016.0 738.8,1016.5" fill="none" stroke="#555" stroke-width="1.1"/>
<polyline points="711.8,1015.2 713.2,1015.8" fill="none" stroke="#555" stroke-width="1.1"/>
<polyline points="711.2,1021.8 712.8,1022.2" fill="none" stroke="#555" stroke-width="1.1"/>
<polyline points="701.8,1020.2 703.2,1020.8" fill="none" stroke="#555" stroke-width="1.1"/>
<polyline points="731.2,1021.0 732.8,1021.5" fill="none" stroke="#555" stroke-width="1.1"/>
<polyline points="732.2,1024.2 733.8,1024.8" fill="none" stroke="#555" stroke-width="1.1"/>
<polyline points="729.2,1027.2 730.8,1027.8" fill="none" stroke="#555" stroke-width="1.1"/>
<polyline points="754.2,1021.0 755.8,1021.5" fill="none" stroke="#555" stroke-width="1.1"/>
<polyline points="772.2,1018.5 773.8,1019.0" fill="none" stroke="#555" stroke-width="1.1"/>
<polyline points="785.5,1015.2 787.0,1015.8" fill="none" stroke="#555" stroke-width="1.1"/>
<polyline points="788.8,1018.5 790.2,1019.0" fill="none" stroke="#555" stroke-width="1.1"/>
<polyline points="786.8,1027.2 788.2,1027.8" fill="none" stroke="#555" stroke-width="1.1"/>
<polyline points="790.5,1027.8 792.0,1028.2" fill="none" stroke="#555" stroke-width="1.1"/>
<polyline points="788.8,1033.5 790.2,1034.0" fill="none" stroke="#555" stroke-width="1.1"/>
<polyline points="770.5,1029.8 772.0,1030.2" fill="none" stroke="#555" stroke-width="1.1"/>
<polyline points="766.2,1039.8 767.8,1040.2" fill="none" stroke="#555" stroke-width="1.1"/>
<polyline points="759.8,1052.8 761.2,1053.2" fill="none" stroke="#555" stroke-width="1.1"/>
<polyline points="746.8,1063.5 748.2,1064.0" fill="none" stroke="#555" stroke-width="1.1"/>
<polyline points="745.5,1066.0 747.0,1066.5" fill="none" stroke="#555" stroke-width="1.1"/>
<polyline points="692.5,1031.2 696.2,1028.2 701.2,1027.5" fill="none" stroke="#666" stroke-width="1.0"/>
<polyline points="922.1,560.0 925.8,560.0" fill="none" stroke="#555" stroke-width="0.9"/>
<polyline points="921.7,563.3 925.8,563.8" fill="none" stroke="#555" stroke-width="0.9"/>
<polyline points="925.4,553.3 928.8,555.4" fill="none" stroke="#555" stroke-width="0.9"/>
<polyline points="931.2,554.2 932.9,554.2" fill="none" stroke="#555" stroke-width="0.9"/>
<polyline points="914.6,600.0 916.7,601.2" fill="none" stroke="#555" stroke-width="0.9"/>
<polyline points="900.0,610.0 903.3,612.5" fill="none" stroke="#555" stroke-width="0.9"/>
<polyline points="900.8,608.3 901.7,606.7" fill="none" stroke="#555" stroke-width="0.9"/>
<polyline points="47.5,377.5 55.0,363.8 70.0,355.0 85.0,352.5 86.2,357.5 100.0,356.2 106.2,345.0 122.5,342.5 131.2,336.2 147.5,330.0 166.2,322.5 167.5,310.0 175.0,303.8 177.5,297.5 175.0,285.0 170.0,272.5 162.5,263.8 195.0,255.0 210.0,257.5 205.0,247.5 212.5,232.5 218.8,217.5 232.5,221.2 252.5,223.8 263.8,218.8 265.0,195.0 282.5,190.0 287.5,178.8 303.8,177.5 305.0,183.8 315.0,192.5 325.0,200.0 340.0,205.0 350.0,206.2 352.5,216.2 362.5,227.5 358.8,240.0 356.2,250.0 358.8,257.5 372.5,260.0 385.0,262.0 407.5,262.5 422.5,270.0 440.0,276.2 440.0,282.5 445.0,287.5 450.0,298.8 457.5,307.5 472.5,307.5 490.0,310.0 515.0,311.8 530.0,309.5 547.5,311.2 557.5,315.0 560.0,318.8 577.5,322.5 587.5,326.2 602.5,326.2 612.5,331.2 616.2,328.8 640.0,318.8 665.0,315.0 692.5,315.0 705.0,310.0 715.0,303.8 722.5,296.2 736.2,288.8 737.5,285.0 727.5,275.0 730.0,267.5 737.5,260.0 747.5,261.2 757.5,266.2 770.0,266.2 780.0,258.8 787.5,253.8 800.0,253.8 812.5,246.2 820.0,237.5 835.0,232.5 847.5,228.8 860.0,226.2 870.0,228.8 876.2,230.0 880.0,225.0 875.0,216.2 866.2,210.0 857.5,201.2 850.0,198.8 840.0,203.8 835.0,207.5 825.0,203.8 810.0,206.2 802.5,198.8 807.5,195.0 812.5,180.0 822.5,163.8 840.0,170.0 852.5,163.8 865.0,160.0 865.0,160.0 868.8,156.2 867.5,151.2 873.8,141.2 882.5,127.5 892.5,118.8 895.0,108.8 882.5,106.2 885.0,102.5 897.5,93.8 913.8,91.2 940.0,86.2 950.0,87.5 960.0,92.5 975.0,95.0 985.0,100.0 992.5,106.2 998.8,116.2 997.5,122.5 1003.8,130.0 1007.5,137.5 1012.5,146.2 1017.5,156.2 1018.8,163.8 1025.0,168.8 1040.0,168.8 1050.0,172.5 1057.5,175.0 1067.5,182.5 1072.5,183.8 1075.0,195.0 1080.0,206.2 1092.5,207.5 1106.2,206.2 1112.5,202.5 1122.5,198.8 1135.0,195.0 1152.5,192.0 1145.0,196.2 1145.0,207.5 1138.8,215.0 1135.0,230.0 1127.5,242.5 1117.5,252.5 1115.0,261.2 1103.8,258.8 1092.5,260.0 1080.0,265.0 1082.5,275.0 1085.0,293.8 1080.0,305.0 1072.5,310.0 1072.5,315.0 1065.0,307.5 1058.8,303.8 1057.5,312.5 1050.0,317.5 1040.0,322.5 1025.0,326.2 1030.0,332.5 1025.0,336.2 1012.5,328.8 1002.5,331.2 996.2,337.5 990.0,342.5 984.2,345.8 978.3,348.3 973.3,353.3 968.3,356.7 961.7,361.7 956.7,368.3 950.0,368.3 943.3,370.0 935.0,372.5 926.7,376.7 920.0,381.7 915.0,385.0 908.3,388.3 902.5,389.2 902.5,386.7 906.7,386.7 911.7,385.0 910.8,378.3 906.7,380.0 904.2,374.2 909.2,372.5 908.3,367.5 912.5,365.0 916.7,360.0 921.7,355.8 920.0,351.7 915.8,346.7 910.0,346.7 903.3,347.5 896.7,350.8 893.3,356.7 886.7,360.0 878.3,362.5 873.3,366.7 868.3,370.0 869.2,375.0 865.0,379.2 858.3,381.7 853.3,385.0 848.3,380.0 846.7,383.3 843.3,388.3 840.0,394.2 844.2,399.2 850.0,403.3 856.7,402.5 864.2,403.3 868.3,409.2 866.7,411.7 863.3,415.8 866.7,419.2 871.7,421.7 875.8,422.5 879.2,420.0 883.3,413.3 890.0,410.8 895.8,409.2 900.0,410.8 906.7,413.3 913.3,415.0 920.0,415.8 930.0,418.3 926.7,425.8 921.7,426.7 915.0,427.5 906.7,430.0 898.3,434.2 893.3,440.0 886.7,443.3 883.3,446.7 878.3,453.3 871.7,461.7 868.3,466.7 873.3,472.5 881.7,477.5 887.5,480.0 890.0,486.7 893.3,495.0 897.5,505.0 900.0,513.3 906.7,518.3 907.5,520.0 909.2,524.2 914.2,527.5 917.5,532.5 917.8,537.5 920.0,542.0 917.5,545.0 917.5,549.0 918.5,555.5 912.0,553.0 905.0,555.0 900.8,557.2 906.7,562.5 913.3,569.2 917.5,572.5 915.0,577.5 917.5,586.2 912.5,592.5 911.2,600.0 905.0,608.8 900.0,612.5 895.0,620.0 890.0,626.2 885.0,632.5 878.8,635.0 882.5,640.0 876.2,646.2 878.8,658.8 875.0,662.5 867.5,665.0 862.5,671.2 856.2,680.0 847.5,682.5 842.5,690.0 836.2,697.5 828.8,700.0 822.5,705.0 817.5,712.5 808.8,715.0 801.2,716.2 793.8,718.8 786.2,717.5 777.5,725.0 770.0,720.0 767.5,727.5 757.5,732.5 750.0,738.8 740.0,736.2 740.0,736.2 735.0,740.0 730.8,740.8 725.0,743.2 720.0,744.2 716.8,745.8 713.2,747.5 710.0,748.2 707.5,750.8 705.0,754.2 706.8,755.8 710.0,756.8 711.8,760.0 713.2,765.0 711.8,766.8 706.8,768.8 700.8,768.2 700.8,765.0 698.2,761.8 696.8,756.8 696.8,750.0 700.0,745.0 699.2,740.0 686.2,743.8 675.0,741.2 665.0,740.0 655.0,738.8 647.5,733.8 640.0,725.0 643.8,720.0 640.0,715.0 630.0,712.5 622.5,708.8 620.0,703.8 610.0,712.5 602.5,716.2 595.0,715.0 590.0,721.2 582.5,716.2 577.5,722.5 567.5,716.2 562.5,721.2 551.2,723.8 551.2,732.5 555.0,740.0 555.0,748.8 545.0,747.5 542.5,736.2 537.5,740.0 526.2,742.5 520.0,731.2 507.5,728.8 511.2,720.0 511.2,720.0 513.8,710.0 507.5,708.8 502.5,702.5 498.8,691.2 492.5,688.8 483.8,691.2 478.8,692.5 483.8,687.5 478.8,680.0 481.2,677.5 482.5,670.0 488.8,666.2 490.0,660.0 495.0,652.5 498.8,645.0 500.0,632.5 500.0,620.0 496.2,617.5 492.5,615.0 490.0,606.2 486.2,603.8 481.2,598.8 477.5,601.2 476.2,610.0 471.2,615.0 465.0,610.0 457.5,606.2 447.5,603.8 437.5,608.8 422.5,617.5 415.0,623.8 411.2,630.0 397.5,632.0 381.2,632.5 380.0,623.8 372.5,620.0 371.2,613.8 365.0,610.0 352.5,607.5 340.0,606.2 328.8,615.0 326.2,625.0 322.5,622.5 323.8,613.8 320.0,607.5 305.0,612.5 297.5,613.8 290.0,611.2 280.0,607.5 271.2,611.2 266.2,603.8 257.5,603.8 255.0,597.5 247.5,595.0 240.0,590.0 235.0,582.5 227.5,585.0 225.0,580.0 215.0,575.0 202.5,567.5 200.0,562.5 190.0,560.0 186.2,567.5 183.8,565.0 175.0,560.0 165.0,556.2 160.0,551.2 152.5,548.8 145.0,545.0 141.2,537.5 137.5,527.5 135.0,517.5 141.2,513.8 145.0,520.0 150.0,513.8 147.5,502.5 141.2,495.0 140.0,486.2 145.0,479.5 133.8,473.8 130.0,467.5 128.8,457.5 117.5,455.0 102.5,451.2 92.5,445.0 90.0,431.2 80.0,425.0 65.0,422.5 76.2,418.8 72.5,410.0 70.0,393.8 53.8,393.8 47.5,377.5" fill="none" stroke="#50565c" stroke-width="1.1"/>
<rect x="58" y="805.8" width="33" height="33.8" fill="#ffffe5"/>
<text x="99.5" y="834.8" font-size="28.4" font-family="Liberation Sans, Noto Serif CJK SC, sans-serif">0.17% - 0.71%</text>
<rect x="58" y="839.3" width="33" height="33.8" fill="#fff8c1"/>
<text x="99.5" y="868.3" font-size="28.4" font-family="Liberation Sans, Noto Serif CJK SC, sans-serif">0.71% - 1.08%</text>
<rect x="58" y="872.8" width="33" height="33.8" fill="#fee79b"/>
<text x="99.5" y="901.8" font-size="28.4" font-family="Liberation Sans, Noto Serif CJK SC, sans-serif">1.08% - 1.44%</text>
<rect x="58" y="906.3" width="33" height="33.8" fill="#fece65"/>
<text x="99.5" y="935.3" font-size="28.4" font-family="Liberation Sans, Noto Serif CJK SC, sans-serif">1.44% - 1.87%</text>
<rect x="58" y="939.8" width="33" height="33.8" fill="#feac3a"/>
<text x="99.5" y="968.8" font-size="28.4" font-family="Liberation Sans, Noto Serif CJK SC, sans-serif">1.87% - 2.44%</text>
<rect x="58" y="973.3" width="33" height="33.8" fill="#f68720"/>
<text x="99.5" y="1002.3" font-size="28.4" font-family="Liberation Sans, Noto Serif CJK SC, sans-serif">2.44% - 3.13%</text>
<rect x="58" y="1006.8" width="33" height="33.8" fill="#e1640e"/>
<text x="99.5" y="1035.8" font-size="28.4" font-family="Liberation Sans, Noto Serif CJK SC, sans-serif">3.13% - 4.03%</text>
<rect x="58" y="1040.3" width="33" height="33.8" fill="#c14702"/>
<text x="99.5" y="1069.3" font-size="28.4" font-family="Liberation Sans, Noto Serif CJK SC, sans-serif">4.03% - 4.90%</text>
<rect x="58" y="1073.8" width="33" height="33.8" fill="#933204"/>
<text x="99.5" y="1102.8" font-size="28.4" font-family="Liberation Sans, Noto Serif CJK SC, sans-serif">4.90% - 9.09%</text>
<rect x="58" y="1107.3" width="33" height="33.8" fill="#662506"/>
<text x="99.5" y="1136.3" font-size="28.4" font-family="Liberation Sans, Noto Serif CJK SC, sans-serif">9.09% - 20.00%</text>
<text x="49.5" y="108" font-size="52" font-family="Noto Serif CJK SC, Liberation Serif, serif">父系：</text>
<text x="219.2" y="106.8" font-size="52" font-family="Liberation Sans, Noto Serif CJK SC, sans-serif">O-F14163 (</text>
<text x="485" y="108" font-size="52" font-family="Noto Serif CJK SC, Liberation Serif, serif">含下游</text>
<text x="641" y="106.8" font-size="52" font-family="Liberation Sans, Noto Serif CJK SC, sans-serif">)</text>
<text x="55" y="786.5" font-size="37" font-family="Noto Serif CJK SC, Liberation Serif, serif">相对占比</text>
<text x="945" y="1138" font-size="28" font-family="Noto Serif CJK SC, Liberation Serif, serif">作者</text>
<text x="1001" y="1137" font-size="28" font-family="Liberation Sans, Noto Serif CJK SC, sans-serif">:O1a</text>
<text x="1061" y="1138" font-size="28" font-family="Noto Serif CJK SC, Liberation Serif, serif">溯源群</text>
</svg>
<div class="ln" style="left:24px;top:24px;width:1152px;height:1px"></div>
<div class="ln" style="left:24px;top:24px;width:1px;height:1152px"></div>
<div class="ln" style="left:1174px;top:24px;width:2px;height:1152px"></div>
<div class="ln" style="left:24px;top:1174px;width:1152px;height:2px"></div>
</body></html>
